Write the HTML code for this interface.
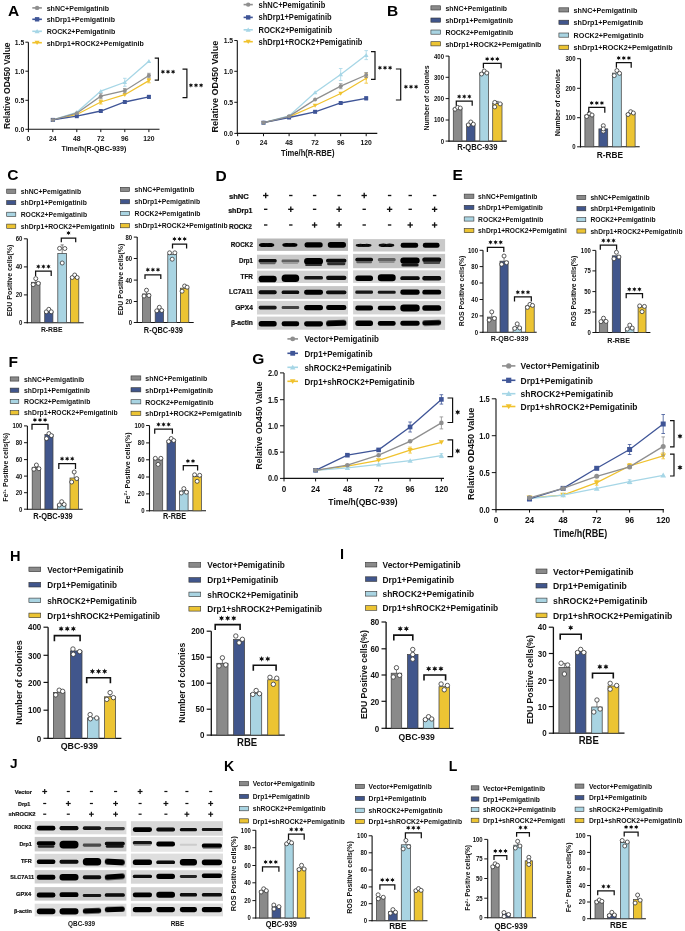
<!DOCTYPE html>
<html><head><meta charset="utf-8"><style>
html,body{margin:0;padding:0;background:#fff;}
svg{display:block;font-family:"Liberation Sans",sans-serif;filter:blur(0.3px);}
</style></head><body>
<svg width="685" height="931" viewBox="0 0 685 931">
<defs><filter id="bl" x="-20%" y="-60%" width="140%" height="220%"><feGaussianBlur stdDeviation="0.75"/></filter></defs>
<rect width="685" height="931" fill="#fff"/>
<text x="0" y="0" transform="translate(7.90,15.99) scale(1.0,1)" font-size="15.52" font-weight="bold" text-anchor="start" fill="#000" >A</text>
<line x1="32.30" y1="7.90" x2="41.90" y2="7.90" stroke="#8f8f8f" stroke-width="1.6"/>
<circle cx="37.10" cy="7.90" r="2.2" fill="#8f8f8f"/>
<text x="0" y="0" transform="translate(46.70,10.75) scale(0.89,1)" font-size="7.92" font-weight="bold" text-anchor="start" fill="#111" >shNC+Pemigatinib</text>
<line x1="32.30" y1="19.30" x2="41.90" y2="19.30" stroke="#3f5597" stroke-width="1.6"/>
<rect x="34.90" y="17.10" width="4.40" height="4.40" fill="#3f5597"/>
<text x="0" y="0" transform="translate(46.70,22.15) scale(0.89,1)" font-size="7.92" font-weight="bold" text-anchor="start" fill="#111" >shDrp1+Pemigatinib</text>
<line x1="32.30" y1="31.30" x2="41.90" y2="31.30" stroke="#a6d6e6" stroke-width="1.6"/>
<path d="M37.10,28.88 L39.63,33.28 L34.57,33.28Z" fill="#a6d6e6"/>
<text x="0" y="0" transform="translate(46.70,34.15) scale(0.89,1)" font-size="7.92" font-weight="bold" text-anchor="start" fill="#111" >ROCK2+Pemigatinib</text>
<line x1="32.30" y1="42.70" x2="41.90" y2="42.70" stroke="#f0c22e" stroke-width="1.6"/>
<path d="M37.10,45.12 L39.63,40.72 L34.57,40.72Z" fill="#f0c22e"/>
<text x="0" y="0" transform="translate(46.70,45.55) scale(0.89,1)" font-size="7.92" font-weight="bold" text-anchor="start" fill="#111" >shDrp1+ROCK2+Pemigatinib</text>
<line x1="28.40" y1="42.20" x2="28.40" y2="129.85" stroke="#111" stroke-width="1.1"/>
<line x1="25.40" y1="129.30" x2="28.40" y2="129.30" stroke="#111" stroke-width="0.9900000000000001"/>
<text x="0" y="0" transform="translate(24.20,132.05) scale(0.89,1)" font-size="7.64" font-weight="bold" text-anchor="end" fill="#111" >0.0</text>
<line x1="25.40" y1="100.30" x2="28.40" y2="100.30" stroke="#111" stroke-width="0.9900000000000001"/>
<text x="0" y="0" transform="translate(24.20,103.05) scale(0.89,1)" font-size="7.64" font-weight="bold" text-anchor="end" fill="#111" >0.5</text>
<line x1="25.40" y1="71.20" x2="28.40" y2="71.20" stroke="#111" stroke-width="0.9900000000000001"/>
<text x="0" y="0" transform="translate(24.20,73.95) scale(0.89,1)" font-size="7.64" font-weight="bold" text-anchor="end" fill="#111" >1.0</text>
<line x1="25.40" y1="42.20" x2="28.40" y2="42.20" stroke="#111" stroke-width="0.9900000000000001"/>
<text x="0" y="0" transform="translate(24.20,44.95) scale(0.89,1)" font-size="7.64" font-weight="bold" text-anchor="end" fill="#111" >1.5</text>
<line x1="27.90" y1="129.30" x2="159.50" y2="129.30" stroke="#111" stroke-width="1.1"/>
<line x1="28.40" y1="129.30" x2="28.40" y2="132.10" stroke="#111" stroke-width="1.0"/>
<text x="0" y="0" transform="translate(28.40,140.95) scale(0.89,1)" font-size="7.64" font-weight="bold" text-anchor="middle" fill="#111" >0</text>
<line x1="52.80" y1="129.30" x2="52.80" y2="132.10" stroke="#111" stroke-width="1.0"/>
<text x="0" y="0" transform="translate(52.80,140.95) scale(0.89,1)" font-size="7.64" font-weight="bold" text-anchor="middle" fill="#111" >24</text>
<line x1="76.80" y1="129.30" x2="76.80" y2="132.10" stroke="#111" stroke-width="1.0"/>
<text x="0" y="0" transform="translate(76.80,140.95) scale(0.89,1)" font-size="7.64" font-weight="bold" text-anchor="middle" fill="#111" >48</text>
<line x1="100.80" y1="129.30" x2="100.80" y2="132.10" stroke="#111" stroke-width="1.0"/>
<text x="0" y="0" transform="translate(100.80,140.95) scale(0.89,1)" font-size="7.64" font-weight="bold" text-anchor="middle" fill="#111" >72</text>
<line x1="124.80" y1="129.30" x2="124.80" y2="132.10" stroke="#111" stroke-width="1.0"/>
<text x="0" y="0" transform="translate(124.80,140.95) scale(0.89,1)" font-size="7.64" font-weight="bold" text-anchor="middle" fill="#111" >96</text>
<line x1="148.90" y1="129.30" x2="148.90" y2="132.10" stroke="#111" stroke-width="1.0"/>
<text x="0" y="0" transform="translate(148.90,140.95) scale(0.89,1)" font-size="7.64" font-weight="bold" text-anchor="middle" fill="#111" >120</text>
<text x="0" y="0" transform="translate(93.90,151.27) scale(0.89,1)" font-size="7.98" font-weight="bold" text-anchor="middle" fill="#111" >Time/h(R-QBC-939)</text>
<text x="0" y="0" transform="translate(6.50,85.70) rotate(-90)" font-size="8.53" font-weight="bold" text-anchor="middle" fill="#111" dy="3.07">Relative OD450 Value</text>
<path d="M52.80,119.90 L76.80,114.50 L100.80,102.00 L124.80,94.70 L148.90,80.60" fill="none" stroke="#f0c22e" stroke-width="1.3"/>
<path d="M52.80,122.10 L55.10,118.10 L50.50,118.10Z" fill="#f0c22e"/>
<path d="M76.80,116.70 L79.10,112.70 L74.50,112.70Z" fill="#f0c22e"/>
<line x1="100.80" y1="100.00" x2="100.80" y2="104.00" stroke="#f0c22e" stroke-width="0.8"/>
<line x1="99.00" y1="100.00" x2="102.60" y2="100.00" stroke="#f0c22e" stroke-width="0.8"/>
<line x1="99.00" y1="104.00" x2="102.60" y2="104.00" stroke="#f0c22e" stroke-width="0.8"/>
<path d="M100.80,104.20 L103.10,100.20 L98.50,100.20Z" fill="#f0c22e"/>
<path d="M124.80,96.90 L127.10,92.90 L122.50,92.90Z" fill="#f0c22e"/>
<line x1="148.90" y1="78.40" x2="148.90" y2="82.80" stroke="#f0c22e" stroke-width="0.8"/>
<line x1="147.10" y1="78.40" x2="150.70" y2="78.40" stroke="#f0c22e" stroke-width="0.8"/>
<line x1="147.10" y1="82.80" x2="150.70" y2="82.80" stroke="#f0c22e" stroke-width="0.8"/>
<path d="M148.90,82.80 L151.20,78.80 L146.60,78.80Z" fill="#f0c22e"/>
<path d="M52.80,119.90 L76.80,112.30 L100.80,91.10 L124.80,82.30 L148.90,61.20" fill="none" stroke="#a6d6e6" stroke-width="1.3"/>
<path d="M52.80,117.70 L55.10,121.70 L50.50,121.70Z" fill="#a6d6e6"/>
<path d="M76.80,110.10 L79.10,114.10 L74.50,114.10Z" fill="#a6d6e6"/>
<path d="M100.80,88.90 L103.10,92.90 L98.50,92.90Z" fill="#a6d6e6"/>
<line x1="124.80" y1="78.30" x2="124.80" y2="86.30" stroke="#a6d6e6" stroke-width="0.8"/>
<line x1="123.00" y1="78.30" x2="126.60" y2="78.30" stroke="#a6d6e6" stroke-width="0.8"/>
<line x1="123.00" y1="86.30" x2="126.60" y2="86.30" stroke="#a6d6e6" stroke-width="0.8"/>
<path d="M124.80,80.10 L127.10,84.10 L122.50,84.10Z" fill="#a6d6e6"/>
<path d="M148.90,59.00 L151.20,63.00 L146.60,63.00Z" fill="#a6d6e6"/>
<path d="M52.80,119.90 L76.80,116.20 L100.80,111.00 L124.80,102.00 L148.90,96.90" fill="none" stroke="#3f5597" stroke-width="1.3"/>
<rect x="50.80" y="117.90" width="4.00" height="4.00" fill="#3f5597"/>
<rect x="74.80" y="114.20" width="4.00" height="4.00" fill="#3f5597"/>
<rect x="98.80" y="109.00" width="4.00" height="4.00" fill="#3f5597"/>
<rect x="122.80" y="100.00" width="4.00" height="4.00" fill="#3f5597"/>
<line x1="148.90" y1="95.40" x2="148.90" y2="98.40" stroke="#3f5597" stroke-width="0.8"/>
<line x1="147.10" y1="95.40" x2="150.70" y2="95.40" stroke="#3f5597" stroke-width="0.8"/>
<line x1="147.10" y1="98.40" x2="150.70" y2="98.40" stroke="#3f5597" stroke-width="0.8"/>
<rect x="146.90" y="94.90" width="4.00" height="4.00" fill="#3f5597"/>
<path d="M52.80,119.90 L76.80,113.20 L100.80,96.20 L124.80,90.70 L148.90,75.50" fill="none" stroke="#8f8f8f" stroke-width="1.3"/>
<circle cx="52.80" cy="119.90" r="2.0" fill="#8f8f8f"/>
<circle cx="76.80" cy="113.20" r="2.0" fill="#8f8f8f"/>
<line x1="100.80" y1="93.70" x2="100.80" y2="98.70" stroke="#8f8f8f" stroke-width="0.8"/>
<line x1="99.00" y1="93.70" x2="102.60" y2="93.70" stroke="#8f8f8f" stroke-width="0.8"/>
<line x1="99.00" y1="98.70" x2="102.60" y2="98.70" stroke="#8f8f8f" stroke-width="0.8"/>
<circle cx="100.80" cy="96.20" r="2.0" fill="#8f8f8f"/>
<line x1="124.80" y1="88.50" x2="124.80" y2="92.90" stroke="#8f8f8f" stroke-width="0.8"/>
<line x1="123.00" y1="88.50" x2="126.60" y2="88.50" stroke="#8f8f8f" stroke-width="0.8"/>
<line x1="123.00" y1="92.90" x2="126.60" y2="92.90" stroke="#8f8f8f" stroke-width="0.8"/>
<circle cx="124.80" cy="90.70" r="2.0" fill="#8f8f8f"/>
<line x1="148.90" y1="73.30" x2="148.90" y2="77.70" stroke="#8f8f8f" stroke-width="0.8"/>
<line x1="147.10" y1="73.30" x2="150.70" y2="73.30" stroke="#8f8f8f" stroke-width="0.8"/>
<line x1="147.10" y1="77.70" x2="150.70" y2="77.70" stroke="#8f8f8f" stroke-width="0.8"/>
<circle cx="148.90" cy="75.50" r="2.0" fill="#8f8f8f"/>
<path d="M154.70,58.20 L158.40,58.20 L158.40,80.10 L154.70,80.10" fill="none" stroke="#111" stroke-width="1.2"/>
<path d="M162.90,69.45 L163.47,70.80 L164.94,70.62 L164.05,71.80 L164.94,72.97 L163.47,72.80 L162.90,74.15 L162.33,72.80 L160.86,72.97 L161.75,71.80 L160.86,70.62 L162.33,70.80Z M168.00,69.45 L168.57,70.80 L170.04,70.62 L169.15,71.80 L170.04,72.97 L168.57,72.80 L168.00,74.15 L167.43,72.80 L165.96,72.97 L166.85,71.80 L165.96,70.62 L167.43,70.80Z M173.10,69.45 L173.67,70.80 L175.14,70.62 L174.25,71.80 L175.14,72.97 L173.67,72.80 L173.10,74.15 L172.53,72.80 L171.06,72.97 L171.95,71.80 L171.06,70.62 L172.53,70.80Z " fill="#111"/>
<path d="M182.50,69.20 L186.90,69.20 L186.90,97.70 L182.50,97.70" fill="none" stroke="#111" stroke-width="1.2"/>
<path d="M190.90,82.95 L191.47,84.30 L192.94,84.12 L192.05,85.30 L192.94,86.47 L191.47,86.30 L190.90,87.65 L190.33,86.30 L188.86,86.47 L189.75,85.30 L188.86,84.12 L190.33,84.30Z M196.00,82.95 L196.57,84.30 L198.04,84.12 L197.15,85.30 L198.04,86.47 L196.57,86.30 L196.00,87.65 L195.43,86.30 L193.96,86.47 L194.85,85.30 L193.96,84.12 L195.43,84.30Z M201.10,82.95 L201.67,84.30 L203.14,84.12 L202.25,85.30 L203.14,86.47 L201.67,86.30 L201.10,87.65 L200.53,86.30 L199.06,86.47 L199.95,85.30 L199.06,84.12 L200.53,84.30Z " fill="#111"/>
<line x1="243.60" y1="4.60" x2="252.80" y2="4.60" stroke="#8f8f8f" stroke-width="1.6"/>
<circle cx="248.20" cy="4.60" r="2.2" fill="#8f8f8f"/>
<text x="0" y="0" transform="translate(258.50,7.65) scale(0.89,1)" font-size="8.48" font-weight="bold" text-anchor="start" fill="#111" >shNC+Pemigatinib</text>
<line x1="243.60" y1="17.40" x2="252.80" y2="17.40" stroke="#3f5597" stroke-width="1.6"/>
<rect x="246.00" y="15.20" width="4.40" height="4.40" fill="#3f5597"/>
<text x="0" y="0" transform="translate(258.50,20.45) scale(0.89,1)" font-size="8.48" font-weight="bold" text-anchor="start" fill="#111" >shDrp1+Pemigatinib</text>
<line x1="243.60" y1="29.80" x2="252.80" y2="29.80" stroke="#a6d6e6" stroke-width="1.6"/>
<path d="M248.20,27.38 L250.73,31.78 L245.67,31.78Z" fill="#a6d6e6"/>
<text x="0" y="0" transform="translate(258.50,32.85) scale(0.89,1)" font-size="8.48" font-weight="bold" text-anchor="start" fill="#111" >ROCK2+Pemigatinib</text>
<line x1="243.60" y1="41.70" x2="252.80" y2="41.70" stroke="#f0c22e" stroke-width="1.6"/>
<path d="M248.20,44.12 L250.73,39.72 L245.67,39.72Z" fill="#f0c22e"/>
<text x="0" y="0" transform="translate(258.50,44.75) scale(0.89,1)" font-size="8.48" font-weight="bold" text-anchor="start" fill="#111" >shDrp1+ROCK2+Pemigatinib</text>
<line x1="237.30" y1="40.50" x2="237.30" y2="133.95" stroke="#111" stroke-width="1.1"/>
<line x1="234.30" y1="133.40" x2="237.30" y2="133.40" stroke="#111" stroke-width="0.9900000000000001"/>
<text x="0" y="0" transform="translate(233.10,136.15) scale(0.89,1)" font-size="7.64" font-weight="bold" text-anchor="end" fill="#111" >0.0</text>
<line x1="234.30" y1="102.30" x2="237.30" y2="102.30" stroke="#111" stroke-width="0.9900000000000001"/>
<text x="0" y="0" transform="translate(233.10,105.05) scale(0.89,1)" font-size="7.64" font-weight="bold" text-anchor="end" fill="#111" >0.5</text>
<line x1="234.30" y1="71.30" x2="237.30" y2="71.30" stroke="#111" stroke-width="0.9900000000000001"/>
<text x="0" y="0" transform="translate(233.10,74.05) scale(0.89,1)" font-size="7.64" font-weight="bold" text-anchor="end" fill="#111" >1.0</text>
<line x1="234.30" y1="40.50" x2="237.30" y2="40.50" stroke="#111" stroke-width="0.9900000000000001"/>
<text x="0" y="0" transform="translate(233.10,43.25) scale(0.89,1)" font-size="7.64" font-weight="bold" text-anchor="end" fill="#111" >1.5</text>
<line x1="236.80" y1="133.40" x2="377.30" y2="133.40" stroke="#111" stroke-width="1.1"/>
<line x1="237.60" y1="133.40" x2="237.60" y2="136.20" stroke="#111" stroke-width="1.0"/>
<text x="0" y="0" transform="translate(237.60,145.15) scale(0.89,1)" font-size="7.64" font-weight="bold" text-anchor="middle" fill="#111" >0</text>
<line x1="263.50" y1="133.40" x2="263.50" y2="136.20" stroke="#111" stroke-width="1.0"/>
<text x="0" y="0" transform="translate(263.50,145.15) scale(0.89,1)" font-size="7.64" font-weight="bold" text-anchor="middle" fill="#111" >24</text>
<line x1="289.10" y1="133.40" x2="289.10" y2="136.20" stroke="#111" stroke-width="1.0"/>
<text x="0" y="0" transform="translate(289.10,145.15) scale(0.89,1)" font-size="7.64" font-weight="bold" text-anchor="middle" fill="#111" >48</text>
<line x1="315.10" y1="133.40" x2="315.10" y2="136.20" stroke="#111" stroke-width="1.0"/>
<text x="0" y="0" transform="translate(315.10,145.15) scale(0.89,1)" font-size="7.64" font-weight="bold" text-anchor="middle" fill="#111" >72</text>
<line x1="340.70" y1="133.40" x2="340.70" y2="136.20" stroke="#111" stroke-width="1.0"/>
<text x="0" y="0" transform="translate(340.70,145.15) scale(0.89,1)" font-size="7.64" font-weight="bold" text-anchor="middle" fill="#111" >96</text>
<line x1="366.20" y1="133.40" x2="366.20" y2="136.20" stroke="#111" stroke-width="1.0"/>
<text x="0" y="0" transform="translate(366.20,145.15) scale(0.89,1)" font-size="7.64" font-weight="bold" text-anchor="middle" fill="#111" >120</text>
<text x="0" y="0" transform="translate(307.70,156.08) scale(0.89,1)" font-size="8.56" font-weight="bold" text-anchor="middle" fill="#111" >Time/h(R-RBE)</text>
<text x="0" y="0" transform="translate(214.50,86.70) rotate(-90)" font-size="9.03" font-weight="bold" text-anchor="middle" fill="#111" dy="3.25">Relative OD450 Value</text>
<path d="M263.50,122.70 L289.10,116.80 L315.10,105.50 L340.70,93.50 L366.20,78.20" fill="none" stroke="#f0c22e" stroke-width="1.3"/>
<path d="M263.50,124.90 L265.80,120.90 L261.20,120.90Z" fill="#f0c22e"/>
<path d="M289.10,119.00 L291.40,115.00 L286.80,115.00Z" fill="#f0c22e"/>
<path d="M315.10,107.70 L317.40,103.70 L312.80,103.70Z" fill="#f0c22e"/>
<path d="M340.70,95.70 L343.00,91.70 L338.40,91.70Z" fill="#f0c22e"/>
<line x1="366.20" y1="73.20" x2="366.20" y2="83.20" stroke="#f0c22e" stroke-width="0.8"/>
<line x1="364.40" y1="73.20" x2="368.00" y2="73.20" stroke="#f0c22e" stroke-width="0.8"/>
<line x1="364.40" y1="83.20" x2="368.00" y2="83.20" stroke="#f0c22e" stroke-width="0.8"/>
<path d="M366.20,80.40 L368.50,76.40 L363.90,76.40Z" fill="#f0c22e"/>
<path d="M263.50,122.70 L289.10,116.00 L315.10,92.50 L340.70,74.50 L366.20,55.10" fill="none" stroke="#a6d6e6" stroke-width="1.3"/>
<path d="M263.50,120.50 L265.80,124.50 L261.20,124.50Z" fill="#a6d6e6"/>
<path d="M289.10,113.80 L291.40,117.80 L286.80,117.80Z" fill="#a6d6e6"/>
<path d="M315.10,90.30 L317.40,94.30 L312.80,94.30Z" fill="#a6d6e6"/>
<line x1="340.70" y1="68.50" x2="340.70" y2="80.50" stroke="#a6d6e6" stroke-width="0.8"/>
<line x1="338.90" y1="68.50" x2="342.50" y2="68.50" stroke="#a6d6e6" stroke-width="0.8"/>
<line x1="338.90" y1="80.50" x2="342.50" y2="80.50" stroke="#a6d6e6" stroke-width="0.8"/>
<path d="M340.70,72.30 L343.00,76.30 L338.40,76.30Z" fill="#a6d6e6"/>
<line x1="366.20" y1="50.60" x2="366.20" y2="59.60" stroke="#a6d6e6" stroke-width="0.8"/>
<line x1="364.40" y1="50.60" x2="368.00" y2="50.60" stroke="#a6d6e6" stroke-width="0.8"/>
<line x1="364.40" y1="59.60" x2="368.00" y2="59.60" stroke="#a6d6e6" stroke-width="0.8"/>
<path d="M366.20,52.90 L368.50,56.90 L363.90,56.90Z" fill="#a6d6e6"/>
<path d="M263.50,122.70 L289.10,117.50 L315.10,111.80 L340.70,103.00 L366.20,98.30" fill="none" stroke="#3f5597" stroke-width="1.3"/>
<rect x="261.50" y="120.70" width="4.00" height="4.00" fill="#3f5597"/>
<rect x="287.10" y="115.50" width="4.00" height="4.00" fill="#3f5597"/>
<rect x="313.10" y="109.80" width="4.00" height="4.00" fill="#3f5597"/>
<rect x="338.70" y="101.00" width="4.00" height="4.00" fill="#3f5597"/>
<line x1="366.20" y1="96.80" x2="366.20" y2="99.80" stroke="#3f5597" stroke-width="0.8"/>
<line x1="364.40" y1="96.80" x2="368.00" y2="96.80" stroke="#3f5597" stroke-width="0.8"/>
<line x1="364.40" y1="99.80" x2="368.00" y2="99.80" stroke="#3f5597" stroke-width="0.8"/>
<rect x="364.20" y="96.30" width="4.00" height="4.00" fill="#3f5597"/>
<path d="M263.50,122.70 L289.10,116.30 L315.10,99.60 L340.70,86.20 L366.20,75.00" fill="none" stroke="#8f8f8f" stroke-width="1.3"/>
<circle cx="263.50" cy="122.70" r="2.0" fill="#8f8f8f"/>
<circle cx="289.10" cy="116.30" r="2.0" fill="#8f8f8f"/>
<circle cx="315.10" cy="99.60" r="2.0" fill="#8f8f8f"/>
<line x1="340.70" y1="83.70" x2="340.70" y2="88.70" stroke="#8f8f8f" stroke-width="0.8"/>
<line x1="338.90" y1="83.70" x2="342.50" y2="83.70" stroke="#8f8f8f" stroke-width="0.8"/>
<line x1="338.90" y1="88.70" x2="342.50" y2="88.70" stroke="#8f8f8f" stroke-width="0.8"/>
<circle cx="340.70" cy="86.20" r="2.0" fill="#8f8f8f"/>
<line x1="366.20" y1="72.50" x2="366.20" y2="77.50" stroke="#8f8f8f" stroke-width="0.8"/>
<line x1="364.40" y1="72.50" x2="368.00" y2="72.50" stroke="#8f8f8f" stroke-width="0.8"/>
<line x1="364.40" y1="77.50" x2="368.00" y2="77.50" stroke="#8f8f8f" stroke-width="0.8"/>
<circle cx="366.20" cy="75.00" r="2.0" fill="#8f8f8f"/>
<path d="M371.00,51.60 L375.00,51.60 L375.00,79.30 L371.00,79.30" fill="none" stroke="#111" stroke-width="1.2"/>
<path d="M379.90,65.45 L380.47,66.80 L381.94,66.62 L381.05,67.80 L381.94,68.97 L380.47,68.80 L379.90,70.15 L379.32,68.80 L377.86,68.97 L378.75,67.80 L377.86,66.62 L379.32,66.80Z M385.00,65.45 L385.57,66.80 L387.04,66.62 L386.15,67.80 L387.04,68.97 L385.57,68.80 L385.00,70.15 L384.43,68.80 L382.96,68.97 L383.85,67.80 L382.96,66.62 L384.43,66.80Z M390.10,65.45 L390.67,66.80 L392.14,66.62 L391.25,67.80 L392.14,68.97 L390.67,68.80 L390.10,70.15 L389.52,68.80 L388.06,68.97 L388.95,67.80 L388.06,66.62 L389.52,66.80Z " fill="#111"/>
<path d="M395.90,69.00 L400.70,69.00 L400.70,100.00 L395.90,100.00" fill="none" stroke="#111" stroke-width="1.2"/>
<path d="M405.90,84.45 L406.47,85.80 L407.94,85.62 L407.05,86.80 L407.94,87.97 L406.47,87.80 L405.90,89.15 L405.32,87.80 L403.86,87.97 L404.75,86.80 L403.86,85.62 L405.32,85.80Z M411.00,84.45 L411.57,85.80 L413.04,85.62 L412.15,86.80 L413.04,87.97 L411.57,87.80 L411.00,89.15 L410.43,87.80 L408.96,87.97 L409.85,86.80 L408.96,85.62 L410.43,85.80Z M416.10,84.45 L416.67,85.80 L418.14,85.62 L417.25,86.80 L418.14,87.97 L416.67,87.80 L416.10,89.15 L415.52,87.80 L414.06,87.97 L414.95,86.80 L414.06,85.62 L415.52,85.80Z " fill="#111"/>
<text x="0" y="0" transform="translate(386.90,16.09) scale(1.0,1)" font-size="15.52" font-weight="bold" text-anchor="start" fill="#000" >B</text>
<rect x="430.90" y="5.80" width="9.80" height="4.20" fill="#8a8a8a" stroke="#333" stroke-width="0.6" />
<text x="0" y="0" transform="translate(445.40,10.72) scale(0.89,1)" font-size="7.83" font-weight="bold" text-anchor="start" fill="#111" >shNC+Pemigatinib</text>
<rect x="430.90" y="18.00" width="9.80" height="4.20" fill="#41568c" stroke="#333" stroke-width="0.6" />
<text x="0" y="0" transform="translate(445.40,22.92) scale(0.89,1)" font-size="7.83" font-weight="bold" text-anchor="start" fill="#111" >shDrp1+Pemigatinib</text>
<rect x="430.90" y="30.00" width="9.80" height="4.20" fill="#a9d4e2" stroke="#333" stroke-width="0.6" />
<text x="0" y="0" transform="translate(445.40,34.92) scale(0.89,1)" font-size="7.83" font-weight="bold" text-anchor="start" fill="#111" >ROCK2+Pemigatinib</text>
<rect x="430.90" y="41.70" width="9.80" height="4.20" fill="#ecc433" stroke="#333" stroke-width="0.6" />
<text x="0" y="0" transform="translate(445.40,46.62) scale(0.89,1)" font-size="7.83" font-weight="bold" text-anchor="start" fill="#111" >shDrp1+ROCK2+Pemigatinib</text>
<line x1="449.00" y1="56.10" x2="449.00" y2="141.65" stroke="#111" stroke-width="1.1"/>
<line x1="445.60" y1="141.10" x2="449.00" y2="141.10" stroke="#111" stroke-width="0.9900000000000001"/>
<text x="0" y="0" transform="translate(444.00,143.53) scale(0.89,1)" font-size="6.74" font-weight="bold" text-anchor="end" fill="#111" >0</text>
<line x1="445.60" y1="120.00" x2="449.00" y2="120.00" stroke="#111" stroke-width="0.9900000000000001"/>
<text x="0" y="0" transform="translate(444.00,122.43) scale(0.89,1)" font-size="6.74" font-weight="bold" text-anchor="end" fill="#111" >100</text>
<line x1="445.60" y1="98.60" x2="449.00" y2="98.60" stroke="#111" stroke-width="0.9900000000000001"/>
<text x="0" y="0" transform="translate(444.00,101.03) scale(0.89,1)" font-size="6.74" font-weight="bold" text-anchor="end" fill="#111" >200</text>
<line x1="445.60" y1="77.30" x2="449.00" y2="77.30" stroke="#111" stroke-width="0.9900000000000001"/>
<text x="0" y="0" transform="translate(444.00,79.73) scale(0.89,1)" font-size="6.74" font-weight="bold" text-anchor="end" fill="#111" >300</text>
<line x1="445.60" y1="56.10" x2="449.00" y2="56.10" stroke="#111" stroke-width="0.9900000000000001"/>
<text x="0" y="0" transform="translate(444.00,58.53) scale(0.89,1)" font-size="6.74" font-weight="bold" text-anchor="end" fill="#111" >400</text>
<line x1="448.50" y1="141.10" x2="506.70" y2="141.10" stroke="#111" stroke-width="1.1"/>
<rect x="453.30" y="108.60" width="8.70" height="32.50" fill="#8a8a8a" stroke="#444" stroke-width="0.75" />
<circle cx="455.04" cy="109.20" r="2.0" fill="#fff" stroke="#333" stroke-width="0.8"/>
<circle cx="457.65" cy="107.40" r="2.0" fill="#fff" stroke="#333" stroke-width="0.8"/>
<circle cx="460.26" cy="108.00" r="2.0" fill="#fff" stroke="#333" stroke-width="0.8"/>
<rect x="466.60" y="124.20" width="8.40" height="16.90" fill="#41568c" stroke="#444" stroke-width="0.75" />
<circle cx="468.28" cy="124.90" r="2.0" fill="#fff" stroke="#333" stroke-width="0.8"/>
<circle cx="470.80" cy="122.00" r="2.0" fill="#fff" stroke="#333" stroke-width="0.8"/>
<circle cx="473.32" cy="124.20" r="2.0" fill="#fff" stroke="#333" stroke-width="0.8"/>
<rect x="479.80" y="72.80" width="8.80" height="68.30" fill="#a9d4e2" stroke="#444" stroke-width="0.75" />
<circle cx="481.56" cy="74.00" r="2.0" fill="#fff" stroke="#333" stroke-width="0.8"/>
<circle cx="484.20" cy="71.00" r="2.0" fill="#fff" stroke="#333" stroke-width="0.8"/>
<circle cx="486.84" cy="73.00" r="2.0" fill="#fff" stroke="#333" stroke-width="0.8"/>
<rect x="492.70" y="103.40" width="9.30" height="37.70" fill="#ecc433" stroke="#444" stroke-width="0.75" />
<line x1="497.35" y1="101.40" x2="497.35" y2="103.40" stroke="#333" stroke-width="0.6"/>
<line x1="495.75" y1="101.40" x2="498.95" y2="101.40" stroke="#333" stroke-width="0.6"/>
<circle cx="494.75" cy="102.40" r="2.0" fill="#fff" stroke="#333" stroke-width="0.8"/>
<circle cx="494.75" cy="106.90" r="2.0" fill="#fff" stroke="#333" stroke-width="0.8"/>
<circle cx="500.14" cy="103.90" r="2.0" fill="#fff" stroke="#333" stroke-width="0.8"/>
<path d="M456.30,105.80 L456.30,101.10 L472.20,101.10 L472.20,105.80" fill="none" stroke="#111" stroke-width="1.25"/>
<path d="M459.15,94.25 L459.72,95.60 L461.19,95.42 L460.30,96.60 L461.19,97.77 L459.72,97.60 L459.15,98.95 L458.57,97.60 L457.11,97.77 L458.00,96.60 L457.11,95.42 L458.57,95.60Z M464.25,94.25 L464.82,95.60 L466.29,95.42 L465.40,96.60 L466.29,97.77 L464.82,97.60 L464.25,98.95 L463.68,97.60 L462.21,97.77 L463.10,96.60 L462.21,95.42 L463.68,95.60Z M469.35,94.25 L469.92,95.60 L471.39,95.42 L470.50,96.60 L471.39,97.77 L469.92,97.60 L469.35,98.95 L468.77,97.60 L467.31,97.77 L468.20,96.60 L467.31,95.42 L468.77,95.60Z " fill="#111"/>
<path d="M483.40,68.30 L483.40,63.40 L501.10,63.40 L501.10,68.30" fill="none" stroke="#111" stroke-width="1.25"/>
<path d="M487.15,56.55 L487.72,57.90 L489.19,57.73 L488.30,58.90 L489.19,60.07 L487.72,59.90 L487.15,61.25 L486.57,59.90 L485.11,60.07 L486.00,58.90 L485.11,57.73 L486.57,57.90Z M492.25,56.55 L492.82,57.90 L494.29,57.73 L493.40,58.90 L494.29,60.07 L492.82,59.90 L492.25,61.25 L491.68,59.90 L490.21,60.07 L491.10,58.90 L490.21,57.73 L491.68,57.90Z M497.35,56.55 L497.92,57.90 L499.39,57.73 L498.50,58.90 L499.39,60.07 L497.92,59.90 L497.35,61.25 L496.77,59.90 L495.31,60.07 L496.20,58.90 L495.31,57.73 L496.77,57.90Z " fill="#111"/>
<text x="0" y="0" transform="translate(477.40,149.68) scale(0.89,1)" font-size="8.55" font-weight="bold" text-anchor="middle" fill="#111" >R-QBC-939</text>
<text x="0" y="0" transform="translate(426.70,97.90) rotate(-90)" font-size="6.98" font-weight="bold" text-anchor="middle" fill="#111" dy="2.51">Number of colonies</text>
<rect x="558.90" y="7.80" width="9.80" height="4.20" fill="#8a8a8a" stroke="#333" stroke-width="0.6" />
<text x="0" y="0" transform="translate(573.60,12.81) scale(0.89,1)" font-size="8.09" font-weight="bold" text-anchor="start" fill="#111" >shNC+Pemigatinib</text>
<rect x="558.90" y="20.20" width="9.80" height="4.20" fill="#41568c" stroke="#333" stroke-width="0.6" />
<text x="0" y="0" transform="translate(573.60,25.21) scale(0.89,1)" font-size="8.09" font-weight="bold" text-anchor="start" fill="#111" >shDrp1+Pemigatinib</text>
<rect x="558.90" y="33.00" width="9.80" height="4.20" fill="#a9d4e2" stroke="#333" stroke-width="0.6" />
<text x="0" y="0" transform="translate(573.60,38.01) scale(0.89,1)" font-size="8.09" font-weight="bold" text-anchor="start" fill="#111" >ROCK2+Pemigatinib</text>
<rect x="558.90" y="45.20" width="9.80" height="4.20" fill="#ecc433" stroke="#333" stroke-width="0.6" />
<text x="0" y="0" transform="translate(573.60,50.21) scale(0.89,1)" font-size="8.09" font-weight="bold" text-anchor="start" fill="#111" >shDrp1+ROCK2+Pemigatinib</text>
<line x1="580.50" y1="58.70" x2="580.50" y2="147.35" stroke="#111" stroke-width="1.1"/>
<line x1="577.10" y1="146.80" x2="580.50" y2="146.80" stroke="#111" stroke-width="0.9900000000000001"/>
<text x="0" y="0" transform="translate(575.50,149.23) scale(0.89,1)" font-size="6.74" font-weight="bold" text-anchor="end" fill="#111" >0</text>
<line x1="577.10" y1="117.70" x2="580.50" y2="117.70" stroke="#111" stroke-width="0.9900000000000001"/>
<text x="0" y="0" transform="translate(575.50,120.13) scale(0.89,1)" font-size="6.74" font-weight="bold" text-anchor="end" fill="#111" >100</text>
<line x1="577.10" y1="88.30" x2="580.50" y2="88.30" stroke="#111" stroke-width="0.9900000000000001"/>
<text x="0" y="0" transform="translate(575.50,90.73) scale(0.89,1)" font-size="6.74" font-weight="bold" text-anchor="end" fill="#111" >200</text>
<line x1="577.10" y1="58.70" x2="580.50" y2="58.70" stroke="#111" stroke-width="0.9900000000000001"/>
<text x="0" y="0" transform="translate(575.50,61.13) scale(0.89,1)" font-size="6.74" font-weight="bold" text-anchor="end" fill="#111" >300</text>
<line x1="580.00" y1="146.80" x2="639.70" y2="146.80" stroke="#111" stroke-width="1.1"/>
<rect x="584.90" y="115.00" width="8.90" height="31.80" fill="#8a8a8a" stroke="#444" stroke-width="0.75" />
<circle cx="586.68" cy="116.50" r="2.0" fill="#fff" stroke="#333" stroke-width="0.8"/>
<circle cx="589.35" cy="113.50" r="2.0" fill="#fff" stroke="#333" stroke-width="0.8"/>
<circle cx="592.02" cy="115.00" r="2.0" fill="#fff" stroke="#333" stroke-width="0.8"/>
<rect x="598.90" y="128.90" width="8.80" height="17.90" fill="#41568c" stroke="#444" stroke-width="0.75" />
<line x1="603.30" y1="125.90" x2="603.30" y2="128.90" stroke="#333" stroke-width="0.6"/>
<line x1="601.70" y1="125.90" x2="604.90" y2="125.90" stroke="#333" stroke-width="0.6"/>
<circle cx="603.30" cy="125.70" r="2.0" fill="#fff" stroke="#333" stroke-width="0.8"/>
<circle cx="603.30" cy="131.20" r="2.0" fill="#fff" stroke="#333" stroke-width="0.8"/>
<circle cx="603.30" cy="128.90" r="2.0" fill="#fff" stroke="#333" stroke-width="0.8"/>
<rect x="612.50" y="73.10" width="8.80" height="73.70" fill="#a9d4e2" stroke="#444" stroke-width="0.75" />
<circle cx="614.26" cy="75.60" r="2.0" fill="#fff" stroke="#333" stroke-width="0.8"/>
<circle cx="616.90" cy="70.50" r="2.0" fill="#fff" stroke="#333" stroke-width="0.8"/>
<circle cx="619.54" cy="73.30" r="2.0" fill="#fff" stroke="#333" stroke-width="0.8"/>
<rect x="626.30" y="113.30" width="8.80" height="33.50" fill="#ecc433" stroke="#444" stroke-width="0.75" />
<circle cx="628.06" cy="114.50" r="2.0" fill="#fff" stroke="#333" stroke-width="0.8"/>
<circle cx="630.70" cy="111.70" r="2.0" fill="#fff" stroke="#333" stroke-width="0.8"/>
<circle cx="633.34" cy="113.00" r="2.0" fill="#fff" stroke="#333" stroke-width="0.8"/>
<path d="M588.80,112.80 L588.80,107.40 L604.80,107.40 L604.80,112.80" fill="none" stroke="#111" stroke-width="1.25"/>
<path d="M591.70,100.65 L592.27,102.00 L593.74,101.83 L592.85,103.00 L593.74,104.17 L592.27,104.00 L591.70,105.35 L591.12,104.00 L589.66,104.17 L590.55,103.00 L589.66,101.83 L591.12,102.00Z M596.80,100.65 L597.38,102.00 L598.84,101.83 L597.95,103.00 L598.84,104.17 L597.38,104.00 L596.80,105.35 L596.22,104.00 L594.76,104.17 L595.65,103.00 L594.76,101.83 L596.22,102.00Z M601.90,100.65 L602.48,102.00 L603.94,101.83 L603.05,103.00 L603.94,104.17 L602.48,104.00 L601.90,105.35 L601.32,104.00 L599.86,104.17 L600.75,103.00 L599.86,101.83 L601.32,102.00Z " fill="#111"/>
<path d="M616.40,67.80 L616.40,62.70 L631.20,62.70 L631.20,67.80" fill="none" stroke="#111" stroke-width="1.25"/>
<path d="M618.70,55.65 L619.27,57.00 L620.74,56.83 L619.85,58.00 L620.74,59.17 L619.27,59.00 L618.70,60.35 L618.12,59.00 L616.66,59.17 L617.55,58.00 L616.66,56.83 L618.12,57.00Z M623.80,55.65 L624.38,57.00 L625.84,56.83 L624.95,58.00 L625.84,59.17 L624.38,59.00 L623.80,60.35 L623.22,59.00 L621.76,59.17 L622.65,58.00 L621.76,56.83 L623.22,57.00Z M628.90,55.65 L629.48,57.00 L630.94,56.83 L630.05,58.00 L630.94,59.17 L629.48,59.00 L628.90,60.35 L628.32,59.00 L626.86,59.17 L627.75,58.00 L626.86,56.83 L628.32,57.00Z " fill="#111"/>
<text x="0" y="0" transform="translate(610.00,158.06) scale(0.89,1)" font-size="9.33" font-weight="bold" text-anchor="middle" fill="#111" >R-RBE</text>
<text x="0" y="0" transform="translate(557.10,102.70) rotate(-90)" font-size="7.21" font-weight="bold" text-anchor="middle" fill="#111" dy="2.59">Number of colonies</text>
<text x="0" y="0" transform="translate(7.20,179.89) scale(1.0,1)" font-size="15.52" font-weight="bold" text-anchor="start" fill="#000" >C</text>
<rect x="6.70" y="189.10" width="9.10" height="4.20" fill="#8a8a8a" stroke="#333" stroke-width="0.6" />
<text x="0" y="0" transform="translate(20.70,193.96) scale(0.89,1)" font-size="7.67" font-weight="bold" text-anchor="start" fill="#111" >shNC+Pemigatinib</text>
<rect x="6.70" y="200.50" width="9.10" height="4.20" fill="#41568c" stroke="#333" stroke-width="0.6" />
<text x="0" y="0" transform="translate(20.70,205.36) scale(0.89,1)" font-size="7.67" font-weight="bold" text-anchor="start" fill="#111" >shDrp1+Pemigatinib</text>
<rect x="6.70" y="212.20" width="9.10" height="4.20" fill="#a9d4e2" stroke="#333" stroke-width="0.6" />
<text x="0" y="0" transform="translate(20.70,217.06) scale(0.89,1)" font-size="7.67" font-weight="bold" text-anchor="start" fill="#111" >ROCK2+Pemigatinib</text>
<rect x="6.70" y="224.10" width="9.10" height="4.20" fill="#ecc433" stroke="#333" stroke-width="0.6" />
<text x="0" y="0" transform="translate(20.70,228.96) scale(0.89,1)" font-size="7.67" font-weight="bold" text-anchor="start" fill="#111" >shDrp1+ROCK2+Pemigatinib</text>
<line x1="27.30" y1="238.80" x2="27.30" y2="323.25" stroke="#111" stroke-width="1.1"/>
<line x1="23.90" y1="322.70" x2="27.30" y2="322.70" stroke="#111" stroke-width="0.9900000000000001"/>
<text x="0" y="0" transform="translate(22.30,325.13) scale(0.89,1)" font-size="6.74" font-weight="bold" text-anchor="end" fill="#111" >0</text>
<line x1="23.90" y1="294.90" x2="27.30" y2="294.90" stroke="#111" stroke-width="0.9900000000000001"/>
<text x="0" y="0" transform="translate(22.30,297.33) scale(0.89,1)" font-size="6.74" font-weight="bold" text-anchor="end" fill="#111" >20</text>
<line x1="23.90" y1="266.90" x2="27.30" y2="266.90" stroke="#111" stroke-width="0.9900000000000001"/>
<text x="0" y="0" transform="translate(22.30,269.33) scale(0.89,1)" font-size="6.74" font-weight="bold" text-anchor="end" fill="#111" >40</text>
<line x1="23.90" y1="238.80" x2="27.30" y2="238.80" stroke="#111" stroke-width="0.9900000000000001"/>
<text x="0" y="0" transform="translate(22.30,241.23) scale(0.89,1)" font-size="6.74" font-weight="bold" text-anchor="end" fill="#111" >60</text>
<line x1="26.80" y1="322.70" x2="83.70" y2="322.70" stroke="#111" stroke-width="1.1"/>
<rect x="31.50" y="282.30" width="8.50" height="40.40" fill="#8a8a8a" stroke="#444" stroke-width="0.75" />
<line x1="35.75" y1="279.30" x2="35.75" y2="282.30" stroke="#333" stroke-width="0.6"/>
<line x1="34.15" y1="279.30" x2="37.35" y2="279.30" stroke="#333" stroke-width="0.6"/>
<circle cx="33.20" cy="284.60" r="2.0" fill="#fff" stroke="#333" stroke-width="0.8"/>
<circle cx="35.75" cy="278.60" r="2.0" fill="#fff" stroke="#333" stroke-width="0.8"/>
<circle cx="38.30" cy="283.40" r="2.0" fill="#fff" stroke="#333" stroke-width="0.8"/>
<rect x="44.70" y="311.70" width="8.20" height="11.00" fill="#41568c" stroke="#444" stroke-width="0.75" />
<circle cx="46.34" cy="311.80" r="2.0" fill="#fff" stroke="#333" stroke-width="0.8"/>
<circle cx="48.80" cy="309.30" r="2.0" fill="#fff" stroke="#333" stroke-width="0.8"/>
<circle cx="51.26" cy="311.80" r="2.0" fill="#fff" stroke="#333" stroke-width="0.8"/>
<rect x="57.80" y="253.40" width="8.80" height="69.30" fill="#a9d4e2" stroke="#444" stroke-width="0.75" />
<line x1="62.20" y1="244.90" x2="62.20" y2="253.40" stroke="#333" stroke-width="0.6"/>
<line x1="60.60" y1="244.90" x2="63.80" y2="244.90" stroke="#333" stroke-width="0.6"/>
<circle cx="59.56" cy="248.40" r="2.0" fill="#fff" stroke="#333" stroke-width="0.8"/>
<circle cx="62.20" cy="263.00" r="2.0" fill="#fff" stroke="#333" stroke-width="0.8"/>
<circle cx="64.84" cy="248.50" r="2.0" fill="#fff" stroke="#333" stroke-width="0.8"/>
<rect x="70.60" y="277.00" width="8.20" height="45.70" fill="#ecc433" stroke="#444" stroke-width="0.75" />
<circle cx="72.24" cy="277.50" r="2.0" fill="#fff" stroke="#333" stroke-width="0.8"/>
<circle cx="74.70" cy="275.00" r="2.0" fill="#fff" stroke="#333" stroke-width="0.8"/>
<circle cx="77.16" cy="277.50" r="2.0" fill="#fff" stroke="#333" stroke-width="0.8"/>
<path d="M35.60,276.10 L35.60,271.20 L51.20,271.20 L51.20,276.10" fill="none" stroke="#111" stroke-width="1.25"/>
<path d="M38.30,264.25 L38.88,265.60 L40.34,265.43 L39.45,266.60 L40.34,267.78 L38.88,267.60 L38.30,268.95 L37.73,267.60 L36.26,267.78 L37.15,266.60 L36.26,265.43 L37.73,265.60Z M43.40,264.25 L43.98,265.60 L45.44,265.43 L44.55,266.60 L45.44,267.78 L43.98,267.60 L43.40,268.95 L42.83,267.60 L41.36,267.78 L42.25,266.60 L41.36,265.43 L42.83,265.60Z M48.50,264.25 L49.08,265.60 L50.54,265.43 L49.65,266.60 L50.54,267.78 L49.08,267.60 L48.50,268.95 L47.92,267.60 L46.46,267.78 L47.35,266.60 L46.46,265.43 L47.92,265.60Z " fill="#111"/>
<path d="M61.30,242.30 L61.30,238.00 L75.70,238.00 L75.70,242.30" fill="none" stroke="#111" stroke-width="1.25"/>
<path d="M68.50,230.65 L69.08,232.00 L70.54,231.82 L69.65,233.00 L70.54,234.18 L69.08,234.00 L68.50,235.35 L67.92,234.00 L66.46,234.18 L67.35,233.00 L66.46,231.82 L67.92,232.00Z " fill="#111"/>
<text x="0" y="0" transform="translate(51.70,332.47) scale(0.89,1)" font-size="7.69" font-weight="bold" text-anchor="middle" fill="#111" >R-RBE</text>
<text x="0" y="0" transform="translate(9.10,280.50) rotate(-90)" font-size="6.97" font-weight="bold" text-anchor="middle" fill="#111" dy="2.51">EDU Positive cells(%)</text>
<rect x="120.50" y="187.30" width="9.10" height="4.20" fill="#8a8a8a" stroke="#333" stroke-width="0.6" />
<text x="0" y="0" transform="translate(134.50,192.13) scale(0.89,1)" font-size="7.60" font-weight="bold" text-anchor="start" fill="#111" >shNC+Pemigatinib</text>
<rect x="120.50" y="199.60" width="9.10" height="4.20" fill="#41568c" stroke="#333" stroke-width="0.6" />
<text x="0" y="0" transform="translate(134.50,204.43) scale(0.89,1)" font-size="7.60" font-weight="bold" text-anchor="start" fill="#111" >shDrp1+Pemigatinib</text>
<rect x="120.50" y="211.30" width="9.10" height="4.20" fill="#a9d4e2" stroke="#333" stroke-width="0.6" />
<text x="0" y="0" transform="translate(134.50,216.13) scale(0.89,1)" font-size="7.60" font-weight="bold" text-anchor="start" fill="#111" >ROCK2+Pemigatinib</text>
<rect x="120.50" y="223.60" width="9.10" height="4.20" fill="#ecc433" stroke="#333" stroke-width="0.6" />
<text x="0" y="0" transform="translate(134.50,228.43) scale(0.89,1)" font-size="7.60" font-weight="bold" text-anchor="start" fill="#111" >shDrp1+ROCK2+Pemigatinib</text>
<line x1="137.20" y1="237.10" x2="137.20" y2="323.05" stroke="#111" stroke-width="1.1"/>
<line x1="133.80" y1="322.50" x2="137.20" y2="322.50" stroke="#111" stroke-width="0.9900000000000001"/>
<text x="0" y="0" transform="translate(132.20,324.93) scale(0.89,1)" font-size="6.74" font-weight="bold" text-anchor="end" fill="#111" >0</text>
<line x1="133.80" y1="301.50" x2="137.20" y2="301.50" stroke="#111" stroke-width="0.9900000000000001"/>
<text x="0" y="0" transform="translate(132.20,303.93) scale(0.89,1)" font-size="6.74" font-weight="bold" text-anchor="end" fill="#111" >20</text>
<line x1="133.80" y1="280.10" x2="137.20" y2="280.10" stroke="#111" stroke-width="0.9900000000000001"/>
<text x="0" y="0" transform="translate(132.20,282.53) scale(0.89,1)" font-size="6.74" font-weight="bold" text-anchor="end" fill="#111" >40</text>
<line x1="133.80" y1="258.50" x2="137.20" y2="258.50" stroke="#111" stroke-width="0.9900000000000001"/>
<text x="0" y="0" transform="translate(132.20,260.93) scale(0.89,1)" font-size="6.74" font-weight="bold" text-anchor="end" fill="#111" >60</text>
<line x1="133.80" y1="237.10" x2="137.20" y2="237.10" stroke="#111" stroke-width="0.9900000000000001"/>
<text x="0" y="0" transform="translate(132.20,239.53) scale(0.89,1)" font-size="6.74" font-weight="bold" text-anchor="end" fill="#111" >80</text>
<line x1="136.70" y1="322.50" x2="193.70" y2="322.50" stroke="#111" stroke-width="1.1"/>
<rect x="142.40" y="294.00" width="8.20" height="28.50" fill="#8a8a8a" stroke="#444" stroke-width="0.75" />
<line x1="146.50" y1="291.00" x2="146.50" y2="294.00" stroke="#333" stroke-width="0.6"/>
<line x1="144.90" y1="291.00" x2="148.10" y2="291.00" stroke="#333" stroke-width="0.6"/>
<circle cx="144.04" cy="296.00" r="2.0" fill="#fff" stroke="#333" stroke-width="0.8"/>
<circle cx="146.50" cy="290.20" r="2.0" fill="#fff" stroke="#333" stroke-width="0.8"/>
<circle cx="148.96" cy="295.50" r="2.0" fill="#fff" stroke="#333" stroke-width="0.8"/>
<rect x="155.20" y="310.30" width="8.20" height="12.20" fill="#41568c" stroke="#444" stroke-width="0.75" />
<circle cx="156.84" cy="310.80" r="2.0" fill="#fff" stroke="#333" stroke-width="0.8"/>
<circle cx="159.30" cy="307.30" r="2.0" fill="#fff" stroke="#333" stroke-width="0.8"/>
<circle cx="161.76" cy="310.50" r="2.0" fill="#fff" stroke="#333" stroke-width="0.8"/>
<rect x="167.80" y="254.60" width="8.80" height="67.90" fill="#a9d4e2" stroke="#444" stroke-width="0.75" />
<circle cx="169.56" cy="252.80" r="2.0" fill="#fff" stroke="#333" stroke-width="0.8"/>
<circle cx="172.20" cy="259.20" r="2.0" fill="#fff" stroke="#333" stroke-width="0.8"/>
<circle cx="174.84" cy="252.80" r="2.0" fill="#fff" stroke="#333" stroke-width="0.8"/>
<rect x="180.40" y="288.20" width="8.40" height="34.30" fill="#ecc433" stroke="#444" stroke-width="0.75" />
<circle cx="182.08" cy="291.20" r="2.0" fill="#fff" stroke="#333" stroke-width="0.8"/>
<circle cx="184.60" cy="286.00" r="2.0" fill="#fff" stroke="#333" stroke-width="0.8"/>
<circle cx="187.12" cy="287.20" r="2.0" fill="#fff" stroke="#333" stroke-width="0.8"/>
<path d="M145.00,279.10 L145.00,274.80 L160.80,274.80 L160.80,279.10" fill="none" stroke="#111" stroke-width="1.25"/>
<path d="M147.80,267.35 L148.38,268.70 L149.84,268.52 L148.95,269.70 L149.84,270.88 L148.38,270.70 L147.80,272.05 L147.23,270.70 L145.76,270.88 L146.65,269.70 L145.76,268.52 L147.23,268.70Z M152.90,267.35 L153.47,268.70 L154.94,268.52 L154.05,269.70 L154.94,270.88 L153.47,270.70 L152.90,272.05 L152.33,270.70 L150.86,270.88 L151.75,269.70 L150.86,268.52 L152.33,268.70Z M158.00,267.35 L158.57,268.70 L160.04,268.52 L159.15,269.70 L160.04,270.88 L158.57,270.70 L158.00,272.05 L157.43,270.70 L155.96,270.88 L156.85,269.70 L155.96,268.52 L157.43,268.70Z " fill="#111"/>
<path d="M172.50,248.40 L172.50,244.00 L186.60,244.00 L186.60,248.40" fill="none" stroke="#111" stroke-width="1.25"/>
<path d="M174.45,236.55 L175.03,237.90 L176.49,237.72 L175.60,238.90 L176.49,240.08 L175.03,239.90 L174.45,241.25 L173.88,239.90 L172.41,240.08 L173.30,238.90 L172.41,237.72 L173.88,237.90Z M179.55,236.55 L180.12,237.90 L181.59,237.72 L180.70,238.90 L181.59,240.08 L180.12,239.90 L179.55,241.25 L178.98,239.90 L177.51,240.08 L178.40,238.90 L177.51,237.72 L178.98,237.90Z M184.65,236.55 L185.22,237.90 L186.69,237.72 L185.80,238.90 L186.69,240.08 L185.22,239.90 L184.65,241.25 L184.08,239.90 L182.61,240.08 L183.50,238.90 L182.61,237.72 L184.08,237.90Z " fill="#111"/>
<text x="0" y="0" transform="translate(163.40,333.01) scale(0.89,1)" font-size="8.35" font-weight="bold" text-anchor="middle" fill="#111" >R-QBC-939</text>
<text x="0" y="0" transform="translate(120.20,279.50) rotate(-90)" font-size="6.97" font-weight="bold" text-anchor="middle" fill="#111" dy="2.51">EDU Positive cells(%)</text>
<text x="0" y="0" transform="translate(215.40,180.59) scale(1.0,1)" font-size="15.52" font-weight="bold" text-anchor="start" fill="#000" >D</text>
<text x="228.90" y="198.86" font-size="7.4" font-weight="bold" text-anchor="start" fill="#111" stroke="#111" stroke-width="0.22" textLength="19.90" lengthAdjust="spacingAndGlyphs">shNC</text>
<text x="228.20" y="213.16" font-size="7.4" font-weight="bold" text-anchor="start" fill="#111" stroke="#111" stroke-width="0.22" textLength="24.20" lengthAdjust="spacingAndGlyphs">shDrp1</text>
<text x="228.90" y="228.86" font-size="7.4" font-weight="bold" text-anchor="start" fill="#111" stroke="#111" stroke-width="0.22" textLength="23.00" lengthAdjust="spacingAndGlyphs">ROCK2</text>
<line x1="263.00" y1="195.50" x2="268.40" y2="195.50" stroke="#111" stroke-width="1.35"/>
<line x1="265.70" y1="192.80" x2="265.70" y2="198.20" stroke="#111" stroke-width="1.35"/>
<line x1="361.50" y1="195.50" x2="366.90" y2="195.50" stroke="#111" stroke-width="1.35"/>
<line x1="364.20" y1="192.80" x2="364.20" y2="198.20" stroke="#111" stroke-width="1.35"/>
<line x1="289.10" y1="195.50" x2="292.50" y2="195.50" stroke="#111" stroke-width="1.35"/>
<line x1="387.90" y1="195.50" x2="391.30" y2="195.50" stroke="#111" stroke-width="1.35"/>
<line x1="312.90" y1="195.50" x2="316.30" y2="195.50" stroke="#111" stroke-width="1.35"/>
<line x1="408.50" y1="195.50" x2="411.90" y2="195.50" stroke="#111" stroke-width="1.35"/>
<line x1="337.40" y1="195.50" x2="340.80" y2="195.50" stroke="#111" stroke-width="1.35"/>
<line x1="432.90" y1="195.50" x2="436.30" y2="195.50" stroke="#111" stroke-width="1.35"/>
<line x1="264.00" y1="209.30" x2="267.40" y2="209.30" stroke="#111" stroke-width="1.35"/>
<line x1="362.50" y1="209.30" x2="365.90" y2="209.30" stroke="#111" stroke-width="1.35"/>
<line x1="288.10" y1="209.30" x2="293.50" y2="209.30" stroke="#111" stroke-width="1.35"/>
<line x1="290.80" y1="206.60" x2="290.80" y2="212.00" stroke="#111" stroke-width="1.35"/>
<line x1="386.90" y1="209.30" x2="392.30" y2="209.30" stroke="#111" stroke-width="1.35"/>
<line x1="389.60" y1="206.60" x2="389.60" y2="212.00" stroke="#111" stroke-width="1.35"/>
<line x1="312.90" y1="209.30" x2="316.30" y2="209.30" stroke="#111" stroke-width="1.35"/>
<line x1="408.50" y1="209.30" x2="411.90" y2="209.30" stroke="#111" stroke-width="1.35"/>
<line x1="336.40" y1="209.30" x2="341.80" y2="209.30" stroke="#111" stroke-width="1.35"/>
<line x1="339.10" y1="206.60" x2="339.10" y2="212.00" stroke="#111" stroke-width="1.35"/>
<line x1="431.90" y1="209.30" x2="437.30" y2="209.30" stroke="#111" stroke-width="1.35"/>
<line x1="434.60" y1="206.60" x2="434.60" y2="212.00" stroke="#111" stroke-width="1.35"/>
<line x1="264.00" y1="225.00" x2="267.40" y2="225.00" stroke="#111" stroke-width="1.35"/>
<line x1="362.50" y1="225.00" x2="365.90" y2="225.00" stroke="#111" stroke-width="1.35"/>
<line x1="289.10" y1="225.00" x2="292.50" y2="225.00" stroke="#111" stroke-width="1.35"/>
<line x1="387.90" y1="225.00" x2="391.30" y2="225.00" stroke="#111" stroke-width="1.35"/>
<line x1="311.90" y1="225.00" x2="317.30" y2="225.00" stroke="#111" stroke-width="1.35"/>
<line x1="314.60" y1="222.30" x2="314.60" y2="227.70" stroke="#111" stroke-width="1.35"/>
<line x1="407.50" y1="225.00" x2="412.90" y2="225.00" stroke="#111" stroke-width="1.35"/>
<line x1="410.20" y1="222.30" x2="410.20" y2="227.70" stroke="#111" stroke-width="1.35"/>
<line x1="336.40" y1="225.00" x2="341.80" y2="225.00" stroke="#111" stroke-width="1.35"/>
<line x1="339.10" y1="222.30" x2="339.10" y2="227.70" stroke="#111" stroke-width="1.35"/>
<line x1="431.90" y1="225.00" x2="437.30" y2="225.00" stroke="#111" stroke-width="1.35"/>
<line x1="434.60" y1="222.30" x2="434.60" y2="227.70" stroke="#111" stroke-width="1.35"/>
<text x="230.80" y="247.46" font-size="7.4" font-weight="bold" text-anchor="start" fill="#111" stroke="#111" stroke-width="0.22" textLength="22.10" lengthAdjust="spacingAndGlyphs">ROCK2</text>
<text x="239.00" y="263.26" font-size="7.4" font-weight="bold" text-anchor="start" fill="#111" stroke="#111" stroke-width="0.22" textLength="13.90" lengthAdjust="spacingAndGlyphs">Drp1</text>
<text x="240.50" y="279.36" font-size="7.4" font-weight="bold" text-anchor="start" fill="#111" stroke="#111" stroke-width="0.22" textLength="12.40" lengthAdjust="spacingAndGlyphs">TFR</text>
<text x="229.00" y="294.46" font-size="7.4" font-weight="bold" text-anchor="start" fill="#111" stroke="#111" stroke-width="0.22" textLength="23.90" lengthAdjust="spacingAndGlyphs">LC7A11</text>
<text x="235.20" y="309.76" font-size="7.4" font-weight="bold" text-anchor="start" fill="#111" stroke="#111" stroke-width="0.22" textLength="17.70" lengthAdjust="spacingAndGlyphs">GPX4</text>
<text x="231.00" y="324.86" font-size="7.4" font-weight="bold" text-anchor="start" fill="#111" stroke="#111" stroke-width="0.22" textLength="21.90" lengthAdjust="spacingAndGlyphs">β-actin</text>
<rect x="257.00" y="238.50" width="91.00" height="12.40" fill="#b8b8b8" />
<g filter="url(#bl)" fill="rgb(0,0,0)"><rect x="261.21" y="243.38" width="10.78" height="3.04"/><ellipse cx="263.52" cy="244.90" rx="4.62" ry="2.00"/><ellipse cx="269.68" cy="244.90" rx="4.62" ry="2.00"/></g>
<g filter="url(#bl)" fill="rgb(0,0,0)"><rect x="284.58" y="243.46" width="10.64" height="2.89"/><ellipse cx="286.86" cy="244.90" rx="4.56" ry="1.90"/><ellipse cx="292.94" cy="244.90" rx="4.56" ry="1.90"/></g>
<rect x="304.50" y="242.20" width="18.20" height="5.40" rx="2.50" fill="rgb(0,0,0)" filter="url(#bl)"/>
<rect x="327.80" y="242.10" width="18.20" height="5.60" rx="2.60" fill="rgb(0,0,0)" filter="url(#bl)"/>
<rect x="257.00" y="254.70" width="91.00" height="14.00" fill="#cacaca" />
<rect x="258.60" y="259.00" width="18.10" height="3.40" rx="1.50" fill="rgb(7,7,7)" filter="url(#bl)"/>
<rect x="259.60" y="262.00" width="16.10" height="2.20" rx="1.10" fill="rgb(96,96,96)" filter="url(#bl)"/>
<rect x="281.60" y="259.60" width="17.60" height="2.80" rx="1.20" fill="rgb(96,96,96)" filter="url(#bl)"/>
<rect x="282.60" y="262.00" width="15.60" height="2.00" rx="1.00" fill="rgb(156,156,156)" filter="url(#bl)"/>
<rect x="304.10" y="258.10" width="18.90" height="6.40" rx="3.00" fill="rgb(0,0,0)" filter="url(#bl)"/>
<rect x="305.10" y="264.10" width="16.90" height="2.00" rx="1.00" fill="rgb(47,47,47)" filter="url(#bl)"/>
<rect x="326.10" y="258.80" width="20.30" height="3.80" rx="1.70" fill="rgb(7,7,7)" filter="url(#bl)"/>
<rect x="327.10" y="262.20" width="18.30" height="3.00" rx="1.50" fill="rgb(47,47,47)" filter="url(#bl)"/>
<rect x="257.00" y="270.70" width="91.00" height="12.30" fill="#d2d2d2" />
<rect x="258.60" y="275.70" width="18.10" height="6.60" rx="3.10" fill="rgb(0,0,0)" filter="url(#bl)"/>
<rect x="281.60" y="274.60" width="17.60" height="7.40" rx="3.50" fill="rgb(0,0,0)" filter="url(#bl)"/>
<rect x="304.10" y="276.10" width="18.90" height="3.40" rx="1.50" fill="rgb(23,23,23)" filter="url(#bl)"/>
<rect x="326.10" y="275.70" width="20.30" height="4.20" rx="1.90" fill="rgb(12,12,12)" filter="url(#bl)"/>
<rect x="257.00" y="286.10" width="91.00" height="12.80" fill="#c6c6c6" />
<rect x="258.60" y="290.30" width="18.10" height="4.00" rx="1.80" fill="rgb(7,7,7)" filter="url(#bl)"/>
<rect x="281.60" y="290.60" width="17.60" height="3.40" rx="1.50" fill="rgb(7,7,7)" filter="url(#bl)"/>
<rect x="304.10" y="289.80" width="18.90" height="5.00" rx="2.30" fill="rgb(0,0,0)" filter="url(#bl)"/>
<rect x="326.10" y="290.40" width="20.30" height="3.80" rx="1.70" fill="rgb(7,7,7)" filter="url(#bl)"/>
<rect x="257.00" y="300.90" width="91.00" height="13.60" fill="#d4d4d4" />
<rect x="258.60" y="305.80" width="18.10" height="3.60" rx="1.60" fill="rgb(19,19,19)" filter="url(#bl)"/>
<rect x="281.60" y="306.10" width="17.60" height="3.00" rx="1.30" fill="rgb(67,67,67)" filter="url(#bl)"/>
<rect x="304.10" y="304.90" width="18.90" height="5.40" rx="2.50" fill="rgb(0,0,0)" filter="url(#bl)"/>
<rect x="326.10" y="305.10" width="20.30" height="5.00" rx="2.30" fill="rgb(0,0,0)" filter="url(#bl)"/>
<rect x="257.00" y="316.60" width="91.00" height="13.10" fill="#d0d0d0" />
<rect x="258.60" y="321.10" width="18.10" height="5.40" rx="2.50" fill="rgb(0,0,0)" filter="url(#bl)"/>
<rect x="281.60" y="321.30" width="17.60" height="5.00" rx="2.30" fill="rgb(0,0,0)" filter="url(#bl)"/>
<rect x="304.10" y="321.20" width="18.90" height="5.20" rx="2.40" fill="rgb(0,0,0)" filter="url(#bl)"/>
<rect x="326.10" y="320.30" width="20.30" height="5.80" rx="2.70" fill="rgb(0,0,0)" filter="url(#bl)" transform="rotate(-2.00 336.25 323.20)"/>
<rect x="353.10" y="239.10" width="92.00" height="12.40" fill="#c9c9c9" />
<g filter="url(#bl)" fill="rgb(7,7,7)"><rect x="358.07" y="244.16" width="11.06" height="2.28"/><ellipse cx="360.44" cy="245.30" rx="4.74" ry="1.50"/><ellipse cx="366.76" cy="245.30" rx="4.74" ry="1.50"/></g>
<g filter="url(#bl)" fill="rgb(7,7,7)"><rect x="380.96" y="244.01" width="10.99" height="2.58"/><ellipse cx="383.31" cy="245.30" rx="4.71" ry="1.70"/><ellipse cx="389.59" cy="245.30" rx="4.71" ry="1.70"/></g>
<rect x="400.60" y="242.80" width="17.60" height="5.00" rx="2.30" fill="rgb(0,0,0)" filter="url(#bl)"/>
<rect x="422.80" y="242.80" width="16.80" height="5.00" rx="2.30" fill="rgb(0,0,0)" filter="url(#bl)"/>
<rect x="353.10" y="253.90" width="92.00" height="14.30" fill="#c4c4c4" />
<rect x="355.30" y="257.65" width="17.70" height="3.90" rx="1.75" fill="rgb(7,7,7)" filter="url(#bl)"/>
<rect x="356.30" y="261.15" width="15.70" height="2.00" rx="1.00" fill="rgb(96,96,96)" filter="url(#bl)"/>
<rect x="377.80" y="257.90" width="17.90" height="3.40" rx="1.50" fill="rgb(96,96,96)" filter="url(#bl)"/>
<rect x="378.80" y="260.90" width="15.90" height="2.00" rx="1.00" fill="rgb(144,144,144)" filter="url(#bl)"/>
<rect x="400.30" y="257.40" width="19.40" height="6.40" rx="3.00" fill="rgb(0,0,0)" filter="url(#bl)"/>
<rect x="401.30" y="263.40" width="17.40" height="3.00" rx="1.50" fill="rgb(23,23,23)" filter="url(#bl)"/>
<rect x="422.30" y="257.60" width="18.90" height="4.40" rx="2.00" fill="rgb(7,7,7)" filter="url(#bl)"/>
<rect x="423.30" y="261.60" width="16.90" height="2.50" rx="1.25" fill="rgb(72,72,72)" filter="url(#bl)"/>
<rect x="353.10" y="270.30" width="92.00" height="12.60" fill="#d4d4d4" />
<rect x="355.30" y="275.50" width="17.70" height="5.40" rx="2.50" fill="rgb(0,0,0)" filter="url(#bl)"/>
<rect x="377.80" y="274.25" width="17.90" height="6.90" rx="3.25" fill="rgb(0,0,0)" filter="url(#bl)"/>
<rect x="400.30" y="276.30" width="19.40" height="3.80" rx="1.70" fill="rgb(7,7,7)" filter="url(#bl)"/>
<rect x="422.30" y="275.90" width="18.90" height="4.60" rx="2.10" fill="rgb(7,7,7)" filter="url(#bl)"/>
<rect x="353.10" y="286.10" width="92.00" height="12.90" fill="#d0d0d0" />
<rect x="355.30" y="290.60" width="17.70" height="3.20" rx="1.40" fill="rgb(19,19,19)" filter="url(#bl)"/>
<rect x="377.80" y="290.70" width="17.90" height="3.00" rx="1.30" fill="rgb(23,23,23)" filter="url(#bl)"/>
<rect x="400.30" y="289.60" width="19.40" height="5.20" rx="2.40" fill="rgb(0,0,0)" filter="url(#bl)"/>
<rect x="422.30" y="289.80" width="18.90" height="4.80" rx="2.20" fill="rgb(0,0,0)" filter="url(#bl)"/>
<rect x="353.10" y="301.00" width="92.00" height="13.40" fill="#d5d5d5" />
<rect x="355.30" y="305.60" width="17.70" height="4.80" rx="2.20" fill="rgb(0,0,0)" filter="url(#bl)"/>
<rect x="377.80" y="305.80" width="17.90" height="4.40" rx="2.00" fill="rgb(0,0,0)" filter="url(#bl)"/>
<rect x="400.30" y="304.50" width="19.40" height="7.00" rx="3.30" fill="rgb(0,0,0)" filter="url(#bl)"/>
<rect x="422.30" y="305.30" width="18.90" height="5.40" rx="2.50" fill="rgb(0,0,0)" filter="url(#bl)"/>
<rect x="353.10" y="316.70" width="92.00" height="13.20" fill="#d6d6d6" />
<rect x="355.30" y="320.60" width="17.70" height="5.40" rx="2.50" fill="rgb(0,0,0)" filter="url(#bl)"/>
<rect x="377.80" y="320.90" width="17.90" height="4.80" rx="2.20" fill="rgb(0,0,0)" filter="url(#bl)"/>
<rect x="400.30" y="320.80" width="19.40" height="5.00" rx="2.30" fill="rgb(0,0,0)" filter="url(#bl)"/>
<rect x="422.30" y="320.20" width="18.90" height="5.20" rx="2.40" fill="rgb(0,0,0)" filter="url(#bl)" transform="rotate(-2.00 431.75 322.80)"/>
<text x="0" y="0" transform="translate(452.60,180.29) scale(1.0,1)" font-size="15.52" font-weight="bold" text-anchor="start" fill="#000" >E</text>
<svg x="0" y="0" width="567" height="931" overflow="hidden">
<rect x="464.20" y="194.10" width="9.70" height="4.20" fill="#8a8a8a" stroke="#333" stroke-width="0.6" />
<text x="0" y="0" transform="translate(478.10,198.91) scale(0.89,1)" font-size="7.53" font-weight="bold" text-anchor="start" fill="#111" >shNC+Pemigatinib</text>
<rect x="464.20" y="205.30" width="9.70" height="4.20" fill="#41568c" stroke="#333" stroke-width="0.6" />
<text x="0" y="0" transform="translate(478.10,210.11) scale(0.89,1)" font-size="7.53" font-weight="bold" text-anchor="start" fill="#111" >shDrp1+Pemigatinib</text>
<rect x="464.20" y="216.90" width="9.70" height="4.20" fill="#a9d4e2" stroke="#333" stroke-width="0.6" />
<text x="0" y="0" transform="translate(478.10,221.71) scale(0.89,1)" font-size="7.53" font-weight="bold" text-anchor="start" fill="#111" >ROCK2+Pemigatinib</text>
<rect x="464.20" y="228.50" width="9.70" height="4.20" fill="#ecc433" stroke="#333" stroke-width="0.6" />
<text x="0" y="0" transform="translate(478.10,233.31) scale(0.89,1)" font-size="7.53" font-weight="bold" text-anchor="start" fill="#111" >shDrp1+ROCK2+Pemigatinib</text>
</svg>
<line x1="483.00" y1="250.30" x2="483.00" y2="332.85" stroke="#111" stroke-width="1.1"/>
<line x1="479.60" y1="332.30" x2="483.00" y2="332.30" stroke="#111" stroke-width="0.9900000000000001"/>
<text x="0" y="0" transform="translate(478.00,334.73) scale(0.89,1)" font-size="6.74" font-weight="bold" text-anchor="end" fill="#111" >0</text>
<line x1="479.60" y1="315.90" x2="483.00" y2="315.90" stroke="#111" stroke-width="0.9900000000000001"/>
<text x="0" y="0" transform="translate(478.00,318.33) scale(0.89,1)" font-size="6.74" font-weight="bold" text-anchor="end" fill="#111" >20</text>
<line x1="479.60" y1="299.50" x2="483.00" y2="299.50" stroke="#111" stroke-width="0.9900000000000001"/>
<text x="0" y="0" transform="translate(478.00,301.93) scale(0.89,1)" font-size="6.74" font-weight="bold" text-anchor="end" fill="#111" >40</text>
<line x1="479.60" y1="283.00" x2="483.00" y2="283.00" stroke="#111" stroke-width="0.9900000000000001"/>
<text x="0" y="0" transform="translate(478.00,285.43) scale(0.89,1)" font-size="6.74" font-weight="bold" text-anchor="end" fill="#111" >60</text>
<line x1="479.60" y1="266.60" x2="483.00" y2="266.60" stroke="#111" stroke-width="0.9900000000000001"/>
<text x="0" y="0" transform="translate(478.00,269.03) scale(0.89,1)" font-size="6.74" font-weight="bold" text-anchor="end" fill="#111" >80</text>
<line x1="479.60" y1="250.30" x2="483.00" y2="250.30" stroke="#111" stroke-width="0.9900000000000001"/>
<text x="0" y="0" transform="translate(478.00,252.73) scale(0.89,1)" font-size="6.74" font-weight="bold" text-anchor="end" fill="#111" >100</text>
<line x1="482.50" y1="332.30" x2="536.70" y2="332.30" stroke="#111" stroke-width="1.1"/>
<rect x="487.40" y="317.10" width="8.70" height="15.20" fill="#8a8a8a" stroke="#444" stroke-width="0.75" />
<line x1="491.75" y1="312.10" x2="491.75" y2="317.10" stroke="#333" stroke-width="0.6"/>
<line x1="490.15" y1="312.10" x2="493.35" y2="312.10" stroke="#333" stroke-width="0.6"/>
<circle cx="489.14" cy="320.10" r="2.0" fill="#fff" stroke="#333" stroke-width="0.8"/>
<circle cx="491.75" cy="311.90" r="2.0" fill="#fff" stroke="#333" stroke-width="0.8"/>
<circle cx="494.36" cy="318.40" r="2.0" fill="#fff" stroke="#333" stroke-width="0.8"/>
<rect x="500.00" y="261.20" width="8.10" height="71.10" fill="#41568c" stroke="#444" stroke-width="0.75" />
<line x1="504.05" y1="256.20" x2="504.05" y2="261.20" stroke="#333" stroke-width="0.6"/>
<line x1="502.45" y1="256.20" x2="505.65" y2="256.20" stroke="#333" stroke-width="0.6"/>
<circle cx="501.62" cy="264.30" r="2.0" fill="#fff" stroke="#333" stroke-width="0.8"/>
<circle cx="504.05" cy="256.00" r="2.0" fill="#fff" stroke="#333" stroke-width="0.8"/>
<circle cx="506.48" cy="262.70" r="2.0" fill="#fff" stroke="#333" stroke-width="0.8"/>
<rect x="513.10" y="327.30" width="8.20" height="5.00" fill="#a9d4e2" stroke="#444" stroke-width="0.75" />
<circle cx="514.74" cy="328.40" r="2.0" fill="#fff" stroke="#333" stroke-width="0.8"/>
<circle cx="517.20" cy="323.90" r="2.0" fill="#fff" stroke="#333" stroke-width="0.8"/>
<circle cx="519.66" cy="327.90" r="2.0" fill="#fff" stroke="#333" stroke-width="0.8"/>
<rect x="525.70" y="306.00" width="8.50" height="26.30" fill="#ecc433" stroke="#444" stroke-width="0.75" />
<circle cx="527.40" cy="307.40" r="2.0" fill="#fff" stroke="#333" stroke-width="0.8"/>
<circle cx="529.95" cy="304.40" r="2.0" fill="#fff" stroke="#333" stroke-width="0.8"/>
<circle cx="532.50" cy="305.40" r="2.0" fill="#fff" stroke="#333" stroke-width="0.8"/>
<path d="M487.40,252.10 L487.40,247.40 L503.80,247.40 L503.80,252.10" fill="none" stroke="#111" stroke-width="1.25"/>
<path d="M490.50,239.95 L491.07,241.30 L492.54,241.12 L491.65,242.30 L492.54,243.48 L491.07,243.30 L490.50,244.65 L489.93,243.30 L488.46,243.48 L489.35,242.30 L488.46,241.12 L489.93,241.30Z M495.60,239.95 L496.18,241.30 L497.64,241.12 L496.75,242.30 L497.64,243.48 L496.18,243.30 L495.60,244.65 L495.03,243.30 L493.56,243.48 L494.45,242.30 L493.56,241.12 L495.03,241.30Z M500.70,239.95 L501.27,241.30 L502.74,241.12 L501.85,242.30 L502.74,243.48 L501.27,243.30 L500.70,244.65 L500.12,243.30 L498.66,243.48 L499.55,242.30 L498.66,241.12 L500.12,241.30Z " fill="#111"/>
<path d="M514.50,301.40 L514.50,296.80 L531.30,296.80 L531.30,301.40" fill="none" stroke="#111" stroke-width="1.25"/>
<path d="M517.80,289.85 L518.38,291.20 L519.84,291.02 L518.95,292.20 L519.84,293.38 L518.38,293.20 L517.80,294.55 L517.22,293.20 L515.76,293.38 L516.65,292.20 L515.76,291.02 L517.22,291.20Z M522.90,289.85 L523.48,291.20 L524.94,291.02 L524.05,292.20 L524.94,293.38 L523.48,293.20 L522.90,294.55 L522.32,293.20 L520.86,293.38 L521.75,292.20 L520.86,291.02 L522.32,291.20Z M528.00,289.85 L528.58,291.20 L530.04,291.02 L529.15,292.20 L530.04,293.38 L528.58,293.20 L528.00,294.55 L527.42,293.20 L525.96,293.38 L526.85,292.20 L525.96,291.02 L527.42,291.20Z " fill="#111"/>
<text x="0" y="0" transform="translate(509.60,341.29) scale(0.89,1)" font-size="8.03" font-weight="bold" text-anchor="middle" fill="#111" >R-QBC-939</text>
<text x="0" y="0" transform="translate(461.90,291.00) rotate(-90)" font-size="6.84" font-weight="bold" text-anchor="middle" fill="#111" dy="2.46">ROS Positive cells(%)</text>
<rect x="576.90" y="195.30" width="8.90" height="4.20" fill="#8a8a8a" stroke="#333" stroke-width="0.6" />
<text x="0" y="0" transform="translate(590.40,200.11) scale(0.89,1)" font-size="7.53" font-weight="bold" text-anchor="start" fill="#111" >shNC+Pemigatinib</text>
<rect x="576.90" y="206.60" width="8.90" height="4.20" fill="#41568c" stroke="#333" stroke-width="0.6" />
<text x="0" y="0" transform="translate(590.40,211.41) scale(0.89,1)" font-size="7.53" font-weight="bold" text-anchor="start" fill="#111" >shDrp1+Pemigatinib</text>
<rect x="576.90" y="217.50" width="8.90" height="4.20" fill="#a9d4e2" stroke="#333" stroke-width="0.6" />
<text x="0" y="0" transform="translate(590.40,222.31) scale(0.89,1)" font-size="7.53" font-weight="bold" text-anchor="start" fill="#111" >ROCK2+Pemigatinib</text>
<rect x="576.90" y="228.90" width="8.90" height="4.20" fill="#ecc433" stroke="#333" stroke-width="0.6" />
<text x="0" y="0" transform="translate(590.40,233.71) scale(0.89,1)" font-size="7.53" font-weight="bold" text-anchor="start" fill="#111" >shDrp1+ROCK2+Pemigatinib</text>
<line x1="595.80" y1="250.40" x2="595.80" y2="333.05" stroke="#111" stroke-width="1.1"/>
<line x1="592.40" y1="332.50" x2="595.80" y2="332.50" stroke="#111" stroke-width="0.9900000000000001"/>
<text x="0" y="0" transform="translate(590.80,334.93) scale(0.89,1)" font-size="6.74" font-weight="bold" text-anchor="end" fill="#111" >0</text>
<line x1="592.40" y1="312.00" x2="595.80" y2="312.00" stroke="#111" stroke-width="0.9900000000000001"/>
<text x="0" y="0" transform="translate(590.80,314.43) scale(0.89,1)" font-size="6.74" font-weight="bold" text-anchor="end" fill="#111" >25</text>
<line x1="592.40" y1="291.60" x2="595.80" y2="291.60" stroke="#111" stroke-width="0.9900000000000001"/>
<text x="0" y="0" transform="translate(590.80,294.03) scale(0.89,1)" font-size="6.74" font-weight="bold" text-anchor="end" fill="#111" >50</text>
<line x1="592.40" y1="270.90" x2="595.80" y2="270.90" stroke="#111" stroke-width="0.9900000000000001"/>
<text x="0" y="0" transform="translate(590.80,273.33) scale(0.89,1)" font-size="6.74" font-weight="bold" text-anchor="end" fill="#111" >75</text>
<line x1="592.40" y1="250.40" x2="595.80" y2="250.40" stroke="#111" stroke-width="0.9900000000000001"/>
<text x="0" y="0" transform="translate(590.80,252.83) scale(0.89,1)" font-size="6.74" font-weight="bold" text-anchor="end" fill="#111" >100</text>
<line x1="595.30" y1="332.50" x2="650.40" y2="332.50" stroke="#111" stroke-width="1.1"/>
<rect x="599.30" y="321.40" width="8.40" height="11.10" fill="#8a8a8a" stroke="#444" stroke-width="0.75" />
<circle cx="600.98" cy="321.60" r="2.0" fill="#fff" stroke="#333" stroke-width="0.8"/>
<circle cx="603.50" cy="318.20" r="2.0" fill="#fff" stroke="#333" stroke-width="0.8"/>
<circle cx="606.02" cy="321.40" r="2.0" fill="#fff" stroke="#333" stroke-width="0.8"/>
<rect x="612.30" y="255.80" width="8.30" height="76.70" fill="#41568c" stroke="#444" stroke-width="0.75" />
<circle cx="613.96" cy="258.80" r="2.0" fill="#fff" stroke="#333" stroke-width="0.8"/>
<circle cx="616.45" cy="252.30" r="2.0" fill="#fff" stroke="#333" stroke-width="0.8"/>
<circle cx="618.94" cy="257.00" r="2.0" fill="#fff" stroke="#333" stroke-width="0.8"/>
<rect x="625.60" y="328.90" width="8.30" height="3.60" fill="#a9d4e2" stroke="#444" stroke-width="0.75" />
<circle cx="627.26" cy="329.10" r="2.0" fill="#fff" stroke="#333" stroke-width="0.8"/>
<circle cx="629.75" cy="325.10" r="2.0" fill="#fff" stroke="#333" stroke-width="0.8"/>
<circle cx="632.24" cy="328.10" r="2.0" fill="#fff" stroke="#333" stroke-width="0.8"/>
<rect x="638.10" y="307.00" width="7.90" height="25.50" fill="#ecc433" stroke="#444" stroke-width="0.75" />
<circle cx="639.68" cy="305.90" r="2.0" fill="#fff" stroke="#333" stroke-width="0.8"/>
<circle cx="642.05" cy="311.70" r="2.0" fill="#fff" stroke="#333" stroke-width="0.8"/>
<circle cx="644.42" cy="306.40" r="2.0" fill="#fff" stroke="#333" stroke-width="0.8"/>
<path d="M600.30,249.80 L600.30,245.00 L616.60,245.00 L616.60,249.80" fill="none" stroke="#111" stroke-width="1.25"/>
<path d="M603.35,238.25 L603.93,239.60 L605.39,239.42 L604.50,240.60 L605.39,241.78 L603.93,241.60 L603.35,242.95 L602.77,241.60 L601.31,241.78 L602.20,240.60 L601.31,239.42 L602.77,239.60Z M608.45,238.25 L609.03,239.60 L610.49,239.42 L609.60,240.60 L610.49,241.78 L609.03,241.60 L608.45,242.95 L607.88,241.60 L606.41,241.78 L607.30,240.60 L606.41,239.42 L607.88,239.60Z M613.55,238.25 L614.13,239.60 L615.59,239.42 L614.70,240.60 L615.59,241.78 L614.13,241.60 L613.55,242.95 L612.98,241.60 L611.51,241.78 L612.40,240.60 L611.51,239.42 L612.98,239.60Z " fill="#111"/>
<path d="M626.20,298.30 L626.20,293.50 L642.50,293.50 L642.50,298.30" fill="none" stroke="#111" stroke-width="1.25"/>
<path d="M629.25,286.95 L629.83,288.30 L631.29,288.12 L630.40,289.30 L631.29,290.48 L629.83,290.30 L629.25,291.65 L628.67,290.30 L627.21,290.48 L628.10,289.30 L627.21,288.12 L628.67,288.30Z M634.35,286.95 L634.93,288.30 L636.39,288.12 L635.50,289.30 L636.39,290.48 L634.93,290.30 L634.35,291.65 L633.77,290.30 L632.31,290.48 L633.20,289.30 L632.31,288.12 L633.77,288.30Z M639.45,286.95 L640.03,288.30 L641.49,288.12 L640.60,289.30 L641.49,290.48 L640.03,290.30 L639.45,291.65 L638.88,290.30 L637.41,290.48 L638.30,289.30 L637.41,288.12 L638.88,288.30Z " fill="#111"/>
<text x="0" y="0" transform="translate(618.60,342.69) scale(0.89,1)" font-size="8.02" font-weight="bold" text-anchor="middle" fill="#111" >R-RBE</text>
<text x="0" y="0" transform="translate(573.90,291.00) rotate(-90)" font-size="6.84" font-weight="bold" text-anchor="middle" fill="#111" dy="2.46">ROS Positive cells(%)</text>
<text x="0" y="0" transform="translate(8.60,367.49) scale(1.0,1)" font-size="15.52" font-weight="bold" text-anchor="start" fill="#000" >F</text>
<rect x="10.20" y="376.90" width="8.60" height="4.20" fill="#8a8a8a" stroke="#333" stroke-width="0.6" />
<text x="0" y="0" transform="translate(24.10,381.75) scale(0.89,1)" font-size="7.64" font-weight="bold" text-anchor="start" fill="#111" >shNC+Pemigatinib</text>
<rect x="10.20" y="388.10" width="8.60" height="4.20" fill="#41568c" stroke="#333" stroke-width="0.6" />
<text x="0" y="0" transform="translate(24.10,392.95) scale(0.89,1)" font-size="7.64" font-weight="bold" text-anchor="start" fill="#111" >shDrp1+Pemigatinib</text>
<rect x="10.20" y="399.30" width="8.60" height="4.20" fill="#a9d4e2" stroke="#333" stroke-width="0.6" />
<text x="0" y="0" transform="translate(24.10,404.15) scale(0.89,1)" font-size="7.64" font-weight="bold" text-anchor="start" fill="#111" >ROCK2+Pemigatinib</text>
<rect x="10.20" y="410.60" width="8.60" height="4.20" fill="#ecc433" stroke="#333" stroke-width="0.6" />
<text x="0" y="0" transform="translate(24.10,415.45) scale(0.89,1)" font-size="7.64" font-weight="bold" text-anchor="start" fill="#111" >shDrp1+ROCK2+Pemigatinib</text>
<line x1="27.40" y1="425.90" x2="27.40" y2="509.75" stroke="#111" stroke-width="1.1"/>
<line x1="24.00" y1="509.20" x2="27.40" y2="509.20" stroke="#111" stroke-width="0.9900000000000001"/>
<text x="0" y="0" transform="translate(22.40,511.63) scale(0.89,1)" font-size="6.74" font-weight="bold" text-anchor="end" fill="#111" >0</text>
<line x1="24.00" y1="492.70" x2="27.40" y2="492.70" stroke="#111" stroke-width="0.9900000000000001"/>
<text x="0" y="0" transform="translate(22.40,495.13) scale(0.89,1)" font-size="6.74" font-weight="bold" text-anchor="end" fill="#111" >20</text>
<line x1="24.00" y1="476.10" x2="27.40" y2="476.10" stroke="#111" stroke-width="0.9900000000000001"/>
<text x="0" y="0" transform="translate(22.40,478.53) scale(0.89,1)" font-size="6.74" font-weight="bold" text-anchor="end" fill="#111" >40</text>
<line x1="24.00" y1="459.60" x2="27.40" y2="459.60" stroke="#111" stroke-width="0.9900000000000001"/>
<text x="0" y="0" transform="translate(22.40,462.03) scale(0.89,1)" font-size="6.74" font-weight="bold" text-anchor="end" fill="#111" >60</text>
<line x1="24.00" y1="442.70" x2="27.40" y2="442.70" stroke="#111" stroke-width="0.9900000000000001"/>
<text x="0" y="0" transform="translate(22.40,445.13) scale(0.89,1)" font-size="6.74" font-weight="bold" text-anchor="end" fill="#111" >80</text>
<line x1="24.00" y1="425.90" x2="27.40" y2="425.90" stroke="#111" stroke-width="0.9900000000000001"/>
<text x="0" y="0" transform="translate(22.40,428.33) scale(0.89,1)" font-size="6.74" font-weight="bold" text-anchor="end" fill="#111" >100</text>
<line x1="26.90" y1="509.20" x2="82.70" y2="509.20" stroke="#111" stroke-width="1.1"/>
<rect x="32.20" y="467.30" width="8.40" height="41.90" fill="#8a8a8a" stroke="#444" stroke-width="0.75" />
<circle cx="33.88" cy="469.20" r="2.0" fill="#fff" stroke="#333" stroke-width="0.8"/>
<circle cx="36.40" cy="465.00" r="2.0" fill="#fff" stroke="#333" stroke-width="0.8"/>
<circle cx="38.92" cy="468.70" r="2.0" fill="#fff" stroke="#333" stroke-width="0.8"/>
<rect x="44.90" y="434.60" width="8.10" height="74.60" fill="#41568c" stroke="#444" stroke-width="0.75" />
<circle cx="46.52" cy="438.60" r="2.0" fill="#fff" stroke="#333" stroke-width="0.8"/>
<circle cx="48.95" cy="433.60" r="2.0" fill="#fff" stroke="#333" stroke-width="0.8"/>
<circle cx="51.38" cy="435.60" r="2.0" fill="#fff" stroke="#333" stroke-width="0.8"/>
<rect x="57.60" y="505.00" width="8.20" height="4.20" fill="#a9d4e2" stroke="#444" stroke-width="0.75" />
<circle cx="59.24" cy="505.00" r="2.0" fill="#fff" stroke="#333" stroke-width="0.8"/>
<circle cx="61.70" cy="501.70" r="2.0" fill="#fff" stroke="#333" stroke-width="0.8"/>
<circle cx="64.16" cy="504.50" r="2.0" fill="#fff" stroke="#333" stroke-width="0.8"/>
<rect x="70.00" y="478.00" width="8.40" height="31.20" fill="#ecc433" stroke="#444" stroke-width="0.75" />
<line x1="74.20" y1="472.00" x2="74.20" y2="478.00" stroke="#333" stroke-width="0.6"/>
<line x1="72.60" y1="472.00" x2="75.80" y2="472.00" stroke="#333" stroke-width="0.6"/>
<circle cx="71.68" cy="482.00" r="2.0" fill="#fff" stroke="#333" stroke-width="0.8"/>
<circle cx="74.20" cy="472.00" r="2.0" fill="#fff" stroke="#333" stroke-width="0.8"/>
<circle cx="76.72" cy="478.60" r="2.0" fill="#fff" stroke="#333" stroke-width="0.8"/>
<path d="M32.00,429.80 L32.00,424.30 L48.00,424.30 L48.00,429.80" fill="none" stroke="#111" stroke-width="1.25"/>
<path d="M34.90,417.55 L35.48,418.90 L36.94,418.72 L36.05,419.90 L36.94,421.07 L35.48,420.90 L34.90,422.25 L34.32,420.90 L32.86,421.07 L33.75,419.90 L32.86,418.72 L34.32,418.90Z M40.00,417.55 L40.58,418.90 L42.04,418.72 L41.15,419.90 L42.04,421.07 L40.58,420.90 L40.00,422.25 L39.42,420.90 L37.96,421.07 L38.85,419.90 L37.96,418.72 L39.42,418.90Z M45.10,417.55 L45.67,418.90 L47.14,418.72 L46.25,419.90 L47.14,421.07 L45.67,420.90 L45.10,422.25 L44.52,420.90 L43.06,421.07 L43.95,419.90 L43.06,418.72 L44.52,418.90Z " fill="#111"/>
<path d="M58.80,469.00 L58.80,463.70 L75.50,463.70 L75.50,469.00" fill="none" stroke="#111" stroke-width="1.25"/>
<path d="M62.05,456.35 L62.63,457.70 L64.09,457.52 L63.20,458.70 L64.09,459.88 L62.63,459.70 L62.05,461.05 L61.48,459.70 L60.01,459.88 L60.90,458.70 L60.01,457.52 L61.48,457.70Z M67.15,456.35 L67.73,457.70 L69.19,457.52 L68.30,458.70 L69.19,459.88 L67.73,459.70 L67.15,461.05 L66.58,459.70 L65.11,459.88 L66.00,458.70 L65.11,457.52 L66.58,457.70Z M72.25,456.35 L72.83,457.70 L74.29,457.52 L73.40,458.70 L74.29,459.88 L72.83,459.70 L72.25,461.05 L71.67,459.70 L70.21,459.88 L71.10,458.70 L70.21,457.52 L71.67,457.70Z " fill="#111"/>
<text x="0" y="0" transform="translate(53.00,518.73) scale(0.89,1)" font-size="8.42" font-weight="bold" text-anchor="middle" fill="#111" >R-QBC-939</text>
<text x="0" y="0" transform="translate(5.90,467.30) rotate(-90)" font-size="6.89" font-weight="bold" text-anchor="middle" fill="#111" dy="2.48">Fe<tspan font-size="4.13" dy="-2.62">2+</tspan><tspan dy="2.62"> Positive cells(%)</tspan></text>
<rect x="131.00" y="375.90" width="9.80" height="4.20" fill="#8a8a8a" stroke="#333" stroke-width="0.6" />
<text x="0" y="0" transform="translate(145.30,380.83) scale(0.89,1)" font-size="7.87" font-weight="bold" text-anchor="start" fill="#111" >shNC+Pemigatinib</text>
<rect x="131.00" y="387.70" width="9.80" height="4.20" fill="#41568c" stroke="#333" stroke-width="0.6" />
<text x="0" y="0" transform="translate(145.30,392.63) scale(0.89,1)" font-size="7.87" font-weight="bold" text-anchor="start" fill="#111" >shDrp1+Pemigatinib</text>
<rect x="131.00" y="399.70" width="9.80" height="4.20" fill="#a9d4e2" stroke="#333" stroke-width="0.6" />
<text x="0" y="0" transform="translate(145.30,404.63) scale(0.89,1)" font-size="7.87" font-weight="bold" text-anchor="start" fill="#111" >ROCK2+Pemigatinib</text>
<rect x="131.00" y="411.20" width="9.80" height="4.20" fill="#ecc433" stroke="#333" stroke-width="0.6" />
<text x="0" y="0" transform="translate(145.30,416.13) scale(0.89,1)" font-size="7.87" font-weight="bold" text-anchor="start" fill="#111" >shDrp1+ROCK2+Pemigatinib</text>
<line x1="149.50" y1="425.50" x2="149.50" y2="511.35" stroke="#111" stroke-width="1.1"/>
<line x1="146.10" y1="510.80" x2="149.50" y2="510.80" stroke="#111" stroke-width="0.9900000000000001"/>
<text x="0" y="0" transform="translate(144.50,513.23) scale(0.89,1)" font-size="6.74" font-weight="bold" text-anchor="end" fill="#111" >0</text>
<line x1="146.10" y1="493.90" x2="149.50" y2="493.90" stroke="#111" stroke-width="0.9900000000000001"/>
<text x="0" y="0" transform="translate(144.50,496.33) scale(0.89,1)" font-size="6.74" font-weight="bold" text-anchor="end" fill="#111" >20</text>
<line x1="146.10" y1="477.00" x2="149.50" y2="477.00" stroke="#111" stroke-width="0.9900000000000001"/>
<text x="0" y="0" transform="translate(144.50,479.43) scale(0.89,1)" font-size="6.74" font-weight="bold" text-anchor="end" fill="#111" >40</text>
<line x1="146.10" y1="459.80" x2="149.50" y2="459.80" stroke="#111" stroke-width="0.9900000000000001"/>
<text x="0" y="0" transform="translate(144.50,462.23) scale(0.89,1)" font-size="6.74" font-weight="bold" text-anchor="end" fill="#111" >60</text>
<line x1="146.10" y1="442.90" x2="149.50" y2="442.90" stroke="#111" stroke-width="0.9900000000000001"/>
<text x="0" y="0" transform="translate(144.50,445.33) scale(0.89,1)" font-size="6.74" font-weight="bold" text-anchor="end" fill="#111" >80</text>
<line x1="146.10" y1="425.50" x2="149.50" y2="425.50" stroke="#111" stroke-width="0.9900000000000001"/>
<text x="0" y="0" transform="translate(144.50,427.93) scale(0.89,1)" font-size="6.74" font-weight="bold" text-anchor="end" fill="#111" >100</text>
<line x1="149.00" y1="510.80" x2="206.00" y2="510.80" stroke="#111" stroke-width="1.1"/>
<rect x="153.50" y="459.00" width="9.20" height="51.80" fill="#8a8a8a" stroke="#444" stroke-width="0.75" />
<circle cx="155.34" cy="458.30" r="2.0" fill="#fff" stroke="#333" stroke-width="0.8"/>
<circle cx="158.10" cy="464.40" r="2.0" fill="#fff" stroke="#333" stroke-width="0.8"/>
<circle cx="160.86" cy="458.30" r="2.0" fill="#fff" stroke="#333" stroke-width="0.8"/>
<rect x="167.00" y="440.70" width="8.40" height="70.10" fill="#41568c" stroke="#444" stroke-width="0.75" />
<circle cx="168.68" cy="441.50" r="2.0" fill="#fff" stroke="#333" stroke-width="0.8"/>
<circle cx="171.20" cy="438.50" r="2.0" fill="#fff" stroke="#333" stroke-width="0.8"/>
<circle cx="173.72" cy="440.50" r="2.0" fill="#fff" stroke="#333" stroke-width="0.8"/>
<rect x="179.60" y="491.00" width="8.50" height="19.80" fill="#a9d4e2" stroke="#444" stroke-width="0.75" />
<circle cx="181.30" cy="493.00" r="2.0" fill="#fff" stroke="#333" stroke-width="0.8"/>
<circle cx="183.85" cy="488.60" r="2.0" fill="#fff" stroke="#333" stroke-width="0.8"/>
<circle cx="186.40" cy="492.20" r="2.0" fill="#fff" stroke="#333" stroke-width="0.8"/>
<rect x="192.90" y="476.60" width="8.50" height="34.20" fill="#ecc433" stroke="#444" stroke-width="0.75" />
<circle cx="194.60" cy="474.80" r="2.0" fill="#fff" stroke="#333" stroke-width="0.8"/>
<circle cx="197.15" cy="481.30" r="2.0" fill="#fff" stroke="#333" stroke-width="0.8"/>
<circle cx="199.70" cy="475.30" r="2.0" fill="#fff" stroke="#333" stroke-width="0.8"/>
<path d="M154.70,433.80 L154.70,429.00 L172.40,429.00 L172.40,433.80" fill="none" stroke="#111" stroke-width="1.25"/>
<path d="M158.45,422.05 L159.03,423.40 L160.49,423.22 L159.60,424.40 L160.49,425.57 L159.03,425.40 L158.45,426.75 L157.88,425.40 L156.41,425.57 L157.30,424.40 L156.41,423.22 L157.88,423.40Z M163.55,422.05 L164.12,423.40 L165.59,423.22 L164.70,424.40 L165.59,425.57 L164.12,425.40 L163.55,426.75 L162.98,425.40 L161.51,425.57 L162.40,424.40 L161.51,423.22 L162.98,423.40Z M168.65,422.05 L169.22,423.40 L170.69,423.22 L169.80,424.40 L170.69,425.57 L169.22,425.40 L168.65,426.75 L168.08,425.40 L166.61,425.57 L167.50,424.40 L166.61,423.22 L168.08,423.40Z " fill="#111"/>
<path d="M183.30,470.60 L183.30,465.70 L197.60,465.70 L197.60,470.60" fill="none" stroke="#111" stroke-width="1.25"/>
<path d="M187.90,458.75 L188.47,460.10 L189.94,459.93 L189.05,461.10 L189.94,462.28 L188.47,462.10 L187.90,463.45 L187.32,462.10 L185.86,462.28 L186.75,461.10 L185.86,459.93 L187.32,460.10Z M193.00,458.75 L193.57,460.10 L195.04,459.93 L194.15,461.10 L195.04,462.28 L193.57,462.10 L193.00,463.45 L192.42,462.10 L190.96,462.28 L191.85,461.10 L190.96,459.93 L192.42,460.10Z " fill="#111"/>
<text x="0" y="0" transform="translate(174.50,519.05) scale(0.89,1)" font-size="8.20" font-weight="bold" text-anchor="middle" fill="#111" >R-RBE</text>
<text x="0" y="0" transform="translate(127.10,468.10) rotate(-90)" font-size="7.14" font-weight="bold" text-anchor="middle" fill="#111" dy="2.57">Fe<tspan font-size="4.28" dy="-2.71">2+</tspan><tspan dy="2.71"> Positive cells(%)</tspan></text>
<text x="0" y="0" transform="translate(252.30,364.19) scale(1.0,1)" font-size="15.52" font-weight="bold" text-anchor="start" fill="#000" >G</text>
<line x1="287.40" y1="338.90" x2="298.00" y2="338.90" stroke="#8f8f8f" stroke-width="1.6"/>
<circle cx="292.70" cy="338.90" r="2.4" fill="#8f8f8f"/>
<text x="0" y="0" transform="translate(304.40,342.14) scale(0.89,1)" font-size="8.99" font-weight="bold" text-anchor="start" fill="#111" >Vector+Pemigatinib</text>
<line x1="287.40" y1="353.30" x2="298.00" y2="353.30" stroke="#3f5597" stroke-width="1.6"/>
<rect x="290.30" y="350.90" width="4.80" height="4.80" fill="#3f5597"/>
<text x="0" y="0" transform="translate(304.40,356.54) scale(0.89,1)" font-size="8.99" font-weight="bold" text-anchor="start" fill="#111" >Drp1+Pemigatinib</text>
<line x1="287.40" y1="367.30" x2="298.00" y2="367.30" stroke="#a6d6e6" stroke-width="1.6"/>
<path d="M292.70,364.66 L295.46,369.46 L289.94,369.46Z" fill="#a6d6e6"/>
<text x="0" y="0" transform="translate(304.40,370.54) scale(0.89,1)" font-size="8.99" font-weight="bold" text-anchor="start" fill="#111" >shROCK2+Pemigatinib</text>
<line x1="287.40" y1="381.30" x2="298.00" y2="381.30" stroke="#f0c22e" stroke-width="1.6"/>
<path d="M292.70,383.94 L295.46,379.14 L289.94,379.14Z" fill="#f0c22e"/>
<text x="0" y="0" transform="translate(304.40,384.54) scale(0.89,1)" font-size="8.99" font-weight="bold" text-anchor="start" fill="#111" >Drp1+shROCK2+Pemigatinib</text>
<line x1="284.00" y1="372.90" x2="284.00" y2="478.95" stroke="#111" stroke-width="1.1"/>
<line x1="280.00" y1="478.40" x2="284.00" y2="478.40" stroke="#111" stroke-width="0.9900000000000001"/>
<text x="0" y="0" transform="translate(278.20,481.39) scale(0.89,1)" font-size="8.31" font-weight="bold" text-anchor="end" fill="#111" >0.0</text>
<line x1="280.00" y1="452.10" x2="284.00" y2="452.10" stroke="#111" stroke-width="0.9900000000000001"/>
<text x="0" y="0" transform="translate(278.20,455.09) scale(0.89,1)" font-size="8.31" font-weight="bold" text-anchor="end" fill="#111" >0.5</text>
<line x1="280.00" y1="425.80" x2="284.00" y2="425.80" stroke="#111" stroke-width="0.9900000000000001"/>
<text x="0" y="0" transform="translate(278.20,428.79) scale(0.89,1)" font-size="8.31" font-weight="bold" text-anchor="end" fill="#111" >1.0</text>
<line x1="280.00" y1="399.70" x2="284.00" y2="399.70" stroke="#111" stroke-width="0.9900000000000001"/>
<text x="0" y="0" transform="translate(278.20,402.69) scale(0.89,1)" font-size="8.31" font-weight="bold" text-anchor="end" fill="#111" >1.5</text>
<line x1="280.00" y1="372.90" x2="284.00" y2="372.90" stroke="#111" stroke-width="0.9900000000000001"/>
<text x="0" y="0" transform="translate(278.20,375.89) scale(0.89,1)" font-size="8.31" font-weight="bold" text-anchor="end" fill="#111" >2.0</text>
<line x1="283.50" y1="478.40" x2="444.00" y2="478.40" stroke="#111" stroke-width="1.1"/>
<line x1="284.00" y1="478.40" x2="284.00" y2="481.40" stroke="#111" stroke-width="1.0"/>
<text x="0" y="0" transform="translate(284.00,492.18) scale(0.89,1)" font-size="9.10" font-weight="bold" text-anchor="middle" fill="#111" >0</text>
<line x1="315.60" y1="478.40" x2="315.60" y2="481.40" stroke="#111" stroke-width="1.0"/>
<text x="0" y="0" transform="translate(315.60,492.18) scale(0.89,1)" font-size="9.10" font-weight="bold" text-anchor="middle" fill="#111" >24</text>
<line x1="347.40" y1="478.40" x2="347.40" y2="481.40" stroke="#111" stroke-width="1.0"/>
<text x="0" y="0" transform="translate(347.40,492.18) scale(0.89,1)" font-size="9.10" font-weight="bold" text-anchor="middle" fill="#111" >48</text>
<line x1="378.60" y1="478.40" x2="378.60" y2="481.40" stroke="#111" stroke-width="1.0"/>
<text x="0" y="0" transform="translate(378.60,492.18) scale(0.89,1)" font-size="9.10" font-weight="bold" text-anchor="middle" fill="#111" >72</text>
<line x1="410.10" y1="478.40" x2="410.10" y2="481.40" stroke="#111" stroke-width="1.0"/>
<text x="0" y="0" transform="translate(410.10,492.18) scale(0.89,1)" font-size="9.10" font-weight="bold" text-anchor="middle" fill="#111" >96</text>
<line x1="441.40" y1="478.40" x2="441.40" y2="481.40" stroke="#111" stroke-width="1.0"/>
<text x="0" y="0" transform="translate(441.40,492.18) scale(0.89,1)" font-size="9.10" font-weight="bold" text-anchor="middle" fill="#111" >120</text>
<text x="0" y="0" transform="translate(363.00,504.67) scale(0.89,1)" font-size="9.64" font-weight="bold" text-anchor="middle" fill="#111" >Time/h(QBC-939)</text>
<text x="0" y="0" transform="translate(259.20,425.50) rotate(-90)" font-size="8.68" font-weight="bold" text-anchor="middle" fill="#111" dy="3.12">Relative OD450 Value</text>
<path d="M315.60,470.30 L347.40,466.20 L378.60,460.30 L410.10,450.10 L441.40,442.30" fill="none" stroke="#f0c22e" stroke-width="1.3"/>
<path d="M315.60,472.83 L318.25,468.23 L312.96,468.23Z" fill="#f0c22e"/>
<path d="M347.40,468.73 L350.04,464.13 L344.75,464.13Z" fill="#f0c22e"/>
<path d="M378.60,462.83 L381.25,458.23 L375.96,458.23Z" fill="#f0c22e"/>
<line x1="410.10" y1="447.10" x2="410.10" y2="453.10" stroke="#f0c22e" stroke-width="0.8"/>
<line x1="408.30" y1="447.10" x2="411.90" y2="447.10" stroke="#f0c22e" stroke-width="0.8"/>
<line x1="408.30" y1="453.10" x2="411.90" y2="453.10" stroke="#f0c22e" stroke-width="0.8"/>
<path d="M410.10,452.63 L412.75,448.03 L407.46,448.03Z" fill="#f0c22e"/>
<path d="M441.40,444.83 L444.04,440.23 L438.75,440.23Z" fill="#f0c22e"/>
<path d="M315.60,470.30 L347.40,467.90 L378.60,464.40 L410.10,460.70 L441.40,455.60" fill="none" stroke="#a6d6e6" stroke-width="1.3"/>
<path d="M315.60,467.77 L318.25,472.37 L312.96,472.37Z" fill="#a6d6e6"/>
<path d="M347.40,465.37 L350.04,469.97 L344.75,469.97Z" fill="#a6d6e6"/>
<path d="M378.60,461.87 L381.25,466.47 L375.96,466.47Z" fill="#a6d6e6"/>
<path d="M410.10,458.17 L412.75,462.77 L407.46,462.77Z" fill="#a6d6e6"/>
<line x1="441.40" y1="453.60" x2="441.40" y2="457.60" stroke="#a6d6e6" stroke-width="0.8"/>
<line x1="439.60" y1="453.60" x2="443.20" y2="453.60" stroke="#a6d6e6" stroke-width="0.8"/>
<line x1="439.60" y1="457.60" x2="443.20" y2="457.60" stroke="#a6d6e6" stroke-width="0.8"/>
<path d="M441.40,453.07 L444.04,457.67 L438.75,457.67Z" fill="#a6d6e6"/>
<path d="M315.60,470.30 L347.40,455.20 L378.60,449.90 L410.10,427.00 L441.40,399.40" fill="none" stroke="#3f5597" stroke-width="1.3"/>
<rect x="313.30" y="468.00" width="4.60" height="4.60" fill="#3f5597"/>
<rect x="345.10" y="452.90" width="4.60" height="4.60" fill="#3f5597"/>
<rect x="376.30" y="447.60" width="4.60" height="4.60" fill="#3f5597"/>
<line x1="410.10" y1="422.00" x2="410.10" y2="432.00" stroke="#3f5597" stroke-width="0.8"/>
<line x1="408.30" y1="422.00" x2="411.90" y2="422.00" stroke="#3f5597" stroke-width="0.8"/>
<line x1="408.30" y1="432.00" x2="411.90" y2="432.00" stroke="#3f5597" stroke-width="0.8"/>
<rect x="407.80" y="424.70" width="4.60" height="4.60" fill="#3f5597"/>
<line x1="441.40" y1="394.70" x2="441.40" y2="404.10" stroke="#3f5597" stroke-width="0.8"/>
<line x1="439.60" y1="394.70" x2="443.20" y2="394.70" stroke="#3f5597" stroke-width="0.8"/>
<line x1="439.60" y1="404.10" x2="443.20" y2="404.10" stroke="#3f5597" stroke-width="0.8"/>
<rect x="439.10" y="397.10" width="4.60" height="4.60" fill="#3f5597"/>
<path d="M315.60,470.30 L347.40,465.20 L378.60,455.20 L410.10,441.30 L441.40,422.90" fill="none" stroke="#8f8f8f" stroke-width="1.3"/>
<circle cx="315.60" cy="470.30" r="2.3" fill="#8f8f8f"/>
<circle cx="347.40" cy="465.20" r="2.3" fill="#8f8f8f"/>
<circle cx="378.60" cy="455.20" r="2.3" fill="#8f8f8f"/>
<circle cx="410.10" cy="441.30" r="2.3" fill="#8f8f8f"/>
<line x1="441.40" y1="416.90" x2="441.40" y2="428.90" stroke="#8f8f8f" stroke-width="0.8"/>
<line x1="439.60" y1="416.90" x2="443.20" y2="416.90" stroke="#8f8f8f" stroke-width="0.8"/>
<line x1="439.60" y1="428.90" x2="443.20" y2="428.90" stroke="#8f8f8f" stroke-width="0.8"/>
<circle cx="441.40" cy="422.90" r="2.3" fill="#8f8f8f"/>
<path d="M447.50,398.00 L452.60,398.00 L452.60,422.50 L447.50,422.50" fill="none" stroke="#111" stroke-width="1.2"/>
<path d="M457.70,409.38 L458.39,411.00 L460.14,410.79 L459.08,412.20 L460.14,413.61 L458.39,413.40 L457.70,415.02 L457.01,413.40 L455.26,413.61 L456.32,412.20 L455.26,410.79 L457.01,411.00Z " fill="#111"/>
<path d="M447.50,439.90 L452.60,439.90 L452.60,456.60 L447.50,456.60" fill="none" stroke="#111" stroke-width="1.2"/>
<path d="M457.70,448.18 L458.39,449.80 L460.14,449.59 L459.08,451.00 L460.14,452.41 L458.39,452.20 L457.70,453.82 L457.01,452.20 L455.26,452.41 L456.32,451.00 L455.26,449.59 L457.01,449.80Z " fill="#111"/>
<line x1="502.00" y1="365.90" x2="515.40" y2="365.90" stroke="#8f8f8f" stroke-width="1.6"/>
<circle cx="508.70" cy="365.90" r="2.6" fill="#8f8f8f"/>
<text x="0" y="0" transform="translate(520.50,369.34) scale(0.89,1)" font-size="9.55" font-weight="bold" text-anchor="start" fill="#111" >Vector+Pemigatinib</text>
<line x1="502.00" y1="380.30" x2="515.40" y2="380.30" stroke="#3f5597" stroke-width="1.6"/>
<rect x="506.10" y="377.70" width="5.20" height="5.20" fill="#3f5597"/>
<text x="0" y="0" transform="translate(520.50,383.74) scale(0.89,1)" font-size="9.55" font-weight="bold" text-anchor="start" fill="#111" >Drp1+Pemigatinib</text>
<line x1="502.00" y1="393.70" x2="515.40" y2="393.70" stroke="#a6d6e6" stroke-width="1.6"/>
<path d="M508.70,390.84 L511.69,396.04 L505.71,396.04Z" fill="#a6d6e6"/>
<text x="0" y="0" transform="translate(520.50,397.14) scale(0.89,1)" font-size="9.55" font-weight="bold" text-anchor="start" fill="#111" >shROCK2+Pemigatinib</text>
<line x1="502.00" y1="406.50" x2="515.40" y2="406.50" stroke="#f0c22e" stroke-width="1.6"/>
<path d="M508.70,409.36 L511.69,404.16 L505.71,404.16Z" fill="#f0c22e"/>
<text x="0" y="0" transform="translate(520.50,409.94) scale(0.89,1)" font-size="9.55" font-weight="bold" text-anchor="start" fill="#111" >Drp1+shROCK2+Pemigatinib</text>
<line x1="496.00" y1="398.80" x2="496.00" y2="510.15" stroke="#111" stroke-width="1.1"/>
<line x1="491.80" y1="509.60" x2="496.00" y2="509.60" stroke="#111" stroke-width="0.9900000000000001"/>
<text x="0" y="0" transform="translate(489.80,512.67) scale(0.89,1)" font-size="8.54" font-weight="bold" text-anchor="end" fill="#111" >0.0</text>
<line x1="491.80" y1="472.60" x2="496.00" y2="472.60" stroke="#111" stroke-width="0.9900000000000001"/>
<text x="0" y="0" transform="translate(489.80,475.67) scale(0.89,1)" font-size="8.54" font-weight="bold" text-anchor="end" fill="#111" >0.5</text>
<line x1="491.80" y1="435.70" x2="496.00" y2="435.70" stroke="#111" stroke-width="0.9900000000000001"/>
<text x="0" y="0" transform="translate(489.80,438.77) scale(0.89,1)" font-size="8.54" font-weight="bold" text-anchor="end" fill="#111" >1.0</text>
<line x1="491.80" y1="398.80" x2="496.00" y2="398.80" stroke="#111" stroke-width="0.9900000000000001"/>
<text x="0" y="0" transform="translate(489.80,401.87) scale(0.89,1)" font-size="8.54" font-weight="bold" text-anchor="end" fill="#111" >1.5</text>
<line x1="495.50" y1="509.60" x2="663.90" y2="509.60" stroke="#111" stroke-width="1.1"/>
<line x1="496.00" y1="509.60" x2="496.00" y2="512.60" stroke="#111" stroke-width="1.0"/>
<text x="0" y="0" transform="translate(496.00,523.46) scale(0.89,1)" font-size="9.33" font-weight="bold" text-anchor="middle" fill="#111" >0</text>
<line x1="529.50" y1="509.60" x2="529.50" y2="512.60" stroke="#111" stroke-width="1.0"/>
<text x="0" y="0" transform="translate(529.50,523.46) scale(0.89,1)" font-size="9.33" font-weight="bold" text-anchor="middle" fill="#111" >24</text>
<line x1="563.10" y1="509.60" x2="563.10" y2="512.60" stroke="#111" stroke-width="1.0"/>
<text x="0" y="0" transform="translate(563.10,523.46) scale(0.89,1)" font-size="9.33" font-weight="bold" text-anchor="middle" fill="#111" >48</text>
<line x1="596.70" y1="509.60" x2="596.70" y2="512.60" stroke="#111" stroke-width="1.0"/>
<text x="0" y="0" transform="translate(596.70,523.46) scale(0.89,1)" font-size="9.33" font-weight="bold" text-anchor="middle" fill="#111" >72</text>
<line x1="629.60" y1="509.60" x2="629.60" y2="512.60" stroke="#111" stroke-width="1.0"/>
<text x="0" y="0" transform="translate(629.60,523.46) scale(0.89,1)" font-size="9.33" font-weight="bold" text-anchor="middle" fill="#111" >96</text>
<line x1="663.20" y1="509.60" x2="663.20" y2="512.60" stroke="#111" stroke-width="1.0"/>
<text x="0" y="0" transform="translate(663.20,523.46) scale(0.89,1)" font-size="9.33" font-weight="bold" text-anchor="middle" fill="#111" >120</text>
<text x="0" y="0" transform="translate(580.40,537.33) scale(0.89,1)" font-size="10.08" font-weight="bold" text-anchor="middle" fill="#111" >Time/h(RBE)</text>
<text x="0" y="0" transform="translate(470.30,453.80) rotate(-90)" font-size="9.08" font-weight="bold" text-anchor="middle" fill="#111" dy="3.27">Relative OD450 Value</text>
<path d="M529.50,497.80 L563.10,495.10 L596.70,482.70 L629.60,466.00 L663.20,455.80" fill="none" stroke="#f0c22e" stroke-width="1.3"/>
<path d="M529.50,500.55 L532.38,495.55 L526.62,495.55Z" fill="#f0c22e"/>
<path d="M563.10,497.85 L565.98,492.85 L560.23,492.85Z" fill="#f0c22e"/>
<line x1="596.70" y1="480.20" x2="596.70" y2="485.20" stroke="#f0c22e" stroke-width="0.8"/>
<line x1="594.90" y1="480.20" x2="598.50" y2="480.20" stroke="#f0c22e" stroke-width="0.8"/>
<line x1="594.90" y1="485.20" x2="598.50" y2="485.20" stroke="#f0c22e" stroke-width="0.8"/>
<path d="M596.70,485.45 L599.58,480.45 L593.83,480.45Z" fill="#f0c22e"/>
<line x1="629.60" y1="463.50" x2="629.60" y2="468.50" stroke="#f0c22e" stroke-width="0.8"/>
<line x1="627.80" y1="463.50" x2="631.40" y2="463.50" stroke="#f0c22e" stroke-width="0.8"/>
<line x1="627.80" y1="468.50" x2="631.40" y2="468.50" stroke="#f0c22e" stroke-width="0.8"/>
<path d="M629.60,468.75 L632.48,463.75 L626.73,463.75Z" fill="#f0c22e"/>
<line x1="663.20" y1="452.80" x2="663.20" y2="458.80" stroke="#f0c22e" stroke-width="0.8"/>
<line x1="661.40" y1="452.80" x2="665.00" y2="452.80" stroke="#f0c22e" stroke-width="0.8"/>
<line x1="661.40" y1="458.80" x2="665.00" y2="458.80" stroke="#f0c22e" stroke-width="0.8"/>
<path d="M663.20,458.55 L666.08,453.55 L660.33,453.55Z" fill="#f0c22e"/>
<path d="M529.50,498.50 L563.10,495.10 L596.70,488.40 L629.60,481.70 L663.20,475.30" fill="none" stroke="#a6d6e6" stroke-width="1.3"/>
<path d="M529.50,495.75 L532.38,500.75 L526.62,500.75Z" fill="#a6d6e6"/>
<path d="M563.10,492.35 L565.98,497.35 L560.23,497.35Z" fill="#a6d6e6"/>
<path d="M596.70,485.65 L599.58,490.65 L593.83,490.65Z" fill="#a6d6e6"/>
<line x1="629.60" y1="479.70" x2="629.60" y2="483.70" stroke="#a6d6e6" stroke-width="0.8"/>
<line x1="627.80" y1="479.70" x2="631.40" y2="479.70" stroke="#a6d6e6" stroke-width="0.8"/>
<line x1="627.80" y1="483.70" x2="631.40" y2="483.70" stroke="#a6d6e6" stroke-width="0.8"/>
<path d="M629.60,478.95 L632.48,483.95 L626.73,483.95Z" fill="#a6d6e6"/>
<path d="M663.20,472.55 L666.08,477.55 L660.33,477.55Z" fill="#a6d6e6"/>
<path d="M529.50,499.00 L563.10,488.40 L596.70,468.30 L629.60,449.50 L663.20,424.00" fill="none" stroke="#3f5597" stroke-width="1.3"/>
<rect x="527.00" y="496.50" width="5.00" height="5.00" fill="#3f5597"/>
<rect x="560.60" y="485.90" width="5.00" height="5.00" fill="#3f5597"/>
<rect x="594.20" y="465.80" width="5.00" height="5.00" fill="#3f5597"/>
<line x1="629.60" y1="444.50" x2="629.60" y2="454.50" stroke="#3f5597" stroke-width="0.8"/>
<line x1="627.80" y1="444.50" x2="631.40" y2="444.50" stroke="#3f5597" stroke-width="0.8"/>
<line x1="627.80" y1="454.50" x2="631.40" y2="454.50" stroke="#3f5597" stroke-width="0.8"/>
<rect x="627.10" y="447.00" width="5.00" height="5.00" fill="#3f5597"/>
<line x1="663.20" y1="414.50" x2="663.20" y2="433.50" stroke="#3f5597" stroke-width="0.8"/>
<line x1="661.40" y1="414.50" x2="665.00" y2="414.50" stroke="#3f5597" stroke-width="0.8"/>
<line x1="661.40" y1="433.50" x2="665.00" y2="433.50" stroke="#3f5597" stroke-width="0.8"/>
<rect x="660.70" y="421.50" width="5.00" height="5.00" fill="#3f5597"/>
<path d="M529.50,497.80 L563.10,488.40 L596.70,476.30 L629.60,466.90 L663.20,446.40" fill="none" stroke="#8f8f8f" stroke-width="1.3"/>
<circle cx="529.50" cy="497.80" r="2.5" fill="#8f8f8f"/>
<circle cx="563.10" cy="488.40" r="2.5" fill="#8f8f8f"/>
<circle cx="596.70" cy="476.30" r="2.5" fill="#8f8f8f"/>
<circle cx="629.60" cy="466.90" r="2.5" fill="#8f8f8f"/>
<line x1="663.20" y1="436.90" x2="663.20" y2="455.90" stroke="#8f8f8f" stroke-width="0.8"/>
<line x1="661.40" y1="436.90" x2="665.00" y2="436.90" stroke="#8f8f8f" stroke-width="0.8"/>
<line x1="661.40" y1="455.90" x2="665.00" y2="455.90" stroke="#8f8f8f" stroke-width="0.8"/>
<circle cx="663.20" cy="446.40" r="2.5" fill="#8f8f8f"/>
<path d="M670.00,420.60 L674.00,420.60 L674.00,446.80 L670.00,446.80" fill="none" stroke="#111" stroke-width="1.2"/>
<path d="M680.00,433.38 L680.69,435.00 L682.44,434.79 L681.38,436.20 L682.44,437.61 L680.69,437.40 L680.00,439.02 L679.31,437.40 L677.56,437.61 L678.62,436.20 L677.56,434.79 L679.31,435.00Z " fill="#111"/>
<path d="M670.00,454.20 L674.00,454.20 L674.00,476.00 L670.00,476.00" fill="none" stroke="#111" stroke-width="1.2"/>
<path d="M680.00,464.68 L680.69,466.30 L682.44,466.09 L681.38,467.50 L682.44,468.91 L680.69,468.70 L680.00,470.32 L679.31,468.70 L677.56,468.91 L678.62,467.50 L677.56,466.09 L679.31,466.30Z " fill="#111"/>
<text x="0" y="0" transform="translate(9.90,561.24) scale(1.0,1)" font-size="14.55" font-weight="bold" text-anchor="start" fill="#000" >H</text>
<rect x="28.90" y="567.10" width="11.80" height="4.60" fill="#8a8a8a" stroke="#333" stroke-width="0.6" />
<text x="0" y="0" transform="translate(47.30,572.72) scale(0.89,1)" font-size="9.21" font-weight="bold" text-anchor="start" fill="#111" >Vector+Pemigatinib</text>
<rect x="28.90" y="582.40" width="11.80" height="4.60" fill="#41568c" stroke="#333" stroke-width="0.6" />
<text x="0" y="0" transform="translate(47.30,588.02) scale(0.89,1)" font-size="9.21" font-weight="bold" text-anchor="start" fill="#111" >Drp1+Pemigatinib</text>
<rect x="28.90" y="598.10" width="11.80" height="4.60" fill="#a9d4e2" stroke="#333" stroke-width="0.6" />
<text x="0" y="0" transform="translate(47.30,603.72) scale(0.89,1)" font-size="9.21" font-weight="bold" text-anchor="start" fill="#111" >shROCK2+Pemigatinib</text>
<rect x="28.90" y="613.10" width="11.80" height="4.60" fill="#ecc433" stroke="#333" stroke-width="0.6" />
<text x="0" y="0" transform="translate(47.30,618.72) scale(0.89,1)" font-size="9.21" font-weight="bold" text-anchor="start" fill="#111" >Drp1+shROCK2+Pemigatinib</text>
<line x1="48.10" y1="627.20" x2="48.10" y2="738.95" stroke="#111" stroke-width="1.3"/>
<line x1="43.50" y1="738.30" x2="48.10" y2="738.30" stroke="#111" stroke-width="1.1700000000000002"/>
<text x="0" y="0" transform="translate(41.30,741.54) scale(0.89,1)" font-size="8.99" font-weight="bold" text-anchor="end" fill="#111" >0</text>
<line x1="43.50" y1="710.20" x2="48.10" y2="710.20" stroke="#111" stroke-width="1.1700000000000002"/>
<text x="0" y="0" transform="translate(41.30,713.44) scale(0.89,1)" font-size="8.99" font-weight="bold" text-anchor="end" fill="#111" >100</text>
<line x1="43.50" y1="682.40" x2="48.10" y2="682.40" stroke="#111" stroke-width="1.1700000000000002"/>
<text x="0" y="0" transform="translate(41.30,685.64) scale(0.89,1)" font-size="8.99" font-weight="bold" text-anchor="end" fill="#111" >200</text>
<line x1="43.50" y1="655.30" x2="48.10" y2="655.30" stroke="#111" stroke-width="1.1700000000000002"/>
<text x="0" y="0" transform="translate(41.30,658.54) scale(0.89,1)" font-size="8.99" font-weight="bold" text-anchor="end" fill="#111" >300</text>
<line x1="43.50" y1="627.20" x2="48.10" y2="627.20" stroke="#111" stroke-width="1.1700000000000002"/>
<text x="0" y="0" transform="translate(41.30,630.44) scale(0.89,1)" font-size="8.99" font-weight="bold" text-anchor="end" fill="#111" >400</text>
<line x1="47.60" y1="738.30" x2="121.40" y2="738.30" stroke="#111" stroke-width="1.3"/>
<rect x="53.40" y="692.40" width="11.60" height="45.90" fill="#8a8a8a" stroke="#444" stroke-width="0.75" />
<circle cx="55.72" cy="694.90" r="2.2" fill="#fff" stroke="#333" stroke-width="0.8"/>
<circle cx="59.20" cy="690.20" r="2.2" fill="#fff" stroke="#333" stroke-width="0.8"/>
<circle cx="62.68" cy="691.30" r="2.2" fill="#fff" stroke="#333" stroke-width="0.8"/>
<rect x="70.40" y="650.90" width="11.60" height="87.40" fill="#41568c" stroke="#444" stroke-width="0.75" />
<circle cx="72.95" cy="649.00" r="2.2" fill="#fff" stroke="#333" stroke-width="0.8"/>
<circle cx="73.30" cy="654.30" r="2.2" fill="#fff" stroke="#333" stroke-width="0.8"/>
<circle cx="79.68" cy="651.60" r="2.2" fill="#fff" stroke="#333" stroke-width="0.8"/>
<rect x="87.50" y="717.90" width="11.50" height="20.40" fill="#a9d4e2" stroke="#444" stroke-width="0.75" />
<circle cx="90.14" cy="714.60" r="2.2" fill="#fff" stroke="#333" stroke-width="0.8"/>
<circle cx="90.38" cy="718.80" r="2.2" fill="#fff" stroke="#333" stroke-width="0.8"/>
<circle cx="96.70" cy="718.00" r="2.2" fill="#fff" stroke="#333" stroke-width="0.8"/>
<rect x="104.60" y="696.80" width="11.00" height="41.50" fill="#ecc433" stroke="#444" stroke-width="0.75" />
<line x1="110.10" y1="692.80" x2="110.10" y2="696.80" stroke="#333" stroke-width="0.6"/>
<line x1="108.50" y1="692.80" x2="111.70" y2="692.80" stroke="#333" stroke-width="0.6"/>
<circle cx="106.80" cy="699.40" r="2.2" fill="#fff" stroke="#333" stroke-width="0.8"/>
<circle cx="110.10" cy="692.60" r="2.2" fill="#fff" stroke="#333" stroke-width="0.8"/>
<circle cx="113.40" cy="697.60" r="2.2" fill="#fff" stroke="#333" stroke-width="0.8"/>
<path d="M54.40,641.20 L54.40,635.60 L80.10,635.60 L80.10,641.20" fill="none" stroke="#111" stroke-width="1.6"/>
<path d="M61.13,625.98 L61.82,627.60 L63.57,627.39 L62.51,628.80 L63.57,630.21 L61.82,630.00 L61.13,631.62 L60.44,630.00 L58.69,630.21 L59.75,628.80 L58.69,627.39 L60.44,627.60Z M67.25,625.98 L67.94,627.60 L69.69,627.39 L68.63,628.80 L69.69,630.21 L67.94,630.00 L67.25,631.62 L66.56,630.00 L64.81,630.21 L65.87,628.80 L64.81,627.39 L66.56,627.60Z M73.37,625.98 L74.06,627.60 L75.81,627.39 L74.75,628.80 L75.81,630.21 L74.06,630.00 L73.37,631.62 L72.68,630.00 L70.93,630.21 L71.99,628.80 L70.93,627.39 L72.68,627.60Z " fill="#111"/>
<path d="M86.70,683.20 L86.70,677.70 L110.40,677.70 L110.40,683.20" fill="none" stroke="#111" stroke-width="1.6"/>
<path d="M92.43,668.58 L93.12,670.20 L94.87,669.99 L93.81,671.40 L94.87,672.81 L93.12,672.60 L92.43,674.22 L91.74,672.60 L89.99,672.81 L91.05,671.40 L89.99,669.99 L91.74,670.20Z M98.55,668.58 L99.24,670.20 L100.99,669.99 L99.93,671.40 L100.99,672.81 L99.24,672.60 L98.55,674.22 L97.86,672.60 L96.11,672.81 L97.17,671.40 L96.11,669.99 L97.86,670.20Z M104.67,668.58 L105.36,670.20 L107.11,669.99 L106.05,671.40 L107.11,672.81 L105.36,672.60 L104.67,674.22 L103.98,672.60 L102.23,672.81 L103.29,671.40 L102.23,669.99 L103.98,670.20Z " fill="#111"/>
<text x="0" y="0" transform="translate(79.30,748.59) scale(0.89,1)" font-size="9.96" font-weight="bold" text-anchor="middle" fill="#111" >QBC-939</text>
<text x="0" y="0" transform="translate(19.10,682.50) rotate(-90)" font-size="9.07" font-weight="bold" text-anchor="middle" fill="#111" dy="3.26">Number of colonies</text>
<rect x="188.90" y="562.60" width="11.80" height="4.60" fill="#8a8a8a" stroke="#333" stroke-width="0.6" />
<text x="0" y="0" transform="translate(207.30,568.28) scale(0.89,1)" font-size="9.38" font-weight="bold" text-anchor="start" fill="#111" >Vector+Pemigatinib</text>
<rect x="188.90" y="577.60" width="11.80" height="4.60" fill="#41568c" stroke="#333" stroke-width="0.6" />
<text x="0" y="0" transform="translate(207.30,583.28) scale(0.89,1)" font-size="9.38" font-weight="bold" text-anchor="start" fill="#111" >Drp1+Pemigatinib</text>
<rect x="188.90" y="592.10" width="11.80" height="4.60" fill="#a9d4e2" stroke="#333" stroke-width="0.6" />
<text x="0" y="0" transform="translate(207.30,597.78) scale(0.89,1)" font-size="9.38" font-weight="bold" text-anchor="start" fill="#111" >shROCK2+Pemigatinib</text>
<rect x="188.90" y="606.50" width="11.80" height="4.60" fill="#ecc433" stroke="#333" stroke-width="0.6" />
<text x="0" y="0" transform="translate(207.30,612.18) scale(0.89,1)" font-size="9.38" font-weight="bold" text-anchor="start" fill="#111" >Drp1+shROCK2+Pemigatinib</text>
<line x1="211.30" y1="631.20" x2="211.30" y2="735.75" stroke="#111" stroke-width="1.3"/>
<line x1="206.70" y1="735.10" x2="211.30" y2="735.10" stroke="#111" stroke-width="1.1700000000000002"/>
<text x="0" y="0" transform="translate(204.50,738.34) scale(0.89,1)" font-size="8.99" font-weight="bold" text-anchor="end" fill="#111" >0</text>
<line x1="206.70" y1="709.20" x2="211.30" y2="709.20" stroke="#111" stroke-width="1.1700000000000002"/>
<text x="0" y="0" transform="translate(204.50,712.44) scale(0.89,1)" font-size="8.99" font-weight="bold" text-anchor="end" fill="#111" >50</text>
<line x1="206.70" y1="683.20" x2="211.30" y2="683.20" stroke="#111" stroke-width="1.1700000000000002"/>
<text x="0" y="0" transform="translate(204.50,686.44) scale(0.89,1)" font-size="8.99" font-weight="bold" text-anchor="end" fill="#111" >100</text>
<line x1="206.70" y1="657.20" x2="211.30" y2="657.20" stroke="#111" stroke-width="1.1700000000000002"/>
<text x="0" y="0" transform="translate(204.50,660.44) scale(0.89,1)" font-size="8.99" font-weight="bold" text-anchor="end" fill="#111" >150</text>
<line x1="206.70" y1="631.20" x2="211.30" y2="631.20" stroke="#111" stroke-width="1.1700000000000002"/>
<text x="0" y="0" transform="translate(204.50,634.44) scale(0.89,1)" font-size="8.99" font-weight="bold" text-anchor="end" fill="#111" >200</text>
<line x1="210.80" y1="735.10" x2="284.80" y2="735.10" stroke="#111" stroke-width="1.3"/>
<rect x="216.80" y="663.30" width="11.20" height="71.80" fill="#8a8a8a" stroke="#444" stroke-width="0.75" />
<line x1="222.40" y1="658.30" x2="222.40" y2="663.30" stroke="#333" stroke-width="0.6"/>
<line x1="220.80" y1="658.30" x2="224.00" y2="658.30" stroke="#333" stroke-width="0.6"/>
<circle cx="219.04" cy="665.90" r="2.2" fill="#fff" stroke="#333" stroke-width="0.8"/>
<circle cx="222.40" cy="657.80" r="2.2" fill="#fff" stroke="#333" stroke-width="0.8"/>
<circle cx="225.76" cy="664.90" r="2.2" fill="#fff" stroke="#333" stroke-width="0.8"/>
<rect x="233.60" y="639.50" width="11.00" height="95.60" fill="#41568c" stroke="#444" stroke-width="0.75" />
<circle cx="235.80" cy="636.00" r="2.2" fill="#fff" stroke="#333" stroke-width="0.8"/>
<circle cx="239.10" cy="642.80" r="2.2" fill="#fff" stroke="#333" stroke-width="0.8"/>
<circle cx="242.40" cy="639.30" r="2.2" fill="#fff" stroke="#333" stroke-width="0.8"/>
<rect x="250.60" y="693.60" width="11.10" height="41.50" fill="#a9d4e2" stroke="#444" stroke-width="0.75" />
<circle cx="252.82" cy="694.40" r="2.2" fill="#fff" stroke="#333" stroke-width="0.8"/>
<circle cx="256.15" cy="690.50" r="2.2" fill="#fff" stroke="#333" stroke-width="0.8"/>
<circle cx="259.48" cy="693.70" r="2.2" fill="#fff" stroke="#333" stroke-width="0.8"/>
<rect x="267.70" y="679.80" width="11.30" height="55.30" fill="#ecc433" stroke="#444" stroke-width="0.75" />
<circle cx="269.96" cy="677.30" r="2.2" fill="#fff" stroke="#333" stroke-width="0.8"/>
<circle cx="273.35" cy="684.30" r="2.2" fill="#fff" stroke="#333" stroke-width="0.8"/>
<circle cx="276.74" cy="678.20" r="2.2" fill="#fff" stroke="#333" stroke-width="0.8"/>
<path d="M215.20,630.10 L215.20,624.60 L240.10,624.60 L240.10,630.10" fill="none" stroke="#111" stroke-width="1.6"/>
<path d="M221.53,615.38 L222.22,617.00 L223.97,616.79 L222.91,618.20 L223.97,619.61 L222.22,619.40 L221.53,621.02 L220.84,619.40 L219.09,619.61 L220.15,618.20 L219.09,616.79 L220.84,617.00Z M227.65,615.38 L228.34,617.00 L230.09,616.79 L229.03,618.20 L230.09,619.61 L228.34,619.40 L227.65,621.02 L226.96,619.40 L225.21,619.61 L226.27,618.20 L225.21,616.79 L226.96,617.00Z M233.77,615.38 L234.46,617.00 L236.21,616.79 L235.15,618.20 L236.21,619.61 L234.46,619.40 L233.77,621.02 L233.08,619.40 L231.33,619.61 L232.39,618.20 L231.33,616.79 L233.08,617.00Z " fill="#111"/>
<path d="M253.30,670.80 L253.30,665.30 L276.10,665.30 L276.10,670.80" fill="none" stroke="#111" stroke-width="1.6"/>
<path d="M261.64,656.08 L262.33,657.70 L264.08,657.49 L263.02,658.90 L264.08,660.31 L262.33,660.10 L261.64,661.72 L260.95,660.10 L259.20,660.31 L260.26,658.90 L259.20,657.49 L260.95,657.70Z M267.76,656.08 L268.45,657.70 L270.20,657.49 L269.14,658.90 L270.20,660.31 L268.45,660.10 L267.76,661.72 L267.07,660.10 L265.32,660.31 L266.38,658.90 L265.32,657.49 L267.07,657.70Z " fill="#111"/>
<text x="0" y="0" transform="translate(247.10,746.16) scale(0.89,1)" font-size="10.73" font-weight="bold" text-anchor="middle" fill="#111" >RBE</text>
<text x="0" y="0" transform="translate(182.10,682.80) rotate(-90)" font-size="8.57" font-weight="bold" text-anchor="middle" fill="#111" dy="3.09">Number of colonies</text>
<text x="0" y="0" transform="translate(339.90,559.04) scale(1.0,1)" font-size="14.55" font-weight="bold" text-anchor="start" fill="#000" >I</text>
<rect x="365.50" y="562.40" width="11.30" height="4.60" fill="#8a8a8a" stroke="#333" stroke-width="0.6" />
<text x="0" y="0" transform="translate(382.50,568.10) scale(0.89,1)" font-size="9.44" font-weight="bold" text-anchor="start" fill="#111" >Vector+Pemigatinib</text>
<rect x="365.50" y="576.80" width="11.30" height="4.60" fill="#41568c" stroke="#333" stroke-width="0.6" />
<text x="0" y="0" transform="translate(382.50,582.50) scale(0.89,1)" font-size="9.44" font-weight="bold" text-anchor="start" fill="#111" >Drp1+Pemigatinib</text>
<rect x="365.50" y="591.50" width="11.30" height="4.60" fill="#a9d4e2" stroke="#333" stroke-width="0.6" />
<text x="0" y="0" transform="translate(382.50,597.20) scale(0.89,1)" font-size="9.44" font-weight="bold" text-anchor="start" fill="#111" >shROCK2+Pemigatinib</text>
<rect x="365.50" y="605.70" width="11.30" height="4.60" fill="#ecc433" stroke="#333" stroke-width="0.6" />
<text x="0" y="0" transform="translate(382.50,611.40) scale(0.89,1)" font-size="9.44" font-weight="bold" text-anchor="start" fill="#111" >Drp1+shROCK2+Pemigatinib</text>
<line x1="386.10" y1="622.00" x2="386.10" y2="728.95" stroke="#111" stroke-width="1.3"/>
<line x1="381.50" y1="728.30" x2="386.10" y2="728.30" stroke="#111" stroke-width="1.1700000000000002"/>
<text x="0" y="0" transform="translate(379.30,731.54) scale(0.89,1)" font-size="8.99" font-weight="bold" text-anchor="end" fill="#111" >0</text>
<line x1="381.50" y1="701.30" x2="386.10" y2="701.30" stroke="#111" stroke-width="1.1700000000000002"/>
<text x="0" y="0" transform="translate(379.30,704.54) scale(0.89,1)" font-size="8.99" font-weight="bold" text-anchor="end" fill="#111" >20</text>
<line x1="381.50" y1="675.00" x2="386.10" y2="675.00" stroke="#111" stroke-width="1.1700000000000002"/>
<text x="0" y="0" transform="translate(379.30,678.24) scale(0.89,1)" font-size="8.99" font-weight="bold" text-anchor="end" fill="#111" >40</text>
<line x1="381.50" y1="648.80" x2="386.10" y2="648.80" stroke="#111" stroke-width="1.1700000000000002"/>
<text x="0" y="0" transform="translate(379.30,652.04) scale(0.89,1)" font-size="8.99" font-weight="bold" text-anchor="end" fill="#111" >60</text>
<line x1="381.50" y1="622.00" x2="386.10" y2="622.00" stroke="#111" stroke-width="1.1700000000000002"/>
<text x="0" y="0" transform="translate(379.30,625.24) scale(0.89,1)" font-size="8.99" font-weight="bold" text-anchor="end" fill="#111" >80</text>
<line x1="385.60" y1="728.30" x2="453.50" y2="728.30" stroke="#111" stroke-width="1.3"/>
<rect x="391.20" y="673.20" width="10.50" height="55.10" fill="#8a8a8a" stroke="#444" stroke-width="0.75" />
<line x1="396.45" y1="669.20" x2="396.45" y2="673.20" stroke="#333" stroke-width="0.6"/>
<line x1="394.85" y1="669.20" x2="398.05" y2="669.20" stroke="#333" stroke-width="0.6"/>
<circle cx="393.30" cy="677.00" r="2.2" fill="#fff" stroke="#333" stroke-width="0.8"/>
<circle cx="396.45" cy="667.70" r="2.2" fill="#fff" stroke="#333" stroke-width="0.8"/>
<circle cx="399.60" cy="675.30" r="2.2" fill="#fff" stroke="#333" stroke-width="0.8"/>
<rect x="407.50" y="654.50" width="10.50" height="73.80" fill="#41568c" stroke="#444" stroke-width="0.75" />
<circle cx="412.75" cy="649.50" r="2.2" fill="#fff" stroke="#333" stroke-width="0.8"/>
<circle cx="412.75" cy="654.50" r="2.2" fill="#fff" stroke="#333" stroke-width="0.8"/>
<circle cx="412.75" cy="659.20" r="2.2" fill="#fff" stroke="#333" stroke-width="0.8"/>
<rect x="423.30" y="719.00" width="10.50" height="9.30" fill="#a9d4e2" stroke="#444" stroke-width="0.75" />
<circle cx="425.40" cy="719.60" r="2.2" fill="#fff" stroke="#333" stroke-width="0.8"/>
<circle cx="428.55" cy="716.70" r="2.2" fill="#fff" stroke="#333" stroke-width="0.8"/>
<circle cx="431.70" cy="719.00" r="2.2" fill="#fff" stroke="#333" stroke-width="0.8"/>
<rect x="439.00" y="686.70" width="10.50" height="41.60" fill="#ecc433" stroke="#444" stroke-width="0.75" />
<circle cx="441.10" cy="684.00" r="2.2" fill="#fff" stroke="#333" stroke-width="0.8"/>
<circle cx="444.25" cy="689.80" r="2.2" fill="#fff" stroke="#333" stroke-width="0.8"/>
<circle cx="447.40" cy="685.50" r="2.2" fill="#fff" stroke="#333" stroke-width="0.8"/>
<path d="M393.80,640.60 L393.80,635.10 L412.80,635.10 L412.80,640.60" fill="none" stroke="#111" stroke-width="1.6"/>
<path d="M400.24,625.88 L400.93,627.50 L402.68,627.29 L401.62,628.70 L402.68,630.11 L400.93,629.90 L400.24,631.52 L399.55,629.90 L397.80,630.11 L398.86,628.70 L397.80,627.29 L399.55,627.50Z M406.36,625.88 L407.05,627.50 L408.80,627.29 L407.74,628.70 L408.80,630.11 L407.05,629.90 L406.36,631.52 L405.67,629.90 L403.92,630.11 L404.98,628.70 L403.92,627.29 L405.67,627.50Z " fill="#111"/>
<path d="M424.00,680.60 L424.00,675.00 L445.60,675.00 L445.60,680.60" fill="none" stroke="#111" stroke-width="1.6"/>
<path d="M428.68,665.88 L429.37,667.50 L431.12,667.29 L430.06,668.70 L431.12,670.11 L429.37,669.90 L428.68,671.52 L427.99,669.90 L426.24,670.11 L427.30,668.70 L426.24,667.29 L427.99,667.50Z M434.80,665.88 L435.49,667.50 L437.24,667.29 L436.18,668.70 L437.24,670.11 L435.49,669.90 L434.80,671.52 L434.11,669.90 L432.36,670.11 L433.42,668.70 L432.36,667.29 L434.11,667.50Z M440.92,665.88 L441.61,667.50 L443.36,667.29 L442.30,668.70 L443.36,670.11 L441.61,669.90 L440.92,671.52 L440.23,669.90 L438.48,670.11 L439.54,668.70 L438.48,667.29 L440.23,667.50Z " fill="#111"/>
<text x="0" y="0" transform="translate(416.70,739.78) scale(0.89,1)" font-size="9.67" font-weight="bold" text-anchor="middle" fill="#111" >QBC-939</text>
<text x="0" y="0" transform="translate(363.70,674.60) rotate(-90)" font-size="8.66" font-weight="bold" text-anchor="middle" fill="#111" dy="3.12">EDU Positive cells(%)</text>
<rect x="536.00" y="569.00" width="11.00" height="4.60" fill="#8a8a8a" stroke="#333" stroke-width="0.6" />
<text x="0" y="0" transform="translate(553.10,574.80) scale(0.89,1)" font-size="9.73" font-weight="bold" text-anchor="start" fill="#111" >Vector+Pemigatinib</text>
<rect x="536.00" y="583.40" width="11.00" height="4.60" fill="#41568c" stroke="#333" stroke-width="0.6" />
<text x="0" y="0" transform="translate(553.10,589.20) scale(0.89,1)" font-size="9.73" font-weight="bold" text-anchor="start" fill="#111" >Drp1+Pemigatinib</text>
<rect x="536.00" y="598.10" width="11.00" height="4.60" fill="#a9d4e2" stroke="#333" stroke-width="0.6" />
<text x="0" y="0" transform="translate(553.10,603.90) scale(0.89,1)" font-size="9.73" font-weight="bold" text-anchor="start" fill="#111" >shROCK2+Pemigatinib</text>
<rect x="536.00" y="613.10" width="11.00" height="4.60" fill="#ecc433" stroke="#333" stroke-width="0.6" />
<text x="0" y="0" transform="translate(553.10,618.90) scale(0.89,1)" font-size="9.73" font-weight="bold" text-anchor="start" fill="#111" >Drp1+shROCK2+Pemigatinib</text>
<line x1="553.40" y1="627.20" x2="553.40" y2="733.85" stroke="#111" stroke-width="1.3"/>
<line x1="548.80" y1="733.20" x2="553.40" y2="733.20" stroke="#111" stroke-width="1.1700000000000002"/>
<text x="0" y="0" transform="translate(546.60,736.44) scale(0.89,1)" font-size="8.99" font-weight="bold" text-anchor="end" fill="#111" >0</text>
<line x1="548.80" y1="706.60" x2="553.40" y2="706.60" stroke="#111" stroke-width="1.1700000000000002"/>
<text x="0" y="0" transform="translate(546.60,709.84) scale(0.89,1)" font-size="8.99" font-weight="bold" text-anchor="end" fill="#111" >10</text>
<line x1="548.80" y1="680.30" x2="553.40" y2="680.30" stroke="#111" stroke-width="1.1700000000000002"/>
<text x="0" y="0" transform="translate(546.60,683.54) scale(0.89,1)" font-size="8.99" font-weight="bold" text-anchor="end" fill="#111" >20</text>
<line x1="548.80" y1="653.50" x2="553.40" y2="653.50" stroke="#111" stroke-width="1.1700000000000002"/>
<text x="0" y="0" transform="translate(546.60,656.74) scale(0.89,1)" font-size="8.99" font-weight="bold" text-anchor="end" fill="#111" >30</text>
<line x1="548.80" y1="627.20" x2="553.40" y2="627.20" stroke="#111" stroke-width="1.1700000000000002"/>
<text x="0" y="0" transform="translate(546.60,630.44) scale(0.89,1)" font-size="8.99" font-weight="bold" text-anchor="end" fill="#111" >40</text>
<line x1="552.90" y1="733.20" x2="624.50" y2="733.20" stroke="#111" stroke-width="1.3"/>
<rect x="558.90" y="667.40" width="11.00" height="65.80" fill="#8a8a8a" stroke="#444" stroke-width="0.75" />
<line x1="564.40" y1="663.40" x2="564.40" y2="667.40" stroke="#333" stroke-width="0.6"/>
<line x1="562.80" y1="663.40" x2="566.00" y2="663.40" stroke="#333" stroke-width="0.6"/>
<circle cx="561.10" cy="663.20" r="2.2" fill="#fff" stroke="#333" stroke-width="0.8"/>
<circle cx="564.40" cy="674.00" r="2.2" fill="#fff" stroke="#333" stroke-width="0.8"/>
<circle cx="567.70" cy="665.00" r="2.2" fill="#fff" stroke="#333" stroke-width="0.8"/>
<rect x="575.40" y="651.70" width="10.50" height="81.50" fill="#41568c" stroke="#444" stroke-width="0.75" />
<circle cx="577.50" cy="652.50" r="2.2" fill="#fff" stroke="#333" stroke-width="0.8"/>
<circle cx="580.65" cy="649.40" r="2.2" fill="#fff" stroke="#333" stroke-width="0.8"/>
<circle cx="583.80" cy="652.50" r="2.2" fill="#fff" stroke="#333" stroke-width="0.8"/>
<rect x="591.70" y="707.00" width="10.50" height="26.20" fill="#a9d4e2" stroke="#444" stroke-width="0.75" />
<line x1="596.95" y1="701.00" x2="596.95" y2="707.00" stroke="#333" stroke-width="0.6"/>
<line x1="595.35" y1="701.00" x2="598.55" y2="701.00" stroke="#333" stroke-width="0.6"/>
<circle cx="593.80" cy="712.00" r="2.2" fill="#fff" stroke="#333" stroke-width="0.8"/>
<circle cx="596.95" cy="700.00" r="2.2" fill="#fff" stroke="#333" stroke-width="0.8"/>
<circle cx="600.10" cy="709.00" r="2.2" fill="#fff" stroke="#333" stroke-width="0.8"/>
<rect x="608.00" y="686.00" width="10.80" height="47.20" fill="#ecc433" stroke="#444" stroke-width="0.75" />
<circle cx="610.16" cy="683.30" r="2.2" fill="#fff" stroke="#333" stroke-width="0.8"/>
<circle cx="610.16" cy="689.20" r="2.2" fill="#fff" stroke="#333" stroke-width="0.8"/>
<circle cx="616.64" cy="685.50" r="2.2" fill="#fff" stroke="#333" stroke-width="0.8"/>
<path d="M560.20,639.80 L560.20,634.30 L581.20,634.30 L581.20,639.80" fill="none" stroke="#111" stroke-width="1.6"/>
<path d="M570.70,624.88 L571.39,626.50 L573.14,626.29 L572.08,627.70 L573.14,629.11 L571.39,628.90 L570.70,630.52 L570.01,628.90 L568.26,629.11 L569.32,627.70 L568.26,626.29 L570.01,626.50Z " fill="#111"/>
<path d="M592.50,678.50 L592.50,673.20 L613.30,673.20 L613.30,678.50" fill="none" stroke="#111" stroke-width="1.6"/>
<path d="M599.84,663.98 L600.53,665.60 L602.28,665.39 L601.22,666.80 L602.28,668.21 L600.53,668.00 L599.84,669.62 L599.15,668.00 L597.40,668.21 L598.46,666.80 L597.40,665.39 L599.15,665.60Z M605.96,663.98 L606.65,665.60 L608.40,665.39 L607.34,666.80 L608.40,668.21 L606.65,668.00 L605.96,669.62 L605.27,668.00 L603.52,668.21 L604.58,666.80 L603.52,665.39 L605.27,665.60Z " fill="#111"/>
<text x="0" y="0" transform="translate(588.70,744.06) scale(0.89,1)" font-size="10.73" font-weight="bold" text-anchor="middle" fill="#111" >RBE</text>
<text x="0" y="0" transform="translate(529.70,679.60) rotate(-90)" font-size="8.66" font-weight="bold" text-anchor="middle" fill="#111" dy="3.12">EDU Positive cells(%)</text>
<text x="0" y="0" transform="translate(9.90,767.89) scale(1.0,1)" font-size="13.58" font-weight="bold" text-anchor="start" fill="#000" >J</text>
<text x="14.80" y="794.46" font-size="6.0" font-weight="bold" text-anchor="start" fill="#111" stroke="#111" stroke-width="0.22" textLength="17.10" lengthAdjust="spacingAndGlyphs">Vector</text>
<text x="18.00" y="806.16" font-size="6.0" font-weight="bold" text-anchor="start" fill="#111" stroke="#111" stroke-width="0.22" textLength="12.40" lengthAdjust="spacingAndGlyphs">Drp1</text>
<text x="8.60" y="816.46" font-size="6.0" font-weight="bold" text-anchor="start" fill="#111" stroke="#111" stroke-width="0.22" textLength="27.00" lengthAdjust="spacingAndGlyphs">shROCK2</text>
<line x1="42.27" y1="791.50" x2="47.13" y2="791.50" stroke="#111" stroke-width="1.215"/>
<line x1="44.70" y1="789.07" x2="44.70" y2="793.93" stroke="#111" stroke-width="1.215"/>
<line x1="137.67" y1="791.50" x2="142.53" y2="791.50" stroke="#111" stroke-width="1.215"/>
<line x1="140.10" y1="789.07" x2="140.10" y2="793.93" stroke="#111" stroke-width="1.215"/>
<line x1="66.77" y1="791.50" x2="69.83" y2="791.50" stroke="#111" stroke-width="1.215"/>
<line x1="164.37" y1="791.50" x2="167.43" y2="791.50" stroke="#111" stroke-width="1.215"/>
<line x1="89.87" y1="791.50" x2="92.93" y2="791.50" stroke="#111" stroke-width="1.215"/>
<line x1="185.37" y1="791.50" x2="188.43" y2="791.50" stroke="#111" stroke-width="1.215"/>
<line x1="114.07" y1="791.50" x2="117.13" y2="791.50" stroke="#111" stroke-width="1.215"/>
<line x1="209.17" y1="791.50" x2="212.23" y2="791.50" stroke="#111" stroke-width="1.215"/>
<line x1="43.17" y1="803.50" x2="46.23" y2="803.50" stroke="#111" stroke-width="1.215"/>
<line x1="138.57" y1="803.50" x2="141.63" y2="803.50" stroke="#111" stroke-width="1.215"/>
<line x1="65.87" y1="803.50" x2="70.73" y2="803.50" stroke="#111" stroke-width="1.215"/>
<line x1="68.30" y1="801.07" x2="68.30" y2="805.93" stroke="#111" stroke-width="1.215"/>
<line x1="163.47" y1="803.50" x2="168.33" y2="803.50" stroke="#111" stroke-width="1.215"/>
<line x1="165.90" y1="801.07" x2="165.90" y2="805.93" stroke="#111" stroke-width="1.215"/>
<line x1="89.87" y1="803.50" x2="92.93" y2="803.50" stroke="#111" stroke-width="1.215"/>
<line x1="185.37" y1="803.50" x2="188.43" y2="803.50" stroke="#111" stroke-width="1.215"/>
<line x1="113.17" y1="803.50" x2="118.03" y2="803.50" stroke="#111" stroke-width="1.215"/>
<line x1="115.60" y1="801.07" x2="115.60" y2="805.93" stroke="#111" stroke-width="1.215"/>
<line x1="208.27" y1="803.50" x2="213.13" y2="803.50" stroke="#111" stroke-width="1.215"/>
<line x1="210.70" y1="801.07" x2="210.70" y2="805.93" stroke="#111" stroke-width="1.215"/>
<line x1="43.17" y1="814.20" x2="46.23" y2="814.20" stroke="#111" stroke-width="1.215"/>
<line x1="138.57" y1="814.20" x2="141.63" y2="814.20" stroke="#111" stroke-width="1.215"/>
<line x1="66.77" y1="814.20" x2="69.83" y2="814.20" stroke="#111" stroke-width="1.215"/>
<line x1="164.37" y1="814.20" x2="167.43" y2="814.20" stroke="#111" stroke-width="1.215"/>
<line x1="88.97" y1="814.20" x2="93.83" y2="814.20" stroke="#111" stroke-width="1.215"/>
<line x1="91.40" y1="811.77" x2="91.40" y2="816.63" stroke="#111" stroke-width="1.215"/>
<line x1="184.47" y1="814.20" x2="189.33" y2="814.20" stroke="#111" stroke-width="1.215"/>
<line x1="186.90" y1="811.77" x2="186.90" y2="816.63" stroke="#111" stroke-width="1.215"/>
<line x1="113.17" y1="814.20" x2="118.03" y2="814.20" stroke="#111" stroke-width="1.215"/>
<line x1="115.60" y1="811.77" x2="115.60" y2="816.63" stroke="#111" stroke-width="1.215"/>
<line x1="208.27" y1="814.20" x2="213.13" y2="814.20" stroke="#111" stroke-width="1.215"/>
<line x1="210.70" y1="811.77" x2="210.70" y2="816.63" stroke="#111" stroke-width="1.215"/>
<text x="14.00" y="829.36" font-size="6.0" font-weight="bold" text-anchor="start" fill="#111" stroke="#111" stroke-width="0.22" textLength="17.20" lengthAdjust="spacingAndGlyphs">ROCK2</text>
<text x="19.40" y="846.46" font-size="6.0" font-weight="bold" text-anchor="start" fill="#111" stroke="#111" stroke-width="0.22" textLength="12.30" lengthAdjust="spacingAndGlyphs">Drp1</text>
<text x="21.00" y="863.16" font-size="6.0" font-weight="bold" text-anchor="start" fill="#111" stroke="#111" stroke-width="0.22" textLength="10.70" lengthAdjust="spacingAndGlyphs">TFR</text>
<text x="10.20" y="879.26" font-size="6.0" font-weight="bold" text-anchor="start" fill="#111" stroke="#111" stroke-width="0.22" textLength="24.00" lengthAdjust="spacingAndGlyphs">SLC7A11</text>
<text x="16.10" y="896.06" font-size="6.0" font-weight="bold" text-anchor="start" fill="#111" stroke="#111" stroke-width="0.22" textLength="15.10" lengthAdjust="spacingAndGlyphs">GPX4</text>
<text x="14.00" y="913.16" font-size="6.0" font-weight="bold" text-anchor="start" fill="#111" stroke="#111" stroke-width="0.22" textLength="17.70" lengthAdjust="spacingAndGlyphs">β-actin</text>
<rect x="34.70" y="821.10" width="91.70" height="13.20" fill="#dcdcdc" />
<rect x="36.80" y="825.70" width="18.60" height="4.80" rx="2.20" fill="rgb(0,0,0)" filter="url(#bl)"/>
<rect x="59.50" y="825.90" width="19.00" height="4.40" rx="2.00" fill="rgb(7,7,7)" filter="url(#bl)"/>
<rect x="82.80" y="826.20" width="18.40" height="3.80" rx="1.70" fill="rgb(23,23,23)" filter="url(#bl)"/>
<rect x="104.80" y="827.00" width="20.00" height="3.20" rx="1.40" fill="rgb(60,60,60)" filter="url(#bl)"/>
<rect x="34.70" y="836.90" width="91.70" height="14.50" fill="#c9c9c9" />
<rect x="36.80" y="841.20" width="18.60" height="4.40" rx="2.00" fill="rgb(0,0,0)" filter="url(#bl)"/>
<rect x="37.80" y="845.20" width="16.60" height="2.60" rx="1.30" fill="rgb(36,36,36)" filter="url(#bl)"/>
<rect x="59.50" y="840.65" width="19.00" height="7.90" rx="3.75" fill="rgb(0,0,0)" filter="url(#bl)"/>
<rect x="82.80" y="843.50" width="18.40" height="3.20" rx="1.40" fill="rgb(72,72,72)" filter="url(#bl)"/>
<rect x="104.80" y="841.80" width="20.00" height="3.60" rx="1.60" fill="rgb(7,7,7)" filter="url(#bl)"/>
<rect x="105.80" y="845.00" width="18.00" height="2.80" rx="1.40" fill="rgb(23,23,23)" filter="url(#bl)"/>
<rect x="34.70" y="853.80" width="91.70" height="13.60" fill="#dadada" />
<rect x="36.80" y="859.50" width="18.60" height="4.40" rx="2.00" fill="rgb(0,0,0)" filter="url(#bl)"/>
<rect x="59.50" y="859.70" width="19.00" height="4.00" rx="1.80" fill="rgb(7,7,7)" filter="url(#bl)"/>
<rect x="82.80" y="858.00" width="18.40" height="7.40" rx="3.50" fill="rgb(0,0,0)" filter="url(#bl)"/>
<rect x="104.80" y="859.05" width="20.00" height="5.90" rx="2.75" fill="rgb(0,0,0)" filter="url(#bl)" transform="rotate(3.00 114.80 862.00)"/>
<rect x="34.70" y="870.10" width="91.70" height="13.40" fill="#cfcfcf" />
<rect x="36.80" y="874.85" width="18.60" height="4.90" rx="2.25" fill="rgb(0,0,0)" filter="url(#bl)"/>
<rect x="59.50" y="874.10" width="19.00" height="6.40" rx="3.00" fill="rgb(0,0,0)" filter="url(#bl)"/>
<rect x="82.80" y="875.35" width="18.40" height="3.90" rx="1.75" fill="rgb(12,12,12)" filter="url(#bl)"/>
<rect x="104.80" y="874.10" width="20.00" height="5.40" rx="2.50" fill="rgb(0,0,0)" filter="url(#bl)" transform="rotate(-4.00 114.80 876.80)"/>
<rect x="34.70" y="887.10" width="91.70" height="13.50" fill="#c9c9c9" />
<rect x="36.80" y="892.50" width="18.60" height="5.00" rx="2.30" fill="rgb(0,0,0)" filter="url(#bl)"/>
<rect x="59.50" y="892.30" width="19.00" height="4.80" rx="2.20" fill="rgb(0,0,0)" filter="url(#bl)"/>
<rect x="82.80" y="894.00" width="18.40" height="3.00" rx="1.30" fill="rgb(23,23,23)" filter="url(#bl)"/>
<rect x="104.80" y="893.30" width="20.00" height="3.40" rx="1.50" fill="rgb(7,7,7)" filter="url(#bl)"/>
<rect x="34.70" y="903.70" width="91.70" height="12.70" fill="#dedede" />
<rect x="36.80" y="908.45" width="18.60" height="5.90" rx="2.75" fill="rgb(0,0,0)" filter="url(#bl)"/>
<rect x="59.50" y="908.20" width="19.00" height="6.40" rx="3.00" fill="rgb(0,0,0)" filter="url(#bl)"/>
<rect x="82.80" y="908.20" width="18.40" height="5.40" rx="2.50" fill="rgb(0,0,0)" filter="url(#bl)" transform="rotate(-2.00 92.00 910.90)"/>
<rect x="104.80" y="906.70" width="20.00" height="5.40" rx="2.50" fill="rgb(0,0,0)" filter="url(#bl)" transform="rotate(-2.00 114.80 909.40)"/>
<rect x="130.90" y="821.20" width="92.10" height="14.50" fill="#d8d8d8" />
<rect x="132.80" y="827.30" width="19.20" height="4.60" rx="2.10" fill="rgb(0,0,0)" filter="url(#bl)"/>
<rect x="156.30" y="827.60" width="18.70" height="4.00" rx="1.80" fill="rgb(7,7,7)" filter="url(#bl)"/>
<rect x="179.80" y="827.90" width="17.20" height="3.40" rx="1.50" fill="rgb(12,12,12)" filter="url(#bl)"/>
<rect x="201.80" y="828.10" width="20.20" height="3.00" rx="1.30" fill="rgb(19,19,19)" filter="url(#bl)"/>
<rect x="130.90" y="837.00" width="92.10" height="14.80" fill="#e6e6e6" />
<rect x="132.80" y="841.00" width="19.20" height="3.60" rx="1.60" fill="rgb(19,19,19)" filter="url(#bl)"/>
<rect x="133.80" y="844.20" width="17.20" height="1.60" rx="0.80" fill="rgb(144,144,144)" filter="url(#bl)"/>
<rect x="156.30" y="841.50" width="18.70" height="5.00" rx="2.30" fill="rgb(0,0,0)" filter="url(#bl)"/>
<rect x="179.80" y="843.85" width="17.20" height="1.90" rx="0.75" fill="rgb(204,204,204)" filter="url(#bl)"/>
<rect x="201.80" y="843.60" width="20.20" height="4.40" rx="2.00" fill="rgb(0,0,0)" filter="url(#bl)"/>
<rect x="202.80" y="847.60" width="18.20" height="1.20" rx="0.60" fill="rgb(120,120,120)" filter="url(#bl)"/>
<rect x="130.90" y="853.60" width="92.10" height="14.00" fill="#dedede" />
<rect x="132.80" y="859.60" width="19.20" height="5.40" rx="2.50" fill="rgb(0,0,0)" filter="url(#bl)"/>
<rect x="156.30" y="860.60" width="18.70" height="3.40" rx="1.50" fill="rgb(7,7,7)" filter="url(#bl)"/>
<rect x="179.80" y="859.10" width="17.20" height="6.40" rx="3.00" fill="rgb(0,0,0)" filter="url(#bl)"/>
<rect x="201.80" y="859.40" width="20.20" height="5.80" rx="2.70" fill="rgb(0,0,0)" filter="url(#bl)"/>
<rect x="130.90" y="870.20" width="92.10" height="13.50" fill="#d6d6d6" />
<rect x="132.80" y="874.70" width="19.20" height="3.40" rx="1.50" fill="rgb(7,7,7)" filter="url(#bl)"/>
<rect x="156.30" y="873.70" width="18.70" height="5.40" rx="2.50" fill="rgb(0,0,0)" filter="url(#bl)"/>
<rect x="179.80" y="874.90" width="17.20" height="3.00" rx="1.30" fill="rgb(36,36,36)" filter="url(#bl)"/>
<rect x="201.80" y="873.60" width="20.20" height="4.40" rx="2.00" fill="rgb(0,0,0)" filter="url(#bl)"/>
<rect x="130.90" y="887.20" width="92.10" height="13.70" fill="#d2d2d2" />
<rect x="132.80" y="892.40" width="19.20" height="4.80" rx="2.20" fill="rgb(0,0,0)" filter="url(#bl)"/>
<rect x="156.30" y="891.80" width="18.70" height="6.00" rx="2.80" fill="rgb(0,0,0)" filter="url(#bl)"/>
<rect x="179.80" y="893.10" width="17.20" height="3.40" rx="1.50" fill="rgb(7,7,7)" filter="url(#bl)"/>
<rect x="201.80" y="893.00" width="20.20" height="3.60" rx="1.60" fill="rgb(12,12,12)" filter="url(#bl)"/>
<rect x="130.90" y="903.50" width="92.10" height="12.80" fill="#dedede" />
<rect x="132.80" y="906.90" width="19.20" height="5.40" rx="2.50" fill="rgb(0,0,0)" filter="url(#bl)"/>
<rect x="156.30" y="907.00" width="18.70" height="5.20" rx="2.40" fill="rgb(0,0,0)" filter="url(#bl)"/>
<rect x="179.80" y="907.00" width="17.20" height="5.20" rx="2.40" fill="rgb(0,0,0)" filter="url(#bl)"/>
<rect x="201.80" y="906.90" width="20.20" height="5.40" rx="2.50" fill="rgb(0,0,0)" filter="url(#bl)"/>
<text x="0" y="0" transform="translate(81.60,926.19) scale(0.89,1)" font-size="7.19" font-weight="bold" text-anchor="middle" fill="#111" >QBC-939</text>
<text x="0" y="0" transform="translate(177.50,926.29) scale(0.89,1)" font-size="7.19" font-weight="bold" text-anchor="middle" fill="#111" >RBE</text>
<text x="0" y="0" transform="translate(223.90,771.26) scale(1.0,1)" font-size="14.06" font-weight="bold" text-anchor="start" fill="#000" >K</text>
<rect x="239.40" y="781.60" width="9.20" height="4.20" fill="#8a8a8a" stroke="#333" stroke-width="0.6" />
<text x="0" y="0" transform="translate(252.70,786.41) scale(0.89,1)" font-size="7.53" font-weight="bold" text-anchor="start" fill="#111" >Vector+Pemigatinib</text>
<rect x="239.40" y="794.30" width="9.20" height="4.20" fill="#41568c" stroke="#333" stroke-width="0.6" />
<text x="0" y="0" transform="translate(252.70,799.11) scale(0.89,1)" font-size="7.53" font-weight="bold" text-anchor="start" fill="#111" >Drp1+Pemigatinib</text>
<rect x="239.40" y="806.60" width="9.20" height="4.20" fill="#a9d4e2" stroke="#333" stroke-width="0.6" />
<text x="0" y="0" transform="translate(252.70,811.41) scale(0.89,1)" font-size="7.53" font-weight="bold" text-anchor="start" fill="#111" >shROCK2+Pemigatinib</text>
<rect x="239.40" y="818.80" width="9.20" height="4.20" fill="#ecc433" stroke="#333" stroke-width="0.6" />
<text x="0" y="0" transform="translate(252.70,823.61) scale(0.89,1)" font-size="7.53" font-weight="bold" text-anchor="start" fill="#111" >Drp1+shROCK2+Pemigatinib</text>
<line x1="255.80" y1="830.30" x2="255.80" y2="918.55" stroke="#111" stroke-width="1.1"/>
<line x1="252.40" y1="918.00" x2="255.80" y2="918.00" stroke="#111" stroke-width="0.9900000000000001"/>
<text x="0" y="0" transform="translate(250.80,920.43) scale(0.89,1)" font-size="6.74" font-weight="bold" text-anchor="end" fill="#111" >0</text>
<line x1="252.40" y1="900.60" x2="255.80" y2="900.60" stroke="#111" stroke-width="0.9900000000000001"/>
<text x="0" y="0" transform="translate(250.80,903.03) scale(0.89,1)" font-size="6.74" font-weight="bold" text-anchor="end" fill="#111" >20</text>
<line x1="252.40" y1="882.80" x2="255.80" y2="882.80" stroke="#111" stroke-width="0.9900000000000001"/>
<text x="0" y="0" transform="translate(250.80,885.23) scale(0.89,1)" font-size="6.74" font-weight="bold" text-anchor="end" fill="#111" >40</text>
<line x1="252.40" y1="865.50" x2="255.80" y2="865.50" stroke="#111" stroke-width="0.9900000000000001"/>
<text x="0" y="0" transform="translate(250.80,867.93) scale(0.89,1)" font-size="6.74" font-weight="bold" text-anchor="end" fill="#111" >60</text>
<line x1="252.40" y1="847.70" x2="255.80" y2="847.70" stroke="#111" stroke-width="0.9900000000000001"/>
<text x="0" y="0" transform="translate(250.80,850.13) scale(0.89,1)" font-size="6.74" font-weight="bold" text-anchor="end" fill="#111" >80</text>
<line x1="252.40" y1="830.30" x2="255.80" y2="830.30" stroke="#111" stroke-width="0.9900000000000001"/>
<text x="0" y="0" transform="translate(250.80,832.73) scale(0.89,1)" font-size="6.74" font-weight="bold" text-anchor="end" fill="#111" >100</text>
<line x1="255.30" y1="918.00" x2="309.90" y2="918.00" stroke="#111" stroke-width="1.1"/>
<rect x="259.40" y="890.70" width="8.60" height="27.30" fill="#8a8a8a" stroke="#444" stroke-width="0.75" />
<circle cx="261.12" cy="892.00" r="2.0" fill="#fff" stroke="#333" stroke-width="0.8"/>
<circle cx="263.70" cy="888.80" r="2.0" fill="#fff" stroke="#333" stroke-width="0.8"/>
<circle cx="266.28" cy="890.70" r="2.0" fill="#fff" stroke="#333" stroke-width="0.8"/>
<rect x="272.10" y="906.50" width="8.60" height="11.50" fill="#41568c" stroke="#444" stroke-width="0.75" />
<circle cx="273.82" cy="905.00" r="2.0" fill="#fff" stroke="#333" stroke-width="0.8"/>
<circle cx="273.99" cy="909.00" r="2.0" fill="#fff" stroke="#333" stroke-width="0.8"/>
<circle cx="278.98" cy="906.70" r="2.0" fill="#fff" stroke="#333" stroke-width="0.8"/>
<rect x="285.00" y="843.30" width="8.20" height="74.70" fill="#a9d4e2" stroke="#444" stroke-width="0.75" />
<circle cx="286.64" cy="843.80" r="2.0" fill="#fff" stroke="#333" stroke-width="0.8"/>
<circle cx="289.10" cy="841.60" r="2.0" fill="#fff" stroke="#333" stroke-width="0.8"/>
<circle cx="291.56" cy="842.80" r="2.0" fill="#fff" stroke="#333" stroke-width="0.8"/>
<rect x="297.30" y="868.40" width="8.50" height="49.60" fill="#ecc433" stroke="#444" stroke-width="0.75" />
<circle cx="299.00" cy="869.50" r="2.0" fill="#fff" stroke="#333" stroke-width="0.8"/>
<circle cx="301.55" cy="865.30" r="2.0" fill="#fff" stroke="#333" stroke-width="0.8"/>
<circle cx="304.10" cy="869.00" r="2.0" fill="#fff" stroke="#333" stroke-width="0.8"/>
<path d="M262.50,871.80 L262.50,866.90 L278.90,866.90 L278.90,871.80" fill="none" stroke="#111" stroke-width="1.25"/>
<path d="M265.60,859.65 L266.17,861.00 L267.64,860.83 L266.75,862.00 L267.64,863.17 L266.17,863.00 L265.60,864.35 L265.02,863.00 L263.56,863.17 L264.45,862.00 L263.56,860.83 L265.02,861.00Z M270.70,859.65 L271.27,861.00 L272.74,860.83 L271.85,862.00 L272.74,863.17 L271.27,863.00 L270.70,864.35 L270.12,863.00 L268.66,863.17 L269.55,862.00 L268.66,860.83 L270.12,861.00Z M275.80,859.65 L276.37,861.00 L277.84,860.83 L276.95,862.00 L277.84,863.17 L276.37,863.00 L275.80,864.35 L275.22,863.00 L273.76,863.17 L274.65,862.00 L273.76,860.83 L275.22,861.00Z " fill="#111"/>
<path d="M288.50,839.70 L288.50,834.20 L304.20,834.20 L304.20,839.70" fill="none" stroke="#111" stroke-width="1.25"/>
<path d="M291.25,827.05 L291.82,828.40 L293.29,828.23 L292.40,829.40 L293.29,830.57 L291.82,830.40 L291.25,831.75 L290.68,830.40 L289.21,830.57 L290.10,829.40 L289.21,828.23 L290.68,828.40Z M296.35,827.05 L296.93,828.40 L298.39,828.23 L297.50,829.40 L298.39,830.57 L296.93,830.40 L296.35,831.75 L295.78,830.40 L294.31,830.57 L295.20,829.40 L294.31,828.23 L295.78,828.40Z M301.45,827.05 L302.02,828.40 L303.49,828.23 L302.60,829.40 L303.49,830.57 L302.02,830.40 L301.45,831.75 L300.88,830.40 L299.41,830.57 L300.30,829.40 L299.41,828.23 L300.88,828.40Z " fill="#111"/>
<text x="0" y="0" transform="translate(281.30,926.88) scale(0.89,1)" font-size="8.28" font-weight="bold" text-anchor="middle" fill="#111" >QBC-939</text>
<text x="0" y="0" transform="translate(233.70,873.70) rotate(-90)" font-size="7.28" font-weight="bold" text-anchor="middle" fill="#111" dy="2.62">ROS Positive cells(%)</text>
<rect x="355.30" y="784.30" width="9.20" height="4.20" fill="#8a8a8a" stroke="#333" stroke-width="0.6" />
<text x="0" y="0" transform="translate(368.60,789.15) scale(0.89,1)" font-size="7.64" font-weight="bold" text-anchor="start" fill="#111" >Vector+Pemigatinib</text>
<rect x="355.30" y="796.30" width="9.20" height="4.20" fill="#41568c" stroke="#333" stroke-width="0.6" />
<text x="0" y="0" transform="translate(368.60,801.15) scale(0.89,1)" font-size="7.64" font-weight="bold" text-anchor="start" fill="#111" >Drp1+Pemigatinib</text>
<rect x="355.30" y="808.20" width="9.20" height="4.20" fill="#a9d4e2" stroke="#333" stroke-width="0.6" />
<text x="0" y="0" transform="translate(368.60,813.05) scale(0.89,1)" font-size="7.64" font-weight="bold" text-anchor="start" fill="#111" >shROCK2+Pemigatinib</text>
<rect x="355.30" y="819.40" width="9.20" height="4.20" fill="#ecc433" stroke="#333" stroke-width="0.6" />
<text x="0" y="0" transform="translate(368.60,824.25) scale(0.89,1)" font-size="7.64" font-weight="bold" text-anchor="start" fill="#111" >Drp1+shROCK2+Pemigatinib</text>
<line x1="372.10" y1="835.80" x2="372.10" y2="921.25" stroke="#111" stroke-width="1.1"/>
<line x1="368.70" y1="920.70" x2="372.10" y2="920.70" stroke="#111" stroke-width="0.9900000000000001"/>
<text x="0" y="0" transform="translate(367.10,923.13) scale(0.89,1)" font-size="6.74" font-weight="bold" text-anchor="end" fill="#111" >0</text>
<line x1="368.70" y1="903.70" x2="372.10" y2="903.70" stroke="#111" stroke-width="0.9900000000000001"/>
<text x="0" y="0" transform="translate(367.10,906.13) scale(0.89,1)" font-size="6.74" font-weight="bold" text-anchor="end" fill="#111" >20</text>
<line x1="368.70" y1="886.90" x2="372.10" y2="886.90" stroke="#111" stroke-width="0.9900000000000001"/>
<text x="0" y="0" transform="translate(367.10,889.33) scale(0.89,1)" font-size="6.74" font-weight="bold" text-anchor="end" fill="#111" >40</text>
<line x1="368.70" y1="870.00" x2="372.10" y2="870.00" stroke="#111" stroke-width="0.9900000000000001"/>
<text x="0" y="0" transform="translate(367.10,872.43) scale(0.89,1)" font-size="6.74" font-weight="bold" text-anchor="end" fill="#111" >60</text>
<line x1="368.70" y1="852.80" x2="372.10" y2="852.80" stroke="#111" stroke-width="0.9900000000000001"/>
<text x="0" y="0" transform="translate(367.10,855.23) scale(0.89,1)" font-size="6.74" font-weight="bold" text-anchor="end" fill="#111" >80</text>
<line x1="368.70" y1="835.80" x2="372.10" y2="835.80" stroke="#111" stroke-width="0.9900000000000001"/>
<text x="0" y="0" transform="translate(367.10,838.23) scale(0.89,1)" font-size="6.74" font-weight="bold" text-anchor="end" fill="#111" >100</text>
<line x1="371.60" y1="920.70" x2="427.50" y2="920.70" stroke="#111" stroke-width="1.1"/>
<rect x="376.40" y="897.60" width="8.60" height="23.10" fill="#8a8a8a" stroke="#444" stroke-width="0.75" />
<circle cx="378.12" cy="894.80" r="2.0" fill="#fff" stroke="#333" stroke-width="0.8"/>
<circle cx="378.29" cy="898.80" r="2.0" fill="#fff" stroke="#333" stroke-width="0.8"/>
<circle cx="383.28" cy="897.30" r="2.0" fill="#fff" stroke="#333" stroke-width="0.8"/>
<rect x="388.60" y="911.80" width="8.60" height="8.90" fill="#41568c" stroke="#444" stroke-width="0.75" />
<circle cx="390.32" cy="913.20" r="2.0" fill="#fff" stroke="#333" stroke-width="0.8"/>
<circle cx="392.90" cy="909.60" r="2.0" fill="#fff" stroke="#333" stroke-width="0.8"/>
<circle cx="395.48" cy="912.20" r="2.0" fill="#fff" stroke="#333" stroke-width="0.8"/>
<rect x="401.30" y="844.80" width="9.20" height="75.90" fill="#a9d4e2" stroke="#444" stroke-width="0.75" />
<line x1="405.90" y1="840.30" x2="405.90" y2="844.80" stroke="#333" stroke-width="0.6"/>
<line x1="404.30" y1="840.30" x2="407.50" y2="840.30" stroke="#333" stroke-width="0.6"/>
<circle cx="403.14" cy="848.90" r="2.0" fill="#fff" stroke="#333" stroke-width="0.8"/>
<circle cx="405.90" cy="840.40" r="2.0" fill="#fff" stroke="#333" stroke-width="0.8"/>
<circle cx="408.66" cy="846.60" r="2.0" fill="#fff" stroke="#333" stroke-width="0.8"/>
<rect x="414.20" y="889.80" width="8.60" height="30.90" fill="#ecc433" stroke="#444" stroke-width="0.75" />
<circle cx="415.92" cy="890.60" r="2.0" fill="#fff" stroke="#333" stroke-width="0.8"/>
<circle cx="418.50" cy="888.60" r="2.0" fill="#fff" stroke="#333" stroke-width="0.8"/>
<circle cx="421.08" cy="890.30" r="2.0" fill="#fff" stroke="#333" stroke-width="0.8"/>
<path d="M379.90,889.80 L379.90,884.90 L394.80,884.90 L394.80,889.80" fill="none" stroke="#111" stroke-width="1.25"/>
<path d="M382.25,877.55 L382.82,878.90 L384.29,878.73 L383.40,879.90 L384.29,881.07 L382.82,880.90 L382.25,882.25 L381.68,880.90 L380.21,881.07 L381.10,879.90 L380.21,878.73 L381.68,878.90Z M387.35,877.55 L387.93,878.90 L389.39,878.73 L388.50,879.90 L389.39,881.07 L387.93,880.90 L387.35,882.25 L386.78,880.90 L385.31,881.07 L386.20,879.90 L385.31,878.73 L386.78,878.90Z M392.45,877.55 L393.02,878.90 L394.49,878.73 L393.60,879.90 L394.49,881.07 L393.02,880.90 L392.45,882.25 L391.88,880.90 L390.41,881.07 L391.30,879.90 L390.41,878.73 L391.88,878.90Z " fill="#111"/>
<path d="M405.40,838.30 L405.40,832.80 L421.30,832.80 L421.30,838.30" fill="none" stroke="#111" stroke-width="1.25"/>
<path d="M408.25,825.45 L408.82,826.80 L410.29,826.62 L409.40,827.80 L410.29,828.97 L408.82,828.80 L408.25,830.15 L407.68,828.80 L406.21,828.97 L407.10,827.80 L406.21,826.62 L407.68,826.80Z M413.35,825.45 L413.93,826.80 L415.39,826.62 L414.50,827.80 L415.39,828.97 L413.93,828.80 L413.35,830.15 L412.78,828.80 L411.31,828.97 L412.20,827.80 L411.31,826.62 L412.78,826.80Z M418.45,825.45 L419.02,826.80 L420.49,826.62 L419.60,827.80 L420.49,828.97 L419.02,828.80 L418.45,830.15 L417.88,828.80 L416.41,828.97 L417.30,827.80 L416.41,826.62 L417.88,826.80Z " fill="#111"/>
<text x="0" y="0" transform="translate(397.80,929.30) scale(0.89,1)" font-size="9.17" font-weight="bold" text-anchor="middle" fill="#111" >RBE</text>
<text x="0" y="0" transform="translate(349.70,877.40) rotate(-90)" font-size="7.04" font-weight="bold" text-anchor="middle" fill="#111" dy="2.53">ROS Positive cells(%)</text>
<text x="0" y="0" transform="translate(448.70,771.26) scale(1.0,1)" font-size="14.06" font-weight="bold" text-anchor="start" fill="#000" >L</text>
<svg x="0" y="0" width="565" height="931" overflow="hidden">
<rect x="471.20" y="785.80" width="7.70" height="4.20" fill="#8a8a8a" stroke="#333" stroke-width="0.6" />
<text x="0" y="0" transform="translate(482.90,790.61) scale(0.89,1)" font-size="7.53" font-weight="bold" text-anchor="start" fill="#111" >Vector+Pemigatinib</text>
<rect x="471.20" y="796.90" width="7.70" height="4.20" fill="#41568c" stroke="#333" stroke-width="0.6" />
<text x="0" y="0" transform="translate(482.90,801.71) scale(0.89,1)" font-size="7.53" font-weight="bold" text-anchor="start" fill="#111" >Drp1+Pemigatinib</text>
<rect x="471.20" y="807.50" width="7.70" height="4.20" fill="#a9d4e2" stroke="#333" stroke-width="0.6" />
<text x="0" y="0" transform="translate(482.90,812.31) scale(0.89,1)" font-size="7.53" font-weight="bold" text-anchor="start" fill="#111" >shROCK2+Pemigatinib</text>
<rect x="471.20" y="818.20" width="7.70" height="4.20" fill="#ecc433" stroke="#333" stroke-width="0.6" />
<text x="0" y="0" transform="translate(482.90,823.01) scale(0.89,1)" font-size="7.53" font-weight="bold" text-anchor="start" fill="#111" >Drp1+shROCK2+Pemigatinib</text>
</svg>
<line x1="487.70" y1="839.40" x2="487.70" y2="918.25" stroke="#111" stroke-width="1.1"/>
<line x1="484.30" y1="917.70" x2="487.70" y2="917.70" stroke="#111" stroke-width="0.9900000000000001"/>
<text x="0" y="0" transform="translate(482.70,920.13) scale(0.89,1)" font-size="6.74" font-weight="bold" text-anchor="end" fill="#111" >0</text>
<line x1="484.30" y1="898.20" x2="487.70" y2="898.20" stroke="#111" stroke-width="0.9900000000000001"/>
<text x="0" y="0" transform="translate(482.70,900.63) scale(0.89,1)" font-size="6.74" font-weight="bold" text-anchor="end" fill="#111" >25</text>
<line x1="484.30" y1="878.50" x2="487.70" y2="878.50" stroke="#111" stroke-width="0.9900000000000001"/>
<text x="0" y="0" transform="translate(482.70,880.93) scale(0.89,1)" font-size="6.74" font-weight="bold" text-anchor="end" fill="#111" >50</text>
<line x1="484.30" y1="858.90" x2="487.70" y2="858.90" stroke="#111" stroke-width="0.9900000000000001"/>
<text x="0" y="0" transform="translate(482.70,861.33) scale(0.89,1)" font-size="6.74" font-weight="bold" text-anchor="end" fill="#111" >75</text>
<line x1="484.30" y1="839.40" x2="487.70" y2="839.40" stroke="#111" stroke-width="0.9900000000000001"/>
<text x="0" y="0" transform="translate(482.70,841.83) scale(0.89,1)" font-size="6.74" font-weight="bold" text-anchor="end" fill="#111" >100</text>
<line x1="487.20" y1="917.70" x2="536.20" y2="917.70" stroke="#111" stroke-width="1.1"/>
<rect x="491.20" y="865.50" width="7.90" height="52.20" fill="#8a8a8a" stroke="#444" stroke-width="0.75" />
<circle cx="492.78" cy="866.80" r="2.0" fill="#fff" stroke="#333" stroke-width="0.8"/>
<circle cx="495.15" cy="863.80" r="2.0" fill="#fff" stroke="#333" stroke-width="0.8"/>
<circle cx="497.52" cy="865.30" r="2.0" fill="#fff" stroke="#333" stroke-width="0.8"/>
<rect x="502.40" y="913.40" width="7.70" height="4.30" fill="#41568c" stroke="#444" stroke-width="0.75" />
<circle cx="503.94" cy="912.50" r="2.0" fill="#fff" stroke="#333" stroke-width="0.8"/>
<circle cx="504.09" cy="916.50" r="2.0" fill="#fff" stroke="#333" stroke-width="0.8"/>
<circle cx="508.56" cy="914.50" r="2.0" fill="#fff" stroke="#333" stroke-width="0.8"/>
<rect x="513.80" y="845.20" width="7.70" height="72.50" fill="#a9d4e2" stroke="#444" stroke-width="0.75" />
<line x1="517.65" y1="841.70" x2="517.65" y2="845.20" stroke="#333" stroke-width="0.6"/>
<line x1="516.05" y1="841.70" x2="519.25" y2="841.70" stroke="#333" stroke-width="0.6"/>
<circle cx="515.34" cy="848.00" r="2.0" fill="#fff" stroke="#333" stroke-width="0.8"/>
<circle cx="517.65" cy="841.30" r="2.0" fill="#fff" stroke="#333" stroke-width="0.8"/>
<circle cx="519.96" cy="846.00" r="2.0" fill="#fff" stroke="#333" stroke-width="0.8"/>
<rect x="525.20" y="860.80" width="7.30" height="56.90" fill="#ecc433" stroke="#444" stroke-width="0.75" />
<circle cx="528.85" cy="857.30" r="2.0" fill="#fff" stroke="#333" stroke-width="0.8"/>
<circle cx="528.85" cy="864.50" r="2.0" fill="#fff" stroke="#333" stroke-width="0.8"/>
<circle cx="528.85" cy="860.80" r="2.0" fill="#fff" stroke="#333" stroke-width="0.8"/>
<path d="M494.00,860.00 L494.00,855.60 L506.80,855.60 L506.80,860.00" fill="none" stroke="#111" stroke-width="1.25"/>
<path d="M495.30,848.75 L495.87,850.10 L497.34,849.93 L496.45,851.10 L497.34,852.27 L495.87,852.10 L495.30,853.45 L494.72,852.10 L493.26,852.27 L494.15,851.10 L493.26,849.93 L494.72,850.10Z M500.40,848.75 L500.97,850.10 L502.44,849.93 L501.55,851.10 L502.44,852.27 L500.97,852.10 L500.40,853.45 L499.82,852.10 L498.36,852.27 L499.25,851.10 L498.36,849.93 L499.82,850.10Z M505.50,848.75 L506.07,850.10 L507.54,849.93 L506.65,851.10 L507.54,852.27 L506.07,852.10 L505.50,853.45 L504.92,852.10 L503.46,852.27 L504.35,851.10 L503.46,849.93 L504.92,850.10Z " fill="#111"/>
<path d="M516.60,836.70 L516.60,832.60 L529.40,832.60 L529.40,836.70" fill="none" stroke="#111" stroke-width="1.25"/>
<path d="M520.45,825.25 L521.03,826.60 L522.49,826.43 L521.60,827.60 L522.49,828.77 L521.03,828.60 L520.45,829.95 L519.88,828.60 L518.41,828.77 L519.30,827.60 L518.41,826.43 L519.88,826.60Z M525.55,825.25 L526.13,826.60 L527.59,826.43 L526.70,827.60 L527.59,828.77 L526.13,828.60 L525.55,829.95 L524.98,828.60 L523.51,828.77 L524.40,827.60 L523.51,826.43 L524.98,826.60Z " fill="#111"/>
<text x="0" y="0" transform="translate(511.00,928.79) scale(0.89,1)" font-size="8.85" font-weight="bold" text-anchor="middle" fill="#111" >QBC-939</text>
<text x="0" y="0" transform="translate(468.00,877.90) rotate(-90)" font-size="6.59" font-weight="bold" text-anchor="middle" fill="#111" dy="2.37">Fe<tspan font-size="3.95" dy="-2.50">2+</tspan><tspan dy="2.50"> Positive cells(%)</tspan></text>
<rect x="575.10" y="784.00" width="8.80" height="4.20" fill="#8a8a8a" stroke="#333" stroke-width="0.6" />
<text x="0" y="0" transform="translate(588.90,788.85) scale(0.89,1)" font-size="7.64" font-weight="bold" text-anchor="start" fill="#111" >Vector+Pemigatinib</text>
<rect x="575.10" y="795.60" width="8.80" height="4.20" fill="#41568c" stroke="#333" stroke-width="0.6" />
<text x="0" y="0" transform="translate(588.90,800.45) scale(0.89,1)" font-size="7.64" font-weight="bold" text-anchor="start" fill="#111" >Drp1+Pemigatinib</text>
<rect x="575.10" y="807.10" width="8.80" height="4.20" fill="#a9d4e2" stroke="#333" stroke-width="0.6" />
<text x="0" y="0" transform="translate(588.90,811.95) scale(0.89,1)" font-size="7.64" font-weight="bold" text-anchor="start" fill="#111" >shROCK2+Pemigatinib</text>
<rect x="575.10" y="818.50" width="8.80" height="4.20" fill="#ecc433" stroke="#333" stroke-width="0.6" />
<text x="0" y="0" transform="translate(588.90,823.35) scale(0.89,1)" font-size="7.64" font-weight="bold" text-anchor="start" fill="#111" >Drp1+shROCK2+Pemigatinib</text>
<line x1="590.50" y1="835.70" x2="590.50" y2="919.25" stroke="#111" stroke-width="1.1"/>
<line x1="587.10" y1="918.70" x2="590.50" y2="918.70" stroke="#111" stroke-width="0.9900000000000001"/>
<text x="0" y="0" transform="translate(585.50,921.13) scale(0.89,1)" font-size="6.74" font-weight="bold" text-anchor="end" fill="#111" >0</text>
<line x1="587.10" y1="902.00" x2="590.50" y2="902.00" stroke="#111" stroke-width="0.9900000000000001"/>
<text x="0" y="0" transform="translate(585.50,904.43) scale(0.89,1)" font-size="6.74" font-weight="bold" text-anchor="end" fill="#111" >20</text>
<line x1="587.10" y1="885.50" x2="590.50" y2="885.50" stroke="#111" stroke-width="0.9900000000000001"/>
<text x="0" y="0" transform="translate(585.50,887.93) scale(0.89,1)" font-size="6.74" font-weight="bold" text-anchor="end" fill="#111" >40</text>
<line x1="587.10" y1="869.00" x2="590.50" y2="869.00" stroke="#111" stroke-width="0.9900000000000001"/>
<text x="0" y="0" transform="translate(585.50,871.43) scale(0.89,1)" font-size="6.74" font-weight="bold" text-anchor="end" fill="#111" >60</text>
<line x1="587.10" y1="852.40" x2="590.50" y2="852.40" stroke="#111" stroke-width="0.9900000000000001"/>
<text x="0" y="0" transform="translate(585.50,854.83) scale(0.89,1)" font-size="6.74" font-weight="bold" text-anchor="end" fill="#111" >80</text>
<line x1="587.10" y1="835.70" x2="590.50" y2="835.70" stroke="#111" stroke-width="0.9900000000000001"/>
<text x="0" y="0" transform="translate(585.50,838.13) scale(0.89,1)" font-size="6.74" font-weight="bold" text-anchor="end" fill="#111" >100</text>
<line x1="590.00" y1="918.70" x2="645.90" y2="918.70" stroke="#111" stroke-width="1.1"/>
<rect x="595.00" y="900.60" width="8.60" height="18.10" fill="#8a8a8a" stroke="#444" stroke-width="0.75" />
<circle cx="596.72" cy="902.00" r="2.0" fill="#fff" stroke="#333" stroke-width="0.8"/>
<circle cx="599.30" cy="900.00" r="2.0" fill="#fff" stroke="#333" stroke-width="0.8"/>
<circle cx="601.88" cy="901.30" r="2.0" fill="#fff" stroke="#333" stroke-width="0.8"/>
<rect x="607.60" y="914.30" width="8.50" height="4.40" fill="#41568c" stroke="#444" stroke-width="0.75" />
<circle cx="609.30" cy="915.50" r="2.0" fill="#fff" stroke="#333" stroke-width="0.8"/>
<circle cx="611.85" cy="912.30" r="2.0" fill="#fff" stroke="#333" stroke-width="0.8"/>
<circle cx="614.40" cy="915.00" r="2.0" fill="#fff" stroke="#333" stroke-width="0.8"/>
<rect x="620.50" y="842.40" width="8.50" height="76.30" fill="#a9d4e2" stroke="#444" stroke-width="0.75" />
<circle cx="622.20" cy="840.50" r="2.0" fill="#fff" stroke="#333" stroke-width="0.8"/>
<circle cx="624.75" cy="846.00" r="2.0" fill="#fff" stroke="#333" stroke-width="0.8"/>
<circle cx="627.30" cy="842.00" r="2.0" fill="#fff" stroke="#333" stroke-width="0.8"/>
<rect x="633.40" y="899.60" width="8.40" height="19.10" fill="#ecc433" stroke="#444" stroke-width="0.75" />
<line x1="637.60" y1="895.10" x2="637.60" y2="899.60" stroke="#333" stroke-width="0.6"/>
<line x1="636.00" y1="895.10" x2="639.20" y2="895.10" stroke="#333" stroke-width="0.6"/>
<circle cx="635.08" cy="903.00" r="2.0" fill="#fff" stroke="#333" stroke-width="0.8"/>
<circle cx="637.60" cy="895.00" r="2.0" fill="#fff" stroke="#333" stroke-width="0.8"/>
<circle cx="640.12" cy="900.20" r="2.0" fill="#fff" stroke="#333" stroke-width="0.8"/>
<path d="M597.70,895.30 L597.70,890.80 L614.20,890.80 L614.20,895.30" fill="none" stroke="#111" stroke-width="1.25"/>
<path d="M603.40,884.05 L603.98,885.40 L605.44,885.23 L604.55,886.40 L605.44,887.57 L603.98,887.40 L603.40,888.75 L602.83,887.40 L601.36,887.57 L602.25,886.40 L601.36,885.23 L602.83,885.40Z M608.50,884.05 L609.08,885.40 L610.54,885.23 L609.65,886.40 L610.54,887.57 L609.08,887.40 L608.50,888.75 L607.93,887.40 L606.46,887.57 L607.35,886.40 L606.46,885.23 L607.93,885.40Z " fill="#111"/>
<path d="M624.20,836.50 L624.20,832.00 L638.10,832.00 L638.10,836.50" fill="none" stroke="#111" stroke-width="1.25"/>
<path d="M626.05,824.75 L626.63,826.10 L628.09,825.93 L627.20,827.10 L628.09,828.27 L626.63,828.10 L626.05,829.45 L625.48,828.10 L624.01,828.27 L624.90,827.10 L624.01,825.93 L625.48,826.10Z M631.15,824.75 L631.73,826.10 L633.19,825.93 L632.30,827.10 L633.19,828.27 L631.73,828.10 L631.15,829.45 L630.58,828.10 L629.11,828.27 L630.00,827.10 L629.11,825.93 L630.58,826.10Z M636.25,824.75 L636.83,826.10 L638.29,825.93 L637.40,827.10 L638.29,828.27 L636.83,828.10 L636.25,829.45 L635.68,828.10 L634.21,828.27 L635.10,827.10 L634.21,825.93 L635.68,826.10Z " fill="#111"/>
<text x="0" y="0" transform="translate(618.50,928.48) scale(0.89,1)" font-size="9.11" font-weight="bold" text-anchor="middle" fill="#111" >RBE</text>
<text x="0" y="0" transform="translate(568.50,877.30) rotate(-90)" font-size="6.96" font-weight="bold" text-anchor="middle" fill="#111" dy="2.50">Fe<tspan font-size="4.17" dy="-2.64">2+</tspan><tspan dy="2.64"> Positive cells(%)</tspan></text>
</svg></body></html>
